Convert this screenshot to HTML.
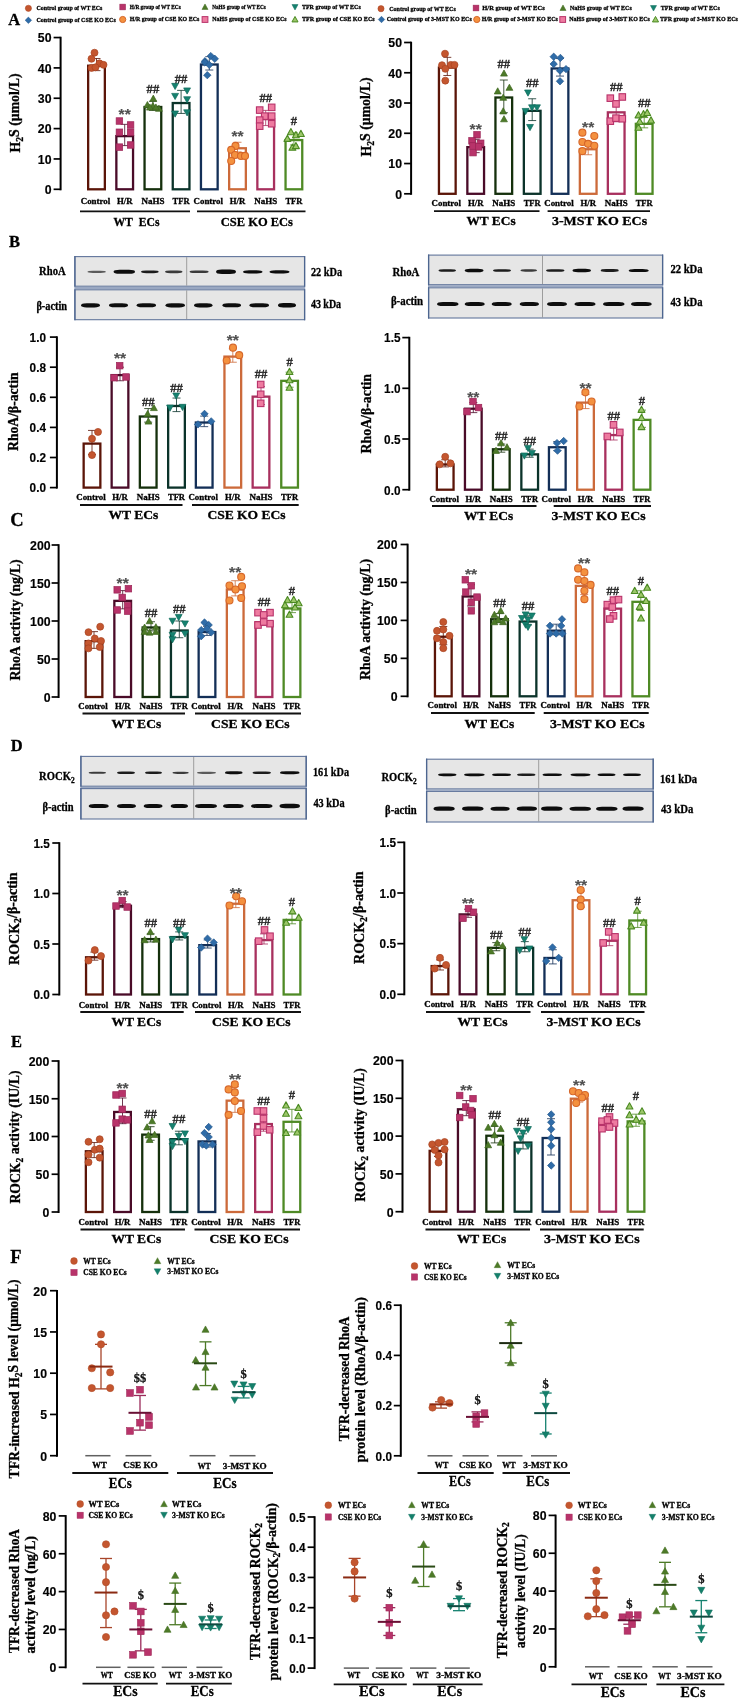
<!DOCTYPE html><html><head><meta charset="utf-8"><style>html,body{margin:0;padding:0;background:#fff;}svg{display:block;will-change:transform;filter:blur(0.35px);}</style></head><body>
<svg width="742" height="1701" viewBox="0 0 742 1701">
<defs><filter id="bl" x="-20%" y="-100%" width="140%" height="300%"><feGaussianBlur stdDeviation="0.55"/></filter></defs>
<rect width="742" height="1701" fill="#fff"/>
<text x="14.2" y="25" font-family='"Liberation Serif", serif' font-size="16.5" font-weight="bold" text-anchor="middle" fill="#000" stroke="#000" stroke-width="0.3">A</text>
<text x="14.5" y="247" font-family='"Liberation Serif", serif' font-size="16.5" font-weight="bold" text-anchor="middle" fill="#000" stroke="#000" stroke-width="0.3">B</text>
<text x="16.9" y="525.5" font-family='"Liberation Serif", serif' font-size="18.5" font-weight="bold" text-anchor="middle" fill="#000" stroke="#000" stroke-width="0.3">C</text>
<text x="16.8" y="750.5" font-family='"Liberation Serif", serif' font-size="16.5" font-weight="bold" text-anchor="middle" fill="#000" stroke="#000" stroke-width="0.3">D</text>
<text x="16.5" y="1047" font-family='"Liberation Serif", serif' font-size="16.5" font-weight="bold" text-anchor="middle" fill="#000" stroke="#000" stroke-width="0.3">E</text>
<text x="16" y="1262.6" font-family='"Liberation Serif", serif' font-size="18.5" font-weight="bold" text-anchor="middle" fill="#000" stroke="#000" stroke-width="0.3">F</text>
<circle cx="28.4" cy="8.3" r="3.1" fill="#C4562F" stroke="#A8421F" stroke-width="0.5"/>
<text x="69.4" y="10.22" font-family='"Liberation Serif", serif' font-size="7" font-weight="bold" text-anchor="middle" fill="#000" textLength="65.7" lengthAdjust="spacingAndGlyphs" stroke="#000" stroke-width="0.3">Control group of WT ECs</text>
<path d="M28.4 17.05L31.65 20.3L28.4 23.55L25.14 20.3Z" fill="#2F6CA8" stroke="#24578C" stroke-width="0.5"/>
<text x="76.15" y="22.22" font-family='"Liberation Serif", serif' font-size="7" font-weight="bold" text-anchor="middle" fill="#000" textLength="79.2" lengthAdjust="spacingAndGlyphs" stroke="#000" stroke-width="0.3">Control group of CSE KO ECs</text>
<rect x="119.82" y="4.12" width="5.77" height="5.77" fill="#B8336A" stroke="#9A2455" stroke-width="0.5"/>
<text x="155.25" y="8.92" font-family='"Liberation Serif", serif' font-size="7" font-weight="bold" text-anchor="middle" fill="#000" textLength="51" lengthAdjust="spacingAndGlyphs" stroke="#000" stroke-width="0.3">H/R group of WT ECs</text>
<circle cx="122.7" cy="19.5" r="3.1" fill="#F4913F" stroke="#D6672A" stroke-width="1"/>
<text x="164.5" y="21.42" font-family='"Liberation Serif", serif' font-size="7" font-weight="bold" text-anchor="middle" fill="#000" textLength="69.5" lengthAdjust="spacingAndGlyphs" stroke="#000" stroke-width="0.3">H/R group of CSE KO ECs</text>
<path d="M205 3.96L208.04 9.43L201.96 9.43Z" fill="#4D7A28" stroke="#3C661C" stroke-width="0.5" stroke-linejoin="round"/>
<text x="239" y="8.92" font-family='"Liberation Serif", serif' font-size="7" font-weight="bold" text-anchor="middle" fill="#000" textLength="53.5" lengthAdjust="spacingAndGlyphs" stroke="#000" stroke-width="0.3">NaHS group of WT ECs</text>
<rect x="202.12" y="16.62" width="5.77" height="5.77" fill="#EE7BA0" stroke="#B8336A" stroke-width="1"/>
<text x="249.4" y="21.42" font-family='"Liberation Serif", serif' font-size="7" font-weight="bold" text-anchor="middle" fill="#000" textLength="74.3" lengthAdjust="spacingAndGlyphs" stroke="#000" stroke-width="0.3">NaHS group of CSE KO ECs</text>
<path d="M295 10.04L298.04 4.57L291.96 4.57Z" fill="#168270" stroke="#0D6A5A" stroke-width="0.5" stroke-linejoin="round"/>
<text x="331.35" y="8.92" font-family='"Liberation Serif", serif' font-size="7" font-weight="bold" text-anchor="middle" fill="#000" textLength="58.8" lengthAdjust="spacingAndGlyphs" stroke="#000" stroke-width="0.3">TFR group of WT ECs</text>
<path d="M295 16.46L298.04 21.93L291.96 21.93Z" fill="#9CC76A" stroke="#4B8A22" stroke-width="1" stroke-linejoin="round"/>
<text x="338.35" y="21.42" font-family='"Liberation Serif", serif' font-size="7" font-weight="bold" text-anchor="middle" fill="#000" textLength="72.8" lengthAdjust="spacingAndGlyphs" stroke="#000" stroke-width="0.3">TFR group of CSE KO ECs</text>
<circle cx="381" cy="8.7" r="3.1" fill="#C4562F" stroke="#A8421F" stroke-width="0.5"/>
<text x="422.5" y="10.62" font-family='"Liberation Serif", serif' font-size="7" font-weight="bold" text-anchor="middle" fill="#000" textLength="66.5" lengthAdjust="spacingAndGlyphs" stroke="#000" stroke-width="0.3">Control group of WT ECs</text>
<path d="M381.5 16.25L384.75 19.5L381.5 22.75L378.25 19.5Z" fill="#2F6CA8" stroke="#24578C" stroke-width="0.5"/>
<text x="429.25" y="21.42" font-family='"Liberation Serif", serif' font-size="7" font-weight="bold" text-anchor="middle" fill="#000" textLength="85" lengthAdjust="spacingAndGlyphs" stroke="#000" stroke-width="0.3">Control group of 3-MST KO ECs</text>
<rect x="473.12" y="5.12" width="5.77" height="5.77" fill="#B8336A" stroke="#9A2455" stroke-width="0.5"/>
<text x="513.5" y="9.92" font-family='"Liberation Serif", serif' font-size="7" font-weight="bold" text-anchor="middle" fill="#000" textLength="62.5" lengthAdjust="spacingAndGlyphs" stroke="#000" stroke-width="0.3">H/R group of WT ECs</text>
<circle cx="476.8" cy="19.5" r="3.1" fill="#F4913F" stroke="#D6672A" stroke-width="1"/>
<text x="519.85" y="21.42" font-family='"Liberation Serif", serif' font-size="7" font-weight="bold" text-anchor="middle" fill="#000" textLength="76.2" lengthAdjust="spacingAndGlyphs" stroke="#000" stroke-width="0.3">H/R group of 3-MST KO ECs</text>
<path d="M563 4.96L566.04 10.43L559.96 10.43Z" fill="#4D7A28" stroke="#3C661C" stroke-width="0.5" stroke-linejoin="round"/>
<text x="600.85" y="9.92" font-family='"Liberation Serif", serif' font-size="7" font-weight="bold" text-anchor="middle" fill="#000" textLength="61.8" lengthAdjust="spacingAndGlyphs" stroke="#000" stroke-width="0.3">NaHS group of WT ECs</text>
<rect x="559.82" y="16.62" width="5.77" height="5.77" fill="#EE7BA0" stroke="#B8336A" stroke-width="1"/>
<text x="609.6" y="21.42" font-family='"Liberation Serif", serif' font-size="7" font-weight="bold" text-anchor="middle" fill="#000" textLength="80.7" lengthAdjust="spacingAndGlyphs" stroke="#000" stroke-width="0.3">NaHS group of 3-MST KO ECs</text>
<path d="M653.5 11.04L656.54 5.57L650.46 5.57Z" fill="#168270" stroke="#0D6A5A" stroke-width="0.5" stroke-linejoin="round"/>
<text x="690.25" y="9.92" font-family='"Liberation Serif", serif' font-size="7" font-weight="bold" text-anchor="middle" fill="#000" textLength="59" lengthAdjust="spacingAndGlyphs" stroke="#000" stroke-width="0.3">TFR group of WT ECs</text>
<path d="M655.5 16.46L658.54 21.93L652.46 21.93Z" fill="#9CC76A" stroke="#4B8A22" stroke-width="1" stroke-linejoin="round"/>
<text x="698.95" y="21.42" font-family='"Liberation Serif", serif' font-size="7" font-weight="bold" text-anchor="middle" fill="#000" textLength="78" lengthAdjust="spacingAndGlyphs" stroke="#000" stroke-width="0.3">TFR group of 3-MST KO ECs</text>
<line x1="60.6" y1="36.75" x2="60.6" y2="190.3" stroke="#000" stroke-width="2"/>
<line x1="53.6" y1="189.3" x2="60.6" y2="189.3" stroke="#000" stroke-width="1.7"/>
<text x="51.5" y="194.1" font-family='"Liberation Sans", sans-serif' font-size="12.3" font-weight="bold" text-anchor="end" fill="#000" stroke="#000" stroke-width="0.15">0</text>
<line x1="53.6" y1="158.95" x2="60.6" y2="158.95" stroke="#000" stroke-width="1.7"/>
<text x="51.5" y="163.75" font-family='"Liberation Sans", sans-serif' font-size="12.3" font-weight="bold" text-anchor="end" fill="#000" stroke="#000" stroke-width="0.15">10</text>
<line x1="53.6" y1="128.6" x2="60.6" y2="128.6" stroke="#000" stroke-width="1.7"/>
<text x="51.5" y="133.4" font-family='"Liberation Sans", sans-serif' font-size="12.3" font-weight="bold" text-anchor="end" fill="#000" stroke="#000" stroke-width="0.15">20</text>
<line x1="53.6" y1="98.25" x2="60.6" y2="98.25" stroke="#000" stroke-width="1.7"/>
<text x="51.5" y="103.05" font-family='"Liberation Sans", sans-serif' font-size="12.3" font-weight="bold" text-anchor="end" fill="#000" stroke="#000" stroke-width="0.15">30</text>
<line x1="53.6" y1="67.9" x2="60.6" y2="67.9" stroke="#000" stroke-width="1.7"/>
<text x="51.5" y="72.7" font-family='"Liberation Sans", sans-serif' font-size="12.3" font-weight="bold" text-anchor="end" fill="#000" stroke="#000" stroke-width="0.15">40</text>
<line x1="53.6" y1="37.55" x2="60.6" y2="37.55" stroke="#000" stroke-width="1.7"/>
<text x="51.5" y="42.35" font-family='"Liberation Sans", sans-serif' font-size="12.3" font-weight="bold" text-anchor="end" fill="#000" stroke="#000" stroke-width="0.15">50</text>
<rect x="88.15" y="65.71" width="16.7" height="123.59" fill="#fff" stroke="#5B1508" stroke-width="2.3"/>
<rect x="116.35" y="136.12" width="16.7" height="53.18" fill="#fff" stroke="#4A0B28" stroke-width="2.3"/>
<rect x="144.55" y="106.99" width="16.7" height="82.31" fill="#fff" stroke="#15300c" stroke-width="2.3"/>
<rect x="172.75" y="103.04" width="16.7" height="86.26" fill="#fff" stroke="#0b332a" stroke-width="2.3"/>
<rect x="200.95" y="64.5" width="16.7" height="124.8" fill="#fff" stroke="#132f57" stroke-width="2.3"/>
<rect x="229.15" y="148.26" width="16.7" height="41.04" fill="#fff" stroke="#cc6a3a" stroke-width="2.3"/>
<rect x="257.35" y="119.13" width="16.7" height="70.17" fill="#fff" stroke="#A8305E" stroke-width="2.3"/>
<rect x="285.55" y="140.07" width="16.7" height="49.23" fill="#fff" stroke="#4F8A25" stroke-width="2.3"/>
<line x1="96.5" y1="58.49" x2="96.5" y2="70.63" stroke="#5B1508" stroke-width="1" opacity="0.8"/>
<line x1="92.5" y1="58.49" x2="100.5" y2="58.49" stroke="#5B1508" stroke-width="1" opacity="0.8"/>
<line x1="92.5" y1="70.63" x2="100.5" y2="70.63" stroke="#5B1508" stroke-width="1" opacity="0.8"/>
<circle cx="94.5" cy="52.72" r="3.5" fill="#C4562F" stroke="#A8421F" stroke-width="0.7"/>
<circle cx="91.5" cy="58.8" r="3.5" fill="#C4562F" stroke="#A8421F" stroke-width="0.7"/>
<circle cx="99.5" cy="63.35" r="3.5" fill="#C4562F" stroke="#A8421F" stroke-width="0.7"/>
<circle cx="103.5" cy="64.87" r="3.5" fill="#C4562F" stroke="#A8421F" stroke-width="0.7"/>
<circle cx="91.5" cy="67.9" r="3.5" fill="#C4562F" stroke="#A8421F" stroke-width="0.7"/>
<circle cx="95.5" cy="67.29" r="3.5" fill="#C4562F" stroke="#A8421F" stroke-width="0.7"/>
<line x1="124.7" y1="124.35" x2="124.7" y2="145.6" stroke="#4A0B28" stroke-width="1" opacity="0.8"/>
<line x1="120.7" y1="124.35" x2="128.7" y2="124.35" stroke="#4A0B28" stroke-width="1" opacity="0.8"/>
<line x1="120.7" y1="145.6" x2="128.7" y2="145.6" stroke="#4A0B28" stroke-width="1" opacity="0.8"/>
<rect x="116.15" y="117.76" width="6.51" height="6.51" fill="#B8336A" stroke="#9A2455" stroke-width="0.7"/>
<rect x="127.34" y="121.7" width="6.51" height="6.51" fill="#B8336A" stroke="#9A2455" stroke-width="0.7"/>
<rect x="116.15" y="128.99" width="6.51" height="6.51" fill="#B8336A" stroke="#9A2455" stroke-width="0.7"/>
<rect x="127.34" y="128.99" width="6.51" height="6.51" fill="#B8336A" stroke="#9A2455" stroke-width="0.7"/>
<rect x="116.15" y="143.86" width="6.51" height="6.51" fill="#B8336A" stroke="#9A2455" stroke-width="0.7"/>
<rect x="127.34" y="141.73" width="6.51" height="6.51" fill="#B8336A" stroke="#9A2455" stroke-width="0.7"/>
<line x1="152.9" y1="101.29" x2="152.9" y2="110.39" stroke="#15300c" stroke-width="1" opacity="0.8"/>
<line x1="148.9" y1="101.29" x2="156.9" y2="101.29" stroke="#15300c" stroke-width="1" opacity="0.8"/>
<line x1="148.9" y1="110.39" x2="156.9" y2="110.39" stroke="#15300c" stroke-width="1" opacity="0.8"/>
<path d="M153.3 95.12L156.73 101.3L149.87 101.3Z" fill="#4D7A28" stroke="#3C661C" stroke-width="0.7" stroke-linejoin="round"/>
<path d="M147.4 101.5L150.83 107.67L143.97 107.67Z" fill="#4D7A28" stroke="#3C661C" stroke-width="0.7" stroke-linejoin="round"/>
<path d="M158.9 105.14L162.33 111.31L155.47 111.31Z" fill="#4D7A28" stroke="#3C661C" stroke-width="0.7" stroke-linejoin="round"/>
<path d="M152.9 102.41L156.33 108.58L149.47 108.58Z" fill="#4D7A28" stroke="#3C661C" stroke-width="0.7" stroke-linejoin="round"/>
<path d="M149.9 103.93L153.33 110.1L146.47 110.1Z" fill="#4D7A28" stroke="#3C661C" stroke-width="0.7" stroke-linejoin="round"/>
<path d="M155.9 103.93L159.33 110.1L152.47 110.1Z" fill="#4D7A28" stroke="#3C661C" stroke-width="0.7" stroke-linejoin="round"/>
<line x1="181.1" y1="90.36" x2="181.1" y2="113.43" stroke="#0b332a" stroke-width="1" opacity="0.8"/>
<line x1="177.1" y1="90.36" x2="185.1" y2="90.36" stroke="#0b332a" stroke-width="1" opacity="0.8"/>
<line x1="177.1" y1="113.43" x2="185.1" y2="113.43" stroke="#0b332a" stroke-width="1" opacity="0.8"/>
<path d="M175.1 89.54L178.53 83.37L171.67 83.37Z" fill="#168270" stroke="#0D6A5A" stroke-width="0.7" stroke-linejoin="round"/>
<path d="M187.1 94.09L190.53 87.92L183.67 87.92Z" fill="#168270" stroke="#0D6A5A" stroke-width="0.7" stroke-linejoin="round"/>
<path d="M175.1 99.56L178.53 93.38L171.67 93.38Z" fill="#168270" stroke="#0D6A5A" stroke-width="0.7" stroke-linejoin="round"/>
<path d="M187.1 102.89L190.53 96.72L183.67 96.72Z" fill="#168270" stroke="#0D6A5A" stroke-width="0.7" stroke-linejoin="round"/>
<path d="M175.1 117.16L178.53 110.98L171.67 110.98Z" fill="#168270" stroke="#0D6A5A" stroke-width="0.7" stroke-linejoin="round"/>
<path d="M187.1 115.94L190.53 109.77L183.67 109.77Z" fill="#168270" stroke="#0D6A5A" stroke-width="0.7" stroke-linejoin="round"/>
<line x1="209.3" y1="56.67" x2="209.3" y2="70.02" stroke="#132f57" stroke-width="1" opacity="0.8"/>
<line x1="205.3" y1="56.67" x2="213.3" y2="56.67" stroke="#132f57" stroke-width="1" opacity="0.8"/>
<line x1="205.3" y1="70.02" x2="213.3" y2="70.02" stroke="#132f57" stroke-width="1" opacity="0.8"/>
<path d="M205 57.55L208.68 61.22L205 64.9L201.32 61.22Z" fill="#2F6CA8" stroke="#24578C" stroke-width="0.7"/>
<path d="M210.8 52.39L214.48 56.06L210.8 59.74L207.12 56.06Z" fill="#2F6CA8" stroke="#24578C" stroke-width="0.7"/>
<path d="M214.8 55.12L218.48 58.8L214.8 62.47L211.12 58.8Z" fill="#2F6CA8" stroke="#24578C" stroke-width="0.7"/>
<path d="M204.8 58.76L208.48 62.44L204.8 66.11L201.12 62.44Z" fill="#2F6CA8" stroke="#24578C" stroke-width="0.7"/>
<path d="M207.3 71.51L210.98 75.18L207.3 78.86L203.62 75.18Z" fill="#2F6CA8" stroke="#24578C" stroke-width="0.7"/>
<path d="M209.3 61.19L212.98 64.87L209.3 68.54L205.62 64.87Z" fill="#2F6CA8" stroke="#24578C" stroke-width="0.7"/>
<line x1="237.5" y1="142.26" x2="237.5" y2="151.97" stroke="#cc6a3a" stroke-width="1" opacity="0.8"/>
<line x1="233.5" y1="142.26" x2="241.5" y2="142.26" stroke="#cc6a3a" stroke-width="1" opacity="0.8"/>
<line x1="233.5" y1="151.97" x2="241.5" y2="151.97" stroke="#cc6a3a" stroke-width="1" opacity="0.8"/>
<circle cx="235.5" cy="145.9" r="3.5" fill="#F4913F" stroke="#D6672A" stroke-width="1.1"/>
<circle cx="231.2" cy="149.85" r="3.5" fill="#F4913F" stroke="#D6672A" stroke-width="1.1"/>
<circle cx="235" cy="155" r="3.5" fill="#F4913F" stroke="#D6672A" stroke-width="1.1"/>
<circle cx="241" cy="155.92" r="3.5" fill="#F4913F" stroke="#D6672A" stroke-width="1.1"/>
<circle cx="245" cy="155.92" r="3.5" fill="#F4913F" stroke="#D6672A" stroke-width="1.1"/>
<circle cx="231.2" cy="161.07" r="3.5" fill="#F4913F" stroke="#D6672A" stroke-width="1.1"/>
<line x1="265.7" y1="110.39" x2="265.7" y2="125.57" stroke="#A8305E" stroke-width="1" opacity="0.8"/>
<line x1="261.7" y1="110.39" x2="269.7" y2="110.39" stroke="#A8305E" stroke-width="1" opacity="0.8"/>
<line x1="261.7" y1="125.57" x2="269.7" y2="125.57" stroke="#A8305E" stroke-width="1" opacity="0.8"/>
<rect x="256.44" y="106.83" width="6.51" height="6.51" fill="#EE7BA0" stroke="#B8336A" stroke-width="1.1"/>
<rect x="268.44" y="104.1" width="6.51" height="6.51" fill="#EE7BA0" stroke="#B8336A" stroke-width="1.1"/>
<rect x="268.44" y="112.9" width="6.51" height="6.51" fill="#EE7BA0" stroke="#B8336A" stroke-width="1.1"/>
<rect x="261.44" y="112.9" width="6.51" height="6.51" fill="#EE7BA0" stroke="#B8336A" stroke-width="1.1"/>
<rect x="256.44" y="116.85" width="6.51" height="6.51" fill="#EE7BA0" stroke="#B8336A" stroke-width="1.1"/>
<rect x="268.44" y="120.49" width="6.51" height="6.51" fill="#EE7BA0" stroke="#B8336A" stroke-width="1.1"/>
<rect x="256.44" y="122.92" width="6.51" height="6.51" fill="#EE7BA0" stroke="#B8336A" stroke-width="1.1"/>
<line x1="293.9" y1="132.85" x2="293.9" y2="144.99" stroke="#4F8A25" stroke-width="1" opacity="0.8"/>
<line x1="289.9" y1="132.85" x2="297.9" y2="132.85" stroke="#4F8A25" stroke-width="1" opacity="0.8"/>
<line x1="289.9" y1="144.99" x2="297.9" y2="144.99" stroke="#4F8A25" stroke-width="1" opacity="0.8"/>
<path d="M290.9 128.51L294.33 134.68L287.47 134.68Z" fill="#9CC76A" stroke="#4B8A22" stroke-width="1.1" stroke-linejoin="round"/>
<path d="M295.9 131.54L299.33 137.72L292.47 137.72Z" fill="#9CC76A" stroke="#4B8A22" stroke-width="1.1" stroke-linejoin="round"/>
<path d="M300.9 130.33L304.33 136.5L297.47 136.5Z" fill="#9CC76A" stroke="#4B8A22" stroke-width="1.1" stroke-linejoin="round"/>
<path d="M287.4 135.19L290.83 141.36L283.97 141.36Z" fill="#9CC76A" stroke="#4B8A22" stroke-width="1.1" stroke-linejoin="round"/>
<path d="M292.4 143.99L295.83 150.16L288.97 150.16Z" fill="#9CC76A" stroke="#4B8A22" stroke-width="1.1" stroke-linejoin="round"/>
<path d="M295.9 142.47L299.33 148.64L292.47 148.64Z" fill="#9CC76A" stroke="#4B8A22" stroke-width="1.1" stroke-linejoin="round"/>
<text x="124.7" y="119.01" font-family='"Liberation Sans", sans-serif' font-size="15.5" font-weight="bold" text-anchor="middle" fill="#505050" textLength="12.2" lengthAdjust="spacingAndGlyphs" stroke="#505050" stroke-width="0.15">**</text>
<text x="152.9" y="93.29" font-family='"Liberation Serif", serif' font-size="13.5" font-weight="bold" text-anchor="middle" fill="#222" textLength="12.6" lengthAdjust="spacingAndGlyphs" stroke="#222" stroke-width="0.3">##</text>
<text x="181.1" y="82.59" font-family='"Liberation Serif", serif' font-size="13.5" font-weight="bold" text-anchor="middle" fill="#222" textLength="12.6" lengthAdjust="spacingAndGlyphs" stroke="#222" stroke-width="0.3">##</text>
<text x="237.5" y="141.21" font-family='"Liberation Sans", sans-serif' font-size="15.5" font-weight="bold" text-anchor="middle" fill="#505050" textLength="12.2" lengthAdjust="spacingAndGlyphs" stroke="#505050" stroke-width="0.15">**</text>
<text x="265.7" y="101.59" font-family='"Liberation Serif", serif' font-size="13.5" font-weight="bold" text-anchor="middle" fill="#222" textLength="12.6" lengthAdjust="spacingAndGlyphs" stroke="#222" stroke-width="0.3">##</text>
<text x="293.9" y="124.59" font-family='"Liberation Serif", serif' font-size="13.5" font-weight="bold" text-anchor="middle" fill="#222" textLength="6.3" lengthAdjust="spacingAndGlyphs" stroke="#222" stroke-width="0.3">#</text>
<text x="95.5" y="203.7" font-family='"Liberation Serif", serif' font-size="8.8" font-weight="bold" text-anchor="middle" fill="#000" textLength="29.5" lengthAdjust="spacingAndGlyphs" stroke="#000" stroke-width="0.3">Control</text>
<text x="124.7" y="203.7" font-family='"Liberation Serif", serif' font-size="8.8" font-weight="bold" text-anchor="middle" fill="#000" textLength="15.5" lengthAdjust="spacingAndGlyphs" stroke="#000" stroke-width="0.3">H/R</text>
<text x="152.9" y="203.7" font-family='"Liberation Serif", serif' font-size="8.8" font-weight="bold" text-anchor="middle" fill="#000" textLength="23" lengthAdjust="spacingAndGlyphs" stroke="#000" stroke-width="0.3">NaHS</text>
<text x="181.1" y="203.7" font-family='"Liberation Serif", serif' font-size="8.8" font-weight="bold" text-anchor="middle" fill="#000" textLength="17" lengthAdjust="spacingAndGlyphs" stroke="#000" stroke-width="0.3">TFR</text>
<text x="208.3" y="203.7" font-family='"Liberation Serif", serif' font-size="8.8" font-weight="bold" text-anchor="middle" fill="#000" textLength="29.5" lengthAdjust="spacingAndGlyphs" stroke="#000" stroke-width="0.3">Control</text>
<text x="237.5" y="203.7" font-family='"Liberation Serif", serif' font-size="8.8" font-weight="bold" text-anchor="middle" fill="#000" textLength="15.5" lengthAdjust="spacingAndGlyphs" stroke="#000" stroke-width="0.3">H/R</text>
<text x="265.7" y="203.7" font-family='"Liberation Serif", serif' font-size="8.8" font-weight="bold" text-anchor="middle" fill="#000" textLength="23" lengthAdjust="spacingAndGlyphs" stroke="#000" stroke-width="0.3">NaHS</text>
<text x="293.9" y="203.7" font-family='"Liberation Serif", serif' font-size="8.8" font-weight="bold" text-anchor="middle" fill="#000" textLength="17" lengthAdjust="spacingAndGlyphs" stroke="#000" stroke-width="0.3">TFR</text>
<line x1="80" y1="211.4" x2="190" y2="211.4" stroke="#111" stroke-width="1.8"/>
<line x1="197" y1="211.4" x2="305.5" y2="211.4" stroke="#111" stroke-width="1.8"/>
<text x="136.5" y="226" font-family='"Liberation Serif", serif' font-size="13" font-weight="bold" text-anchor="middle" fill="#000" textLength="46.2" lengthAdjust="spacingAndGlyphs" stroke="#000" stroke-width="0.3">WT&#160; ECs</text>
<text x="256.85" y="226" font-family='"Liberation Serif", serif' font-size="13" font-weight="bold" text-anchor="middle" fill="#000" textLength="72.1" lengthAdjust="spacingAndGlyphs" stroke="#000" stroke-width="0.3">CSE KO ECs</text>
<text transform="translate(20.3,113) rotate(-90)" x="0" y="0" font-family='"Liberation Serif", serif' font-size="13.8" font-weight="bold" text-anchor="middle" fill="#000" stroke="#000" stroke-width="0.3" textLength="79" lengthAdjust="spacingAndGlyphs">H<tspan font-size="70%" dy="0.28em">2</tspan><tspan dy="-0.28em">S (μmol/L)</tspan></text>
<line x1="411.1" y1="41.7" x2="411.1" y2="194.8" stroke="#000" stroke-width="2"/>
<line x1="404.1" y1="193.8" x2="411.1" y2="193.8" stroke="#000" stroke-width="1.7"/>
<text x="402" y="198.6" font-family='"Liberation Sans", sans-serif' font-size="12.3" font-weight="bold" text-anchor="end" fill="#000" stroke="#000" stroke-width="0.15">0</text>
<line x1="404.1" y1="163.54" x2="411.1" y2="163.54" stroke="#000" stroke-width="1.7"/>
<text x="402" y="168.34" font-family='"Liberation Sans", sans-serif' font-size="12.3" font-weight="bold" text-anchor="end" fill="#000" stroke="#000" stroke-width="0.15">10</text>
<line x1="404.1" y1="133.28" x2="411.1" y2="133.28" stroke="#000" stroke-width="1.7"/>
<text x="402" y="138.08" font-family='"Liberation Sans", sans-serif' font-size="12.3" font-weight="bold" text-anchor="end" fill="#000" stroke="#000" stroke-width="0.15">20</text>
<line x1="404.1" y1="103.02" x2="411.1" y2="103.02" stroke="#000" stroke-width="1.7"/>
<text x="402" y="107.82" font-family='"Liberation Sans", sans-serif' font-size="12.3" font-weight="bold" text-anchor="end" fill="#000" stroke="#000" stroke-width="0.15">30</text>
<line x1="404.1" y1="72.76" x2="411.1" y2="72.76" stroke="#000" stroke-width="1.7"/>
<text x="402" y="77.56" font-family='"Liberation Sans", sans-serif' font-size="12.3" font-weight="bold" text-anchor="end" fill="#000" stroke="#000" stroke-width="0.15">40</text>
<line x1="404.1" y1="42.5" x2="411.1" y2="42.5" stroke="#000" stroke-width="1.7"/>
<text x="402" y="47.3" font-family='"Liberation Sans", sans-serif' font-size="12.3" font-weight="bold" text-anchor="end" fill="#000" stroke="#000" stroke-width="0.15">50</text>
<rect x="438.95" y="67.56" width="16.7" height="126.24" fill="#fff" stroke="#5B1508" stroke-width="2.3"/>
<rect x="467.35" y="147.14" width="16.7" height="46.66" fill="#fff" stroke="#4A0B28" stroke-width="2.3"/>
<rect x="495.45" y="97.51" width="16.7" height="96.29" fill="#fff" stroke="#15300c" stroke-width="2.3"/>
<rect x="523.85" y="110.83" width="16.7" height="82.97" fill="#fff" stroke="#0b332a" stroke-width="2.3"/>
<rect x="551.65" y="68.46" width="16.7" height="125.34" fill="#fff" stroke="#132f57" stroke-width="2.3"/>
<rect x="579.85" y="149.26" width="16.7" height="44.54" fill="#fff" stroke="#cc6a3a" stroke-width="2.3"/>
<rect x="607.85" y="112.34" width="16.7" height="81.46" fill="#fff" stroke="#A8305E" stroke-width="2.3"/>
<rect x="635.85" y="123.84" width="16.7" height="69.96" fill="#fff" stroke="#4F8A25" stroke-width="2.3"/>
<line x1="447.3" y1="57.33" x2="447.3" y2="75.48" stroke="#5B1508" stroke-width="1" opacity="0.8"/>
<line x1="443.3" y1="57.33" x2="451.3" y2="57.33" stroke="#5B1508" stroke-width="1" opacity="0.8"/>
<line x1="443.3" y1="75.48" x2="451.3" y2="75.48" stroke="#5B1508" stroke-width="1" opacity="0.8"/>
<circle cx="445" cy="53.7" r="3.5" fill="#C4562F" stroke="#A8421F" stroke-width="0.7"/>
<circle cx="442" cy="65.2" r="3.5" fill="#C4562F" stroke="#A8421F" stroke-width="0.7"/>
<circle cx="450.8" cy="64.89" r="3.5" fill="#C4562F" stroke="#A8421F" stroke-width="0.7"/>
<circle cx="454.5" cy="64.89" r="3.5" fill="#C4562F" stroke="#A8421F" stroke-width="0.7"/>
<circle cx="445.3" cy="68.83" r="3.5" fill="#C4562F" stroke="#A8421F" stroke-width="0.7"/>
<circle cx="445.3" cy="80.63" r="3.5" fill="#C4562F" stroke="#A8421F" stroke-width="0.7"/>
<line x1="475.7" y1="139.33" x2="475.7" y2="152.65" stroke="#4A0B28" stroke-width="1" opacity="0.8"/>
<line x1="471.7" y1="139.33" x2="479.7" y2="139.33" stroke="#4A0B28" stroke-width="1" opacity="0.8"/>
<line x1="471.7" y1="152.65" x2="479.7" y2="152.65" stroke="#4A0B28" stroke-width="1" opacity="0.8"/>
<rect x="473.75" y="131.54" width="6.51" height="6.51" fill="#B8336A" stroke="#9A2455" stroke-width="0.7"/>
<rect x="468.75" y="137.59" width="6.51" height="6.51" fill="#B8336A" stroke="#9A2455" stroke-width="0.7"/>
<rect x="477.44" y="140.01" width="6.51" height="6.51" fill="#B8336A" stroke="#9A2455" stroke-width="0.7"/>
<rect x="469.75" y="142.73" width="6.51" height="6.51" fill="#B8336A" stroke="#9A2455" stroke-width="0.7"/>
<rect x="469.75" y="149.39" width="6.51" height="6.51" fill="#B8336A" stroke="#9A2455" stroke-width="0.7"/>
<rect x="475.44" y="143.64" width="6.51" height="6.51" fill="#B8336A" stroke="#9A2455" stroke-width="0.7"/>
<line x1="503.8" y1="80.02" x2="503.8" y2="112.7" stroke="#15300c" stroke-width="1" opacity="0.8"/>
<line x1="499.8" y1="80.02" x2="507.8" y2="80.02" stroke="#15300c" stroke-width="1" opacity="0.8"/>
<line x1="499.8" y1="112.7" x2="507.8" y2="112.7" stroke="#15300c" stroke-width="1" opacity="0.8"/>
<path d="M504 69.94L507.43 76.11L500.57 76.11Z" fill="#4D7A28" stroke="#3C661C" stroke-width="0.7" stroke-linejoin="round"/>
<path d="M497.7 87.79L501.13 93.96L494.27 93.96Z" fill="#4D7A28" stroke="#3C661C" stroke-width="0.7" stroke-linejoin="round"/>
<path d="M509.4 84.16L512.83 90.33L505.97 90.33Z" fill="#4D7A28" stroke="#3C661C" stroke-width="0.7" stroke-linejoin="round"/>
<path d="M503.2 94.14L506.63 100.32L499.77 100.32Z" fill="#4D7A28" stroke="#3C661C" stroke-width="0.7" stroke-linejoin="round"/>
<path d="M503.2 107.76L506.63 113.93L499.77 113.93Z" fill="#4D7A28" stroke="#3C661C" stroke-width="0.7" stroke-linejoin="round"/>
<path d="M504 115.63L507.43 121.8L500.57 121.8Z" fill="#4D7A28" stroke="#3C661C" stroke-width="0.7" stroke-linejoin="round"/>
<line x1="532.2" y1="98.78" x2="532.2" y2="120.57" stroke="#0b332a" stroke-width="1" opacity="0.8"/>
<line x1="528.2" y1="98.78" x2="536.2" y2="98.78" stroke="#0b332a" stroke-width="1" opacity="0.8"/>
<line x1="528.2" y1="120.57" x2="536.2" y2="120.57" stroke="#0b332a" stroke-width="1" opacity="0.8"/>
<path d="M528 96.16L531.43 89.99L524.57 89.99Z" fill="#168270" stroke="#0D6A5A" stroke-width="0.7" stroke-linejoin="round"/>
<path d="M525.6 114.62L529.03 108.45L522.17 108.45Z" fill="#168270" stroke="#0D6A5A" stroke-width="0.7" stroke-linejoin="round"/>
<path d="M532 110.99L535.43 104.82L528.57 104.82Z" fill="#168270" stroke="#0D6A5A" stroke-width="0.7" stroke-linejoin="round"/>
<path d="M537 110.99L540.43 104.82L533.57 104.82Z" fill="#168270" stroke="#0D6A5A" stroke-width="0.7" stroke-linejoin="round"/>
<path d="M530 130.66L533.43 124.48L526.57 124.48Z" fill="#168270" stroke="#0D6A5A" stroke-width="0.7" stroke-linejoin="round"/>
<line x1="560" y1="58.54" x2="560" y2="76.09" stroke="#132f57" stroke-width="1" opacity="0.8"/>
<line x1="556" y1="58.54" x2="564" y2="58.54" stroke="#132f57" stroke-width="1" opacity="0.8"/>
<line x1="556" y1="76.09" x2="564" y2="76.09" stroke="#132f57" stroke-width="1" opacity="0.8"/>
<path d="M553.7 53.05L557.38 56.72L553.7 60.4L550.03 56.72Z" fill="#2F6CA8" stroke="#24578C" stroke-width="0.7"/>
<path d="M560.4 54.26L564.07 57.93L560.4 61.61L556.73 57.93Z" fill="#2F6CA8" stroke="#24578C" stroke-width="0.7"/>
<path d="M553.7 60.31L557.38 63.98L553.7 67.66L550.03 63.98Z" fill="#2F6CA8" stroke="#24578C" stroke-width="0.7"/>
<path d="M560 66.97L563.67 70.64L560 74.32L556.33 70.64Z" fill="#2F6CA8" stroke="#24578C" stroke-width="0.7"/>
<path d="M566 65.45L569.67 69.13L566 72.8L562.33 69.13Z" fill="#2F6CA8" stroke="#24578C" stroke-width="0.7"/>
<path d="M560 77.56L563.67 81.23L560 84.91L556.33 81.23Z" fill="#2F6CA8" stroke="#24578C" stroke-width="0.7"/>
<line x1="588.2" y1="141.45" x2="588.2" y2="154.76" stroke="#cc6a3a" stroke-width="1" opacity="0.8"/>
<line x1="584.2" y1="141.45" x2="592.2" y2="141.45" stroke="#cc6a3a" stroke-width="1" opacity="0.8"/>
<line x1="584.2" y1="154.76" x2="592.2" y2="154.76" stroke="#cc6a3a" stroke-width="1" opacity="0.8"/>
<circle cx="582.4" cy="132.67" r="3.5" fill="#F4913F" stroke="#D6672A" stroke-width="1.1"/>
<circle cx="594.3" cy="136" r="3.5" fill="#F4913F" stroke="#D6672A" stroke-width="1.1"/>
<circle cx="582.4" cy="142.06" r="3.5" fill="#F4913F" stroke="#D6672A" stroke-width="1.1"/>
<circle cx="588" cy="143.87" r="3.5" fill="#F4913F" stroke="#D6672A" stroke-width="1.1"/>
<circle cx="594.3" cy="145.69" r="3.5" fill="#F4913F" stroke="#D6672A" stroke-width="1.1"/>
<circle cx="582.4" cy="151.13" r="3.5" fill="#F4913F" stroke="#D6672A" stroke-width="1.1"/>
<line x1="616.2" y1="100.6" x2="616.2" y2="121.78" stroke="#A8305E" stroke-width="1" opacity="0.8"/>
<line x1="612.2" y1="100.6" x2="620.2" y2="100.6" stroke="#A8305E" stroke-width="1" opacity="0.8"/>
<line x1="612.2" y1="121.78" x2="620.2" y2="121.78" stroke="#A8305E" stroke-width="1" opacity="0.8"/>
<rect x="607.05" y="94.92" width="6.51" height="6.51" fill="#EE7BA0" stroke="#B8336A" stroke-width="1.1"/>
<rect x="619.05" y="93.71" width="6.51" height="6.51" fill="#EE7BA0" stroke="#B8336A" stroke-width="1.1"/>
<rect x="612.75" y="100.67" width="6.51" height="6.51" fill="#EE7BA0" stroke="#B8336A" stroke-width="1.1"/>
<rect x="607.05" y="117.92" width="6.51" height="6.51" fill="#EE7BA0" stroke="#B8336A" stroke-width="1.1"/>
<rect x="612.75" y="114.9" width="6.51" height="6.51" fill="#EE7BA0" stroke="#B8336A" stroke-width="1.1"/>
<rect x="619.05" y="115.5" width="6.51" height="6.51" fill="#EE7BA0" stroke="#B8336A" stroke-width="1.1"/>
<line x1="644.2" y1="117.54" x2="644.2" y2="127.83" stroke="#4F8A25" stroke-width="1" opacity="0.8"/>
<line x1="640.2" y1="117.54" x2="648.2" y2="117.54" stroke="#4F8A25" stroke-width="1" opacity="0.8"/>
<line x1="640.2" y1="127.83" x2="648.2" y2="127.83" stroke="#4F8A25" stroke-width="1" opacity="0.8"/>
<path d="M638.5 111.69L641.93 117.87L635.07 117.87Z" fill="#9CC76A" stroke="#4B8A22" stroke-width="1.1" stroke-linejoin="round"/>
<path d="M643.5 110.48L646.93 116.66L640.07 116.66Z" fill="#9CC76A" stroke="#4B8A22" stroke-width="1.1" stroke-linejoin="round"/>
<path d="M647.2 109.27L650.63 115.45L643.77 115.45Z" fill="#9CC76A" stroke="#4B8A22" stroke-width="1.1" stroke-linejoin="round"/>
<path d="M651 116.84L654.43 123.01L647.57 123.01Z" fill="#9CC76A" stroke="#4B8A22" stroke-width="1.1" stroke-linejoin="round"/>
<path d="M639.7 118.05L643.13 124.22L636.27 124.22Z" fill="#9CC76A" stroke="#4B8A22" stroke-width="1.1" stroke-linejoin="round"/>
<path d="M638.5 124.1L641.93 130.27L635.07 130.27Z" fill="#9CC76A" stroke="#4B8A22" stroke-width="1.1" stroke-linejoin="round"/>
<text x="475.7" y="134.21" font-family='"Liberation Sans", sans-serif' font-size="15.5" font-weight="bold" text-anchor="middle" fill="#505050" textLength="12.2" lengthAdjust="spacingAndGlyphs" stroke="#505050" stroke-width="0.15">**</text>
<text x="503.8" y="68.29" font-family='"Liberation Serif", serif' font-size="13.5" font-weight="bold" text-anchor="middle" fill="#222" textLength="12.6" lengthAdjust="spacingAndGlyphs" stroke="#222" stroke-width="0.3">##</text>
<text x="532.2" y="86.59" font-family='"Liberation Serif", serif' font-size="13.5" font-weight="bold" text-anchor="middle" fill="#222" textLength="12.6" lengthAdjust="spacingAndGlyphs" stroke="#222" stroke-width="0.3">##</text>
<text x="588.2" y="132.21" font-family='"Liberation Sans", sans-serif' font-size="15.5" font-weight="bold" text-anchor="middle" fill="#505050" textLength="12.2" lengthAdjust="spacingAndGlyphs" stroke="#505050" stroke-width="0.15">**</text>
<text x="616.2" y="90.59" font-family='"Liberation Serif", serif' font-size="13.5" font-weight="bold" text-anchor="middle" fill="#222" textLength="12.6" lengthAdjust="spacingAndGlyphs" stroke="#222" stroke-width="0.3">##</text>
<text x="644.2" y="107.09" font-family='"Liberation Serif", serif' font-size="13.5" font-weight="bold" text-anchor="middle" fill="#222" textLength="12.6" lengthAdjust="spacingAndGlyphs" stroke="#222" stroke-width="0.3">##</text>
<text x="446.3" y="206" font-family='"Liberation Serif", serif' font-size="8.8" font-weight="bold" text-anchor="middle" fill="#000" textLength="29.5" lengthAdjust="spacingAndGlyphs" stroke="#000" stroke-width="0.3">Control</text>
<text x="475.7" y="206" font-family='"Liberation Serif", serif' font-size="8.8" font-weight="bold" text-anchor="middle" fill="#000" textLength="15.5" lengthAdjust="spacingAndGlyphs" stroke="#000" stroke-width="0.3">H/R</text>
<text x="503.8" y="206" font-family='"Liberation Serif", serif' font-size="8.8" font-weight="bold" text-anchor="middle" fill="#000" textLength="23" lengthAdjust="spacingAndGlyphs" stroke="#000" stroke-width="0.3">NaHS</text>
<text x="532.2" y="206" font-family='"Liberation Serif", serif' font-size="8.8" font-weight="bold" text-anchor="middle" fill="#000" textLength="17" lengthAdjust="spacingAndGlyphs" stroke="#000" stroke-width="0.3">TFR</text>
<text x="559" y="206" font-family='"Liberation Serif", serif' font-size="8.8" font-weight="bold" text-anchor="middle" fill="#000" textLength="29.5" lengthAdjust="spacingAndGlyphs" stroke="#000" stroke-width="0.3">Control</text>
<text x="588.2" y="206" font-family='"Liberation Serif", serif' font-size="8.8" font-weight="bold" text-anchor="middle" fill="#000" textLength="15.5" lengthAdjust="spacingAndGlyphs" stroke="#000" stroke-width="0.3">H/R</text>
<text x="616.2" y="206" font-family='"Liberation Serif", serif' font-size="8.8" font-weight="bold" text-anchor="middle" fill="#000" textLength="23" lengthAdjust="spacingAndGlyphs" stroke="#000" stroke-width="0.3">NaHS</text>
<text x="644.2" y="206" font-family='"Liberation Serif", serif' font-size="8.8" font-weight="bold" text-anchor="middle" fill="#000" textLength="17" lengthAdjust="spacingAndGlyphs" stroke="#000" stroke-width="0.3">TFR</text>
<line x1="434" y1="211.2" x2="539.5" y2="211.2" stroke="#111" stroke-width="1.8"/>
<line x1="547.6" y1="211.2" x2="650" y2="211.2" stroke="#111" stroke-width="1.8"/>
<text x="491" y="225" font-family='"Liberation Serif", serif' font-size="13" font-weight="bold" text-anchor="middle" fill="#000" textLength="49.2" lengthAdjust="spacingAndGlyphs" stroke="#000" stroke-width="0.3">WT ECs</text>
<text x="599.55" y="225" font-family='"Liberation Serif", serif' font-size="13" font-weight="bold" text-anchor="middle" fill="#000" textLength="95.1" lengthAdjust="spacingAndGlyphs" stroke="#000" stroke-width="0.3">3-MST KO ECs</text>
<text transform="translate(371.1,117) rotate(-90)" x="0" y="0" font-family='"Liberation Serif", serif' font-size="13.8" font-weight="bold" text-anchor="middle" fill="#000" stroke="#000" stroke-width="0.3" textLength="79" lengthAdjust="spacingAndGlyphs">H<tspan font-size="70%" dy="0.28em">2</tspan><tspan dy="-0.28em">S (μmol/L)</tspan></text>
<line x1="56.9" y1="336.3" x2="56.9" y2="488.6" stroke="#000" stroke-width="2"/>
<line x1="49.9" y1="487.6" x2="56.9" y2="487.6" stroke="#000" stroke-width="1.7"/>
<text x="46" y="492.4" font-family='"Liberation Sans", sans-serif' font-size="12.3" font-weight="bold" text-anchor="end" fill="#000" textLength="16.4" lengthAdjust="spacingAndGlyphs" stroke="#000" stroke-width="0.15">0.0</text>
<line x1="49.9" y1="457.5" x2="56.9" y2="457.5" stroke="#000" stroke-width="1.7"/>
<text x="46" y="462.3" font-family='"Liberation Sans", sans-serif' font-size="12.3" font-weight="bold" text-anchor="end" fill="#000" textLength="16.4" lengthAdjust="spacingAndGlyphs" stroke="#000" stroke-width="0.15">0.2</text>
<line x1="49.9" y1="427.4" x2="56.9" y2="427.4" stroke="#000" stroke-width="1.7"/>
<text x="46" y="432.2" font-family='"Liberation Sans", sans-serif' font-size="12.3" font-weight="bold" text-anchor="end" fill="#000" textLength="16.4" lengthAdjust="spacingAndGlyphs" stroke="#000" stroke-width="0.15">0.4</text>
<line x1="49.9" y1="397.3" x2="56.9" y2="397.3" stroke="#000" stroke-width="1.7"/>
<text x="46" y="402.1" font-family='"Liberation Sans", sans-serif' font-size="12.3" font-weight="bold" text-anchor="end" fill="#000" textLength="16.4" lengthAdjust="spacingAndGlyphs" stroke="#000" stroke-width="0.15">0.6</text>
<line x1="49.9" y1="367.2" x2="56.9" y2="367.2" stroke="#000" stroke-width="1.7"/>
<text x="46" y="372" font-family='"Liberation Sans", sans-serif' font-size="12.3" font-weight="bold" text-anchor="end" fill="#000" textLength="16.4" lengthAdjust="spacingAndGlyphs" stroke="#000" stroke-width="0.15">0.8</text>
<line x1="49.9" y1="337.1" x2="56.9" y2="337.1" stroke="#000" stroke-width="1.7"/>
<text x="46" y="341.9" font-family='"Liberation Sans", sans-serif' font-size="12.3" font-weight="bold" text-anchor="end" fill="#000" textLength="16.4" lengthAdjust="spacingAndGlyphs" stroke="#000" stroke-width="0.15">1.0</text>
<rect x="83.65" y="443.6" width="16.7" height="44" fill="#fff" stroke="#5B1508" stroke-width="2.3"/>
<rect x="111.65" y="375.12" width="16.7" height="112.48" fill="#fff" stroke="#4A0B28" stroke-width="2.3"/>
<rect x="139.85" y="416.51" width="16.7" height="71.09" fill="#fff" stroke="#15300c" stroke-width="2.3"/>
<rect x="168.15" y="405.98" width="16.7" height="81.62" fill="#fff" stroke="#0b332a" stroke-width="2.3"/>
<rect x="195.85" y="422.53" width="16.7" height="65.07" fill="#fff" stroke="#132f57" stroke-width="2.3"/>
<rect x="224.45" y="356.61" width="16.7" height="130.99" fill="#fff" stroke="#cc6a3a" stroke-width="2.3"/>
<rect x="252.65" y="396.64" width="16.7" height="90.96" fill="#fff" stroke="#A8305E" stroke-width="2.3"/>
<rect x="281.25" y="380.84" width="16.7" height="106.76" fill="#fff" stroke="#4F8A25" stroke-width="2.3"/>
<line x1="92" y1="430.41" x2="92" y2="454.49" stroke="#5B1508" stroke-width="1" opacity="0.8"/>
<line x1="88" y1="430.41" x2="96" y2="430.41" stroke="#5B1508" stroke-width="1" opacity="0.8"/>
<line x1="88" y1="454.49" x2="96" y2="454.49" stroke="#5B1508" stroke-width="1" opacity="0.8"/>
<circle cx="98" cy="431.92" r="3.5" fill="#C4562F" stroke="#A8421F" stroke-width="0.7"/>
<circle cx="92" cy="438.69" r="3.5" fill="#C4562F" stroke="#A8421F" stroke-width="0.7"/>
<circle cx="92" cy="455.09" r="3.5" fill="#C4562F" stroke="#A8421F" stroke-width="0.7"/>
<line x1="120" y1="367.2" x2="120" y2="380.75" stroke="#4A0B28" stroke-width="1" opacity="0.8"/>
<line x1="116" y1="367.2" x2="124" y2="367.2" stroke="#4A0B28" stroke-width="1" opacity="0.8"/>
<line x1="116" y1="380.75" x2="124" y2="380.75" stroke="#4A0B28" stroke-width="1" opacity="0.8"/>
<rect x="116.45" y="362.44" width="6.51" height="6.51" fill="#B8336A" stroke="#9A2455" stroke-width="0.7"/>
<rect x="110.95" y="374.48" width="6.51" height="6.51" fill="#B8336A" stroke="#9A2455" stroke-width="0.7"/>
<rect x="122.75" y="373.73" width="6.51" height="6.51" fill="#B8336A" stroke="#9A2455" stroke-width="0.7"/>
<line x1="148.2" y1="408.59" x2="148.2" y2="422.13" stroke="#15300c" stroke-width="1" opacity="0.8"/>
<line x1="144.2" y1="408.59" x2="152.2" y2="408.59" stroke="#15300c" stroke-width="1" opacity="0.8"/>
<line x1="144.2" y1="422.13" x2="152.2" y2="422.13" stroke="#15300c" stroke-width="1" opacity="0.8"/>
<path d="M153.9 404.41L157.33 410.58L150.47 410.58Z" fill="#4D7A28" stroke="#3C661C" stroke-width="0.7" stroke-linejoin="round"/>
<path d="M147.6 410.43L151.03 416.6L144.17 416.6Z" fill="#4D7A28" stroke="#3C661C" stroke-width="0.7" stroke-linejoin="round"/>
<path d="M148.4 417.95L151.83 424.12L144.97 424.12Z" fill="#4D7A28" stroke="#3C661C" stroke-width="0.7" stroke-linejoin="round"/>
<line x1="176.5" y1="398.05" x2="176.5" y2="411.6" stroke="#0b332a" stroke-width="1" opacity="0.8"/>
<line x1="172.5" y1="398.05" x2="180.5" y2="398.05" stroke="#0b332a" stroke-width="1" opacity="0.8"/>
<line x1="172.5" y1="411.6" x2="180.5" y2="411.6" stroke="#0b332a" stroke-width="1" opacity="0.8"/>
<path d="M176.2 399.23L179.63 393.05L172.77 393.05Z" fill="#168270" stroke="#0D6A5A" stroke-width="0.7" stroke-linejoin="round"/>
<path d="M170 411.27L173.43 405.09L166.57 405.09Z" fill="#168270" stroke="#0D6A5A" stroke-width="0.7" stroke-linejoin="round"/>
<path d="M182.5 410.51L185.93 404.34L179.07 404.34Z" fill="#168270" stroke="#0D6A5A" stroke-width="0.7" stroke-linejoin="round"/>
<line x1="204.2" y1="416.11" x2="204.2" y2="426.65" stroke="#132f57" stroke-width="1" opacity="0.8"/>
<line x1="200.2" y1="416.11" x2="208.2" y2="416.11" stroke="#132f57" stroke-width="1" opacity="0.8"/>
<line x1="200.2" y1="426.65" x2="208.2" y2="426.65" stroke="#132f57" stroke-width="1" opacity="0.8"/>
<path d="M204.5 410.18L208.18 413.86L204.5 417.53L200.82 413.86Z" fill="#2F6CA8" stroke="#24578C" stroke-width="0.7"/>
<path d="M198 420.72L201.68 424.39L198 428.07L194.32 424.39Z" fill="#2F6CA8" stroke="#24578C" stroke-width="0.7"/>
<path d="M211.2 417.7L214.88 421.38L211.2 425.06L207.52 421.38Z" fill="#2F6CA8" stroke="#24578C" stroke-width="0.7"/>
<line x1="232.8" y1="348.69" x2="232.8" y2="362.23" stroke="#cc6a3a" stroke-width="1" opacity="0.8"/>
<line x1="228.8" y1="348.69" x2="236.8" y2="348.69" stroke="#cc6a3a" stroke-width="1" opacity="0.8"/>
<line x1="228.8" y1="362.23" x2="236.8" y2="362.23" stroke="#cc6a3a" stroke-width="1" opacity="0.8"/>
<circle cx="233" cy="347.63" r="3.5" fill="#F4913F" stroke="#D6672A" stroke-width="1.1"/>
<circle cx="239.2" cy="355.16" r="3.5" fill="#F4913F" stroke="#D6672A" stroke-width="1.1"/>
<circle cx="226.7" cy="360.43" r="3.5" fill="#F4913F" stroke="#D6672A" stroke-width="1.1"/>
<line x1="261" y1="386.46" x2="261" y2="404.52" stroke="#A8305E" stroke-width="1" opacity="0.8"/>
<line x1="257" y1="386.46" x2="265" y2="386.46" stroke="#A8305E" stroke-width="1" opacity="0.8"/>
<line x1="257" y1="404.52" x2="265" y2="404.52" stroke="#A8305E" stroke-width="1" opacity="0.8"/>
<rect x="257.44" y="381.25" width="6.51" height="6.51" fill="#EE7BA0" stroke="#B8336A" stroke-width="1.1"/>
<rect x="257.44" y="391.04" width="6.51" height="6.51" fill="#EE7BA0" stroke="#B8336A" stroke-width="1.1"/>
<rect x="257.44" y="400.07" width="6.51" height="6.51" fill="#EE7BA0" stroke="#B8336A" stroke-width="1.1"/>
<line x1="289.6" y1="372.17" x2="289.6" y2="387.22" stroke="#4F8A25" stroke-width="1" opacity="0.8"/>
<line x1="285.6" y1="372.17" x2="293.6" y2="372.17" stroke="#4F8A25" stroke-width="1" opacity="0.8"/>
<line x1="285.6" y1="387.22" x2="293.6" y2="387.22" stroke="#4F8A25" stroke-width="1" opacity="0.8"/>
<path d="M289.5 368.29L292.93 374.46L286.07 374.46Z" fill="#9CC76A" stroke="#4B8A22" stroke-width="1.1" stroke-linejoin="round"/>
<path d="M289.5 376.56L292.93 382.74L286.07 382.74Z" fill="#9CC76A" stroke="#4B8A22" stroke-width="1.1" stroke-linejoin="round"/>
<path d="M289.5 384.09L292.93 390.26L286.07 390.26Z" fill="#9CC76A" stroke="#4B8A22" stroke-width="1.1" stroke-linejoin="round"/>
<text x="120" y="363.41" font-family='"Liberation Sans", sans-serif' font-size="15.5" font-weight="bold" text-anchor="middle" fill="#505050" textLength="12.2" lengthAdjust="spacingAndGlyphs" stroke="#505050" stroke-width="0.15">**</text>
<text x="148.2" y="405.59" font-family='"Liberation Serif", serif' font-size="13.5" font-weight="bold" text-anchor="middle" fill="#222" textLength="12.6" lengthAdjust="spacingAndGlyphs" stroke="#222" stroke-width="0.3">##</text>
<text x="176.5" y="392.09" font-family='"Liberation Serif", serif' font-size="13.5" font-weight="bold" text-anchor="middle" fill="#222" textLength="12.6" lengthAdjust="spacingAndGlyphs" stroke="#222" stroke-width="0.3">##</text>
<text x="232.8" y="344.71" font-family='"Liberation Sans", sans-serif' font-size="15.5" font-weight="bold" text-anchor="middle" fill="#505050" textLength="12.2" lengthAdjust="spacingAndGlyphs" stroke="#505050" stroke-width="0.15">**</text>
<text x="261" y="377.59" font-family='"Liberation Serif", serif' font-size="13.5" font-weight="bold" text-anchor="middle" fill="#222" textLength="12.6" lengthAdjust="spacingAndGlyphs" stroke="#222" stroke-width="0.3">##</text>
<text x="289.6" y="365.59" font-family='"Liberation Serif", serif' font-size="13.5" font-weight="bold" text-anchor="middle" fill="#222" textLength="6.3" lengthAdjust="spacingAndGlyphs" stroke="#222" stroke-width="0.3">#</text>
<text x="91" y="500" font-family='"Liberation Serif", serif' font-size="8.8" font-weight="bold" text-anchor="middle" fill="#000" textLength="29.5" lengthAdjust="spacingAndGlyphs" stroke="#000" stroke-width="0.3">Control</text>
<text x="120" y="500" font-family='"Liberation Serif", serif' font-size="8.8" font-weight="bold" text-anchor="middle" fill="#000" textLength="15.5" lengthAdjust="spacingAndGlyphs" stroke="#000" stroke-width="0.3">H/R</text>
<text x="148.2" y="500" font-family='"Liberation Serif", serif' font-size="8.8" font-weight="bold" text-anchor="middle" fill="#000" textLength="23" lengthAdjust="spacingAndGlyphs" stroke="#000" stroke-width="0.3">NaHS</text>
<text x="176.5" y="500" font-family='"Liberation Serif", serif' font-size="8.8" font-weight="bold" text-anchor="middle" fill="#000" textLength="17" lengthAdjust="spacingAndGlyphs" stroke="#000" stroke-width="0.3">TFR</text>
<text x="203.2" y="500" font-family='"Liberation Serif", serif' font-size="8.8" font-weight="bold" text-anchor="middle" fill="#000" textLength="29.5" lengthAdjust="spacingAndGlyphs" stroke="#000" stroke-width="0.3">Control</text>
<text x="232.8" y="500" font-family='"Liberation Serif", serif' font-size="8.8" font-weight="bold" text-anchor="middle" fill="#000" textLength="15.5" lengthAdjust="spacingAndGlyphs" stroke="#000" stroke-width="0.3">H/R</text>
<text x="261" y="500" font-family='"Liberation Serif", serif' font-size="8.8" font-weight="bold" text-anchor="middle" fill="#000" textLength="23" lengthAdjust="spacingAndGlyphs" stroke="#000" stroke-width="0.3">NaHS</text>
<text x="289.6" y="500" font-family='"Liberation Serif", serif' font-size="8.8" font-weight="bold" text-anchor="middle" fill="#000" textLength="17" lengthAdjust="spacingAndGlyphs" stroke="#000" stroke-width="0.3">TFR</text>
<line x1="80" y1="505" x2="182.5" y2="505" stroke="#111" stroke-width="1.8"/>
<line x1="192" y1="505" x2="298.7" y2="505" stroke="#111" stroke-width="1.8"/>
<text x="133.35" y="518.5" font-family='"Liberation Serif", serif' font-size="13" font-weight="bold" text-anchor="middle" fill="#000" textLength="49.9" lengthAdjust="spacingAndGlyphs" stroke="#000" stroke-width="0.3">WT ECs</text>
<text x="246.5" y="518.5" font-family='"Liberation Serif", serif' font-size="13" font-weight="bold" text-anchor="middle" fill="#000" textLength="78.2" lengthAdjust="spacingAndGlyphs" stroke="#000" stroke-width="0.3">CSE KO ECs</text>
<text transform="translate(18,411.7) rotate(-90)" x="0" y="0" font-family='"Liberation Serif", serif' font-size="13.8" font-weight="bold" text-anchor="middle" fill="#000" stroke="#000" stroke-width="0.3" textLength="78.5" lengthAdjust="spacingAndGlyphs">RhoA/β-actin</text>
<line x1="409.3" y1="336.8" x2="409.3" y2="490.7" stroke="#000" stroke-width="2"/>
<line x1="402.3" y1="489.7" x2="409.3" y2="489.7" stroke="#000" stroke-width="1.7"/>
<text x="400.5" y="494.5" font-family='"Liberation Sans", sans-serif' font-size="12.3" font-weight="bold" text-anchor="end" fill="#000" textLength="16.4" lengthAdjust="spacingAndGlyphs" stroke="#000" stroke-width="0.15">0.0</text>
<line x1="402.3" y1="439" x2="409.3" y2="439" stroke="#000" stroke-width="1.7"/>
<text x="400.5" y="443.8" font-family='"Liberation Sans", sans-serif' font-size="12.3" font-weight="bold" text-anchor="end" fill="#000" textLength="16.4" lengthAdjust="spacingAndGlyphs" stroke="#000" stroke-width="0.15">0.5</text>
<line x1="402.3" y1="388.3" x2="409.3" y2="388.3" stroke="#000" stroke-width="1.7"/>
<text x="400.5" y="393.1" font-family='"Liberation Sans", sans-serif' font-size="12.3" font-weight="bold" text-anchor="end" fill="#000" textLength="16.4" lengthAdjust="spacingAndGlyphs" stroke="#000" stroke-width="0.15">1.0</text>
<line x1="402.3" y1="337.6" x2="409.3" y2="337.6" stroke="#000" stroke-width="1.7"/>
<text x="400.5" y="342.4" font-family='"Liberation Sans", sans-serif' font-size="12.3" font-weight="bold" text-anchor="end" fill="#000" textLength="16.4" lengthAdjust="spacingAndGlyphs" stroke="#000" stroke-width="0.15">1.5</text>
<rect x="436.85" y="464.49" width="16.7" height="25.21" fill="#fff" stroke="#5B1508" stroke-width="2.3"/>
<rect x="464.95" y="408.72" width="16.7" height="80.98" fill="#fff" stroke="#4A0B28" stroke-width="2.3"/>
<rect x="492.95" y="449.28" width="16.7" height="40.42" fill="#fff" stroke="#15300c" stroke-width="2.3"/>
<rect x="521.35" y="454.35" width="16.7" height="35.35" fill="#fff" stroke="#0b332a" stroke-width="2.3"/>
<rect x="548.95" y="447.25" width="16.7" height="42.45" fill="#fff" stroke="#132f57" stroke-width="2.3"/>
<rect x="577.15" y="402.63" width="16.7" height="87.07" fill="#fff" stroke="#cc6a3a" stroke-width="2.3"/>
<rect x="605.35" y="435.08" width="16.7" height="54.62" fill="#fff" stroke="#A8305E" stroke-width="2.3"/>
<rect x="633.65" y="419.87" width="16.7" height="69.83" fill="#fff" stroke="#4F8A25" stroke-width="2.3"/>
<line x1="445.2" y1="459.79" x2="445.2" y2="466.88" stroke="#5B1508" stroke-width="1" opacity="0.8"/>
<line x1="441.2" y1="459.79" x2="449.2" y2="459.79" stroke="#5B1508" stroke-width="1" opacity="0.8"/>
<line x1="441.2" y1="466.88" x2="449.2" y2="466.88" stroke="#5B1508" stroke-width="1" opacity="0.8"/>
<circle cx="445.2" cy="456.75" r="3.5" fill="#C4562F" stroke="#A8421F" stroke-width="0.7"/>
<circle cx="439.7" cy="464.35" r="3.5" fill="#C4562F" stroke="#A8421F" stroke-width="0.7"/>
<circle cx="450.5" cy="463.34" r="3.5" fill="#C4562F" stroke="#A8421F" stroke-width="0.7"/>
<line x1="473.3" y1="402.5" x2="473.3" y2="412.64" stroke="#4A0B28" stroke-width="1" opacity="0.8"/>
<line x1="469.3" y1="402.5" x2="477.3" y2="402.5" stroke="#4A0B28" stroke-width="1" opacity="0.8"/>
<line x1="469.3" y1="412.64" x2="477.3" y2="412.64" stroke="#4A0B28" stroke-width="1" opacity="0.8"/>
<rect x="469.75" y="398.23" width="6.51" height="6.51" fill="#B8336A" stroke="#9A2455" stroke-width="0.7"/>
<rect x="463.75" y="408.37" width="6.51" height="6.51" fill="#B8336A" stroke="#9A2455" stroke-width="0.7"/>
<rect x="475.25" y="404.31" width="6.51" height="6.51" fill="#B8336A" stroke="#9A2455" stroke-width="0.7"/>
<line x1="501.3" y1="444.07" x2="501.3" y2="452.18" stroke="#15300c" stroke-width="1" opacity="0.8"/>
<line x1="497.3" y1="444.07" x2="505.3" y2="444.07" stroke="#15300c" stroke-width="1" opacity="0.8"/>
<line x1="497.3" y1="452.18" x2="505.3" y2="452.18" stroke="#15300c" stroke-width="1" opacity="0.8"/>
<path d="M501 439.63L504.43 445.8L497.57 445.8Z" fill="#4D7A28" stroke="#3C661C" stroke-width="0.7" stroke-linejoin="round"/>
<path d="M496 447.23L499.43 453.4L492.57 453.4Z" fill="#4D7A28" stroke="#3C661C" stroke-width="0.7" stroke-linejoin="round"/>
<path d="M507 443.68L510.43 449.86L503.57 449.86Z" fill="#4D7A28" stroke="#3C661C" stroke-width="0.7" stroke-linejoin="round"/>
<line x1="529.7" y1="449.14" x2="529.7" y2="457.25" stroke="#0b332a" stroke-width="1" opacity="0.8"/>
<line x1="525.7" y1="449.14" x2="533.7" y2="449.14" stroke="#0b332a" stroke-width="1" opacity="0.8"/>
<line x1="525.7" y1="457.25" x2="533.7" y2="457.25" stroke="#0b332a" stroke-width="1" opacity="0.8"/>
<path d="M528 451.56L531.43 445.38L524.57 445.38Z" fill="#168270" stroke="#0D6A5A" stroke-width="0.7" stroke-linejoin="round"/>
<path d="M524.4 459.16L527.83 452.99L520.97 452.99Z" fill="#168270" stroke="#0D6A5A" stroke-width="0.7" stroke-linejoin="round"/>
<path d="M532 456.63L535.43 450.45L528.57 450.45Z" fill="#168270" stroke="#0D6A5A" stroke-width="0.7" stroke-linejoin="round"/>
<line x1="557.3" y1="441.53" x2="557.3" y2="450.66" stroke="#132f57" stroke-width="1" opacity="0.8"/>
<line x1="553.3" y1="441.53" x2="561.3" y2="441.53" stroke="#132f57" stroke-width="1" opacity="0.8"/>
<line x1="553.3" y1="450.66" x2="561.3" y2="450.66" stroke="#132f57" stroke-width="1" opacity="0.8"/>
<path d="M557 439.38L560.67 443.06L557 446.73L553.33 443.06Z" fill="#2F6CA8" stroke="#24578C" stroke-width="0.7"/>
<path d="M563.7 437.35L567.37 441.03L563.7 444.7L560.02 441.03Z" fill="#2F6CA8" stroke="#24578C" stroke-width="0.7"/>
<path d="M557.5 446.99L561.17 450.66L557.5 454.34L553.83 450.66Z" fill="#2F6CA8" stroke="#24578C" stroke-width="0.7"/>
<line x1="585.5" y1="394.38" x2="585.5" y2="408.58" stroke="#cc6a3a" stroke-width="1" opacity="0.8"/>
<line x1="581.5" y1="394.38" x2="589.5" y2="394.38" stroke="#cc6a3a" stroke-width="1" opacity="0.8"/>
<line x1="581.5" y1="408.58" x2="589.5" y2="408.58" stroke="#cc6a3a" stroke-width="1" opacity="0.8"/>
<circle cx="585.4" cy="392.36" r="3.5" fill="#F4913F" stroke="#D6672A" stroke-width="1.1"/>
<circle cx="591.6" cy="401.48" r="3.5" fill="#F4913F" stroke="#D6672A" stroke-width="1.1"/>
<circle cx="579.4" cy="406.55" r="3.5" fill="#F4913F" stroke="#D6672A" stroke-width="1.1"/>
<line x1="613.7" y1="427.85" x2="613.7" y2="440.01" stroke="#A8305E" stroke-width="1" opacity="0.8"/>
<line x1="609.7" y1="427.85" x2="617.7" y2="427.85" stroke="#A8305E" stroke-width="1" opacity="0.8"/>
<line x1="609.7" y1="440.01" x2="617.7" y2="440.01" stroke="#A8305E" stroke-width="1" opacity="0.8"/>
<rect x="610.25" y="421.55" width="6.51" height="6.51" fill="#EE7BA0" stroke="#B8336A" stroke-width="1.1"/>
<rect x="616.55" y="429.15" width="6.51" height="6.51" fill="#EE7BA0" stroke="#B8336A" stroke-width="1.1"/>
<rect x="604.05" y="433.21" width="6.51" height="6.51" fill="#EE7BA0" stroke="#B8336A" stroke-width="1.1"/>
<line x1="642" y1="410.1" x2="642" y2="427.34" stroke="#4F8A25" stroke-width="1" opacity="0.8"/>
<line x1="638" y1="410.1" x2="646" y2="410.1" stroke="#4F8A25" stroke-width="1" opacity="0.8"/>
<line x1="638" y1="427.34" x2="646" y2="427.34" stroke="#4F8A25" stroke-width="1" opacity="0.8"/>
<path d="M641.5 406.16L644.93 412.34L638.07 412.34Z" fill="#9CC76A" stroke="#4B8A22" stroke-width="1.1" stroke-linejoin="round"/>
<path d="M641.5 414.28L644.93 420.45L638.07 420.45Z" fill="#9CC76A" stroke="#4B8A22" stroke-width="1.1" stroke-linejoin="round"/>
<path d="M641.5 423.4L644.93 429.58L638.07 429.58Z" fill="#9CC76A" stroke="#4B8A22" stroke-width="1.1" stroke-linejoin="round"/>
<text x="473.3" y="402.21" font-family='"Liberation Sans", sans-serif' font-size="15.5" font-weight="bold" text-anchor="middle" fill="#505050" textLength="12.2" lengthAdjust="spacingAndGlyphs" stroke="#505050" stroke-width="0.15">**</text>
<text x="501.3" y="439.59" font-family='"Liberation Serif", serif' font-size="13.5" font-weight="bold" text-anchor="middle" fill="#222" textLength="12.6" lengthAdjust="spacingAndGlyphs" stroke="#222" stroke-width="0.3">##</text>
<text x="529.7" y="444.59" font-family='"Liberation Serif", serif' font-size="13.5" font-weight="bold" text-anchor="middle" fill="#222" textLength="12.6" lengthAdjust="spacingAndGlyphs" stroke="#222" stroke-width="0.3">##</text>
<text x="585.5" y="392.71" font-family='"Liberation Sans", sans-serif' font-size="15.5" font-weight="bold" text-anchor="middle" fill="#505050" textLength="12.2" lengthAdjust="spacingAndGlyphs" stroke="#505050" stroke-width="0.15">**</text>
<text x="613.7" y="419.59" font-family='"Liberation Serif", serif' font-size="13.5" font-weight="bold" text-anchor="middle" fill="#222" textLength="12.6" lengthAdjust="spacingAndGlyphs" stroke="#222" stroke-width="0.3">##</text>
<text x="642" y="405.09" font-family='"Liberation Serif", serif' font-size="13.5" font-weight="bold" text-anchor="middle" fill="#222" textLength="6.3" lengthAdjust="spacingAndGlyphs" stroke="#222" stroke-width="0.3">#</text>
<text x="444.2" y="501.5" font-family='"Liberation Serif", serif' font-size="8.8" font-weight="bold" text-anchor="middle" fill="#000" textLength="29.5" lengthAdjust="spacingAndGlyphs" stroke="#000" stroke-width="0.3">Control</text>
<text x="473.3" y="501.5" font-family='"Liberation Serif", serif' font-size="8.8" font-weight="bold" text-anchor="middle" fill="#000" textLength="15.5" lengthAdjust="spacingAndGlyphs" stroke="#000" stroke-width="0.3">H/R</text>
<text x="501.3" y="501.5" font-family='"Liberation Serif", serif' font-size="8.8" font-weight="bold" text-anchor="middle" fill="#000" textLength="23" lengthAdjust="spacingAndGlyphs" stroke="#000" stroke-width="0.3">NaHS</text>
<text x="529.7" y="501.5" font-family='"Liberation Serif", serif' font-size="8.8" font-weight="bold" text-anchor="middle" fill="#000" textLength="17" lengthAdjust="spacingAndGlyphs" stroke="#000" stroke-width="0.3">TFR</text>
<text x="556.3" y="501.5" font-family='"Liberation Serif", serif' font-size="8.8" font-weight="bold" text-anchor="middle" fill="#000" textLength="29.5" lengthAdjust="spacingAndGlyphs" stroke="#000" stroke-width="0.3">Control</text>
<text x="585.5" y="501.5" font-family='"Liberation Serif", serif' font-size="8.8" font-weight="bold" text-anchor="middle" fill="#000" textLength="15.5" lengthAdjust="spacingAndGlyphs" stroke="#000" stroke-width="0.3">H/R</text>
<text x="613.7" y="501.5" font-family='"Liberation Serif", serif' font-size="8.8" font-weight="bold" text-anchor="middle" fill="#000" textLength="23" lengthAdjust="spacingAndGlyphs" stroke="#000" stroke-width="0.3">NaHS</text>
<text x="642" y="501.5" font-family='"Liberation Serif", serif' font-size="8.8" font-weight="bold" text-anchor="middle" fill="#000" textLength="17" lengthAdjust="spacingAndGlyphs" stroke="#000" stroke-width="0.3">TFR</text>
<line x1="432" y1="506" x2="536.5" y2="506" stroke="#111" stroke-width="1.8"/>
<line x1="553.7" y1="506" x2="651" y2="506" stroke="#111" stroke-width="1.8"/>
<text x="488.5" y="520" font-family='"Liberation Serif", serif' font-size="13" font-weight="bold" text-anchor="middle" fill="#000" textLength="49.2" lengthAdjust="spacingAndGlyphs" stroke="#000" stroke-width="0.3">WT ECs</text>
<text x="598.5" y="520" font-family='"Liberation Serif", serif' font-size="13" font-weight="bold" text-anchor="middle" fill="#000" textLength="94.2" lengthAdjust="spacingAndGlyphs" stroke="#000" stroke-width="0.3">3-MST KO ECs</text>
<text transform="translate(371,413.7) rotate(-90)" x="0" y="0" font-family='"Liberation Serif", serif' font-size="13.8" font-weight="bold" text-anchor="middle" fill="#000" stroke="#000" stroke-width="0.3" textLength="79.5" lengthAdjust="spacingAndGlyphs">RhoA/β-actin</text>
<line x1="58.6" y1="544.2" x2="58.6" y2="698" stroke="#000" stroke-width="2"/>
<line x1="51.6" y1="697" x2="58.6" y2="697" stroke="#000" stroke-width="1.7"/>
<text x="50.6" y="701.8" font-family='"Liberation Sans", sans-serif' font-size="12.3" font-weight="bold" text-anchor="end" fill="#000" stroke="#000" stroke-width="0.15">0</text>
<line x1="51.6" y1="659" x2="58.6" y2="659" stroke="#000" stroke-width="1.7"/>
<text x="50.6" y="663.8" font-family='"Liberation Sans", sans-serif' font-size="12.3" font-weight="bold" text-anchor="end" fill="#000" stroke="#000" stroke-width="0.15">50</text>
<line x1="51.6" y1="621" x2="58.6" y2="621" stroke="#000" stroke-width="1.7"/>
<text x="50.6" y="625.8" font-family='"Liberation Sans", sans-serif' font-size="12.3" font-weight="bold" text-anchor="end" fill="#000" stroke="#000" stroke-width="0.15">100</text>
<line x1="51.6" y1="583" x2="58.6" y2="583" stroke="#000" stroke-width="1.7"/>
<text x="50.6" y="587.8" font-family='"Liberation Sans", sans-serif' font-size="12.3" font-weight="bold" text-anchor="end" fill="#000" stroke="#000" stroke-width="0.15">150</text>
<line x1="51.6" y1="545" x2="58.6" y2="545" stroke="#000" stroke-width="1.7"/>
<text x="50.6" y="549.8" font-family='"Liberation Sans", sans-serif' font-size="12.3" font-weight="bold" text-anchor="end" fill="#000" stroke="#000" stroke-width="0.15">200</text>
<rect x="85.65" y="641.15" width="16.7" height="55.85" fill="#fff" stroke="#5B1508" stroke-width="2.3"/>
<rect x="114.35" y="600.87" width="16.7" height="96.13" fill="#fff" stroke="#4A0B28" stroke-width="2.3"/>
<rect x="142.65" y="627.47" width="16.7" height="69.53" fill="#fff" stroke="#15300c" stroke-width="2.3"/>
<rect x="170.95" y="630.51" width="16.7" height="66.49" fill="#fff" stroke="#0b332a" stroke-width="2.3"/>
<rect x="198.65" y="632.03" width="16.7" height="64.97" fill="#fff" stroke="#132f57" stroke-width="2.3"/>
<rect x="226.85" y="589.47" width="16.7" height="107.53" fill="#fff" stroke="#cc6a3a" stroke-width="2.3"/>
<rect x="255.65" y="622.15" width="16.7" height="74.85" fill="#fff" stroke="#A8305E" stroke-width="2.3"/>
<rect x="283.65" y="608.47" width="16.7" height="88.53" fill="#fff" stroke="#4F8A25" stroke-width="2.3"/>
<line x1="94" y1="631.64" x2="94" y2="648.36" stroke="#5B1508" stroke-width="1" opacity="0.8"/>
<line x1="90" y1="631.64" x2="98" y2="631.64" stroke="#5B1508" stroke-width="1" opacity="0.8"/>
<line x1="90" y1="648.36" x2="98" y2="648.36" stroke="#5B1508" stroke-width="1" opacity="0.8"/>
<circle cx="100.2" cy="626.7" r="3.5" fill="#C4562F" stroke="#A8421F" stroke-width="0.7"/>
<circle cx="88.5" cy="632.17" r="3.5" fill="#C4562F" stroke="#A8421F" stroke-width="0.7"/>
<circle cx="94.8" cy="638.48" r="3.5" fill="#C4562F" stroke="#A8421F" stroke-width="0.7"/>
<circle cx="101" cy="640.99" r="3.5" fill="#C4562F" stroke="#A8421F" stroke-width="0.7"/>
<circle cx="88.5" cy="643.42" r="3.5" fill="#C4562F" stroke="#A8421F" stroke-width="0.7"/>
<circle cx="88.5" cy="648.36" r="3.5" fill="#C4562F" stroke="#A8421F" stroke-width="0.7"/>
<circle cx="99.7" cy="647.07" r="3.5" fill="#C4562F" stroke="#A8421F" stroke-width="0.7"/>
<line x1="122.7" y1="590.6" x2="122.7" y2="608.84" stroke="#4A0B28" stroke-width="1" opacity="0.8"/>
<line x1="118.7" y1="590.6" x2="126.7" y2="590.6" stroke="#4A0B28" stroke-width="1" opacity="0.8"/>
<line x1="118.7" y1="608.84" x2="126.7" y2="608.84" stroke="#4A0B28" stroke-width="1" opacity="0.8"/>
<rect x="113.95" y="586.59" width="6.51" height="6.51" fill="#B8336A" stroke="#9A2455" stroke-width="0.7"/>
<rect x="125.15" y="585.45" width="6.51" height="6.51" fill="#B8336A" stroke="#9A2455" stroke-width="0.7"/>
<rect x="118.95" y="594.19" width="6.51" height="6.51" fill="#B8336A" stroke="#9A2455" stroke-width="0.7"/>
<rect x="113.95" y="606.73" width="6.51" height="6.51" fill="#B8336A" stroke="#9A2455" stroke-width="0.7"/>
<rect x="124.45" y="602.54" width="6.51" height="6.51" fill="#B8336A" stroke="#9A2455" stroke-width="0.7"/>
<rect x="124.45" y="607.87" width="6.51" height="6.51" fill="#B8336A" stroke="#9A2455" stroke-width="0.7"/>
<line x1="151" y1="621.76" x2="151" y2="630.88" stroke="#15300c" stroke-width="1" opacity="0.8"/>
<line x1="147" y1="621.76" x2="155" y2="621.76" stroke="#15300c" stroke-width="1" opacity="0.8"/>
<line x1="147" y1="630.88" x2="155" y2="630.88" stroke="#15300c" stroke-width="1" opacity="0.8"/>
<path d="M149.6 617.57L153.03 623.74L146.17 623.74Z" fill="#4D7A28" stroke="#3C661C" stroke-width="0.7" stroke-linejoin="round"/>
<path d="M144.6 624.03L148.03 630.2L141.17 630.2Z" fill="#4D7A28" stroke="#3C661C" stroke-width="0.7" stroke-linejoin="round"/>
<path d="M155.9 623.65L159.33 629.82L152.47 629.82Z" fill="#4D7A28" stroke="#3C661C" stroke-width="0.7" stroke-linejoin="round"/>
<path d="M149.6 628.97L153.03 635.14L146.17 635.14Z" fill="#4D7A28" stroke="#3C661C" stroke-width="0.7" stroke-linejoin="round"/>
<path d="M144.6 628.21L148.03 634.38L141.17 634.38Z" fill="#4D7A28" stroke="#3C661C" stroke-width="0.7" stroke-linejoin="round"/>
<path d="M155.9 628.21L159.33 634.38L152.47 634.38Z" fill="#4D7A28" stroke="#3C661C" stroke-width="0.7" stroke-linejoin="round"/>
<line x1="179.3" y1="621" x2="179.3" y2="637.72" stroke="#0b332a" stroke-width="1" opacity="0.8"/>
<line x1="175.3" y1="621" x2="183.3" y2="621" stroke="#0b332a" stroke-width="1" opacity="0.8"/>
<line x1="175.3" y1="637.72" x2="183.3" y2="637.72" stroke="#0b332a" stroke-width="1" opacity="0.8"/>
<path d="M172.5 624.43L175.93 618.26L169.07 618.26Z" fill="#168270" stroke="#0D6A5A" stroke-width="0.7" stroke-linejoin="round"/>
<path d="M185 627.09L188.43 620.92L181.57 620.92Z" fill="#168270" stroke="#0D6A5A" stroke-width="0.7" stroke-linejoin="round"/>
<path d="M178.7 620.63L182.13 614.46L175.27 614.46Z" fill="#168270" stroke="#0D6A5A" stroke-width="0.7" stroke-linejoin="round"/>
<path d="M172.5 638.41L175.93 632.24L169.07 632.24Z" fill="#168270" stroke="#0D6A5A" stroke-width="0.7" stroke-linejoin="round"/>
<path d="M185 637.12L188.43 630.95L181.57 630.95Z" fill="#168270" stroke="#0D6A5A" stroke-width="0.7" stroke-linejoin="round"/>
<path d="M172.5 642.9L175.93 636.72L169.07 636.72Z" fill="#168270" stroke="#0D6A5A" stroke-width="0.7" stroke-linejoin="round"/>
<line x1="207" y1="626.32" x2="207" y2="635.44" stroke="#132f57" stroke-width="1" opacity="0.8"/>
<line x1="203" y1="626.32" x2="211" y2="626.32" stroke="#132f57" stroke-width="1" opacity="0.8"/>
<line x1="203" y1="635.44" x2="211" y2="635.44" stroke="#132f57" stroke-width="1" opacity="0.8"/>
<path d="M204.5 618.85L208.18 622.52L204.5 626.19L200.82 622.52Z" fill="#2F6CA8" stroke="#24578C" stroke-width="0.7"/>
<path d="M208.7 621.35L212.38 625.03L208.7 628.7L205.02 625.03Z" fill="#2F6CA8" stroke="#24578C" stroke-width="0.7"/>
<path d="M201.2 626.45L204.88 630.12L201.2 633.79L197.52 630.12Z" fill="#2F6CA8" stroke="#24578C" stroke-width="0.7"/>
<path d="M211.2 628.73L214.88 632.4L211.2 636.07L207.52 632.4Z" fill="#2F6CA8" stroke="#24578C" stroke-width="0.7"/>
<path d="M201.2 632.53L204.88 636.2L201.2 639.88L197.52 636.2Z" fill="#2F6CA8" stroke="#24578C" stroke-width="0.7"/>
<path d="M207 624.93L210.68 628.6L207 632.27L203.32 628.6Z" fill="#2F6CA8" stroke="#24578C" stroke-width="0.7"/>
<line x1="235.2" y1="580.72" x2="235.2" y2="595.92" stroke="#cc6a3a" stroke-width="1" opacity="0.8"/>
<line x1="231.2" y1="580.72" x2="239.2" y2="580.72" stroke="#cc6a3a" stroke-width="1" opacity="0.8"/>
<line x1="231.2" y1="595.92" x2="239.2" y2="595.92" stroke="#cc6a3a" stroke-width="1" opacity="0.8"/>
<circle cx="241.2" cy="576.92" r="3.5" fill="#F4913F" stroke="#D6672A" stroke-width="1.1"/>
<circle cx="229.5" cy="585.51" r="3.5" fill="#F4913F" stroke="#D6672A" stroke-width="1.1"/>
<circle cx="242" cy="586.19" r="3.5" fill="#F4913F" stroke="#D6672A" stroke-width="1.1"/>
<circle cx="235.5" cy="589.46" r="3.5" fill="#F4913F" stroke="#D6672A" stroke-width="1.1"/>
<circle cx="229.5" cy="600.48" r="3.5" fill="#F4913F" stroke="#D6672A" stroke-width="1.1"/>
<circle cx="241.2" cy="597.97" r="3.5" fill="#F4913F" stroke="#D6672A" stroke-width="1.1"/>
<line x1="264" y1="616.44" x2="264" y2="625.56" stroke="#A8305E" stroke-width="1" opacity="0.8"/>
<line x1="260" y1="616.44" x2="268" y2="616.44" stroke="#A8305E" stroke-width="1" opacity="0.8"/>
<line x1="260" y1="625.56" x2="268" y2="625.56" stroke="#A8305E" stroke-width="1" opacity="0.8"/>
<rect x="254.75" y="609.38" width="6.51" height="6.51" fill="#EE7BA0" stroke="#B8336A" stroke-width="1.1"/>
<rect x="266.75" y="609.38" width="6.51" height="6.51" fill="#EE7BA0" stroke="#B8336A" stroke-width="1.1"/>
<rect x="260.44" y="611.66" width="6.51" height="6.51" fill="#EE7BA0" stroke="#B8336A" stroke-width="1.1"/>
<rect x="254.75" y="621.77" width="6.51" height="6.51" fill="#EE7BA0" stroke="#B8336A" stroke-width="1.1"/>
<rect x="266.75" y="620.4" width="6.51" height="6.51" fill="#EE7BA0" stroke="#B8336A" stroke-width="1.1"/>
<rect x="260.44" y="618.73" width="6.51" height="6.51" fill="#EE7BA0" stroke="#B8336A" stroke-width="1.1"/>
<line x1="292" y1="602" x2="292" y2="612.64" stroke="#4F8A25" stroke-width="1" opacity="0.8"/>
<line x1="288" y1="602" x2="296" y2="602" stroke="#4F8A25" stroke-width="1" opacity="0.8"/>
<line x1="288" y1="612.64" x2="296" y2="612.64" stroke="#4F8A25" stroke-width="1" opacity="0.8"/>
<path d="M287.5 596.59L290.93 602.77L284.07 602.77Z" fill="#9CC76A" stroke="#4B8A22" stroke-width="1.1" stroke-linejoin="round"/>
<path d="M293.7 596.29L297.13 602.46L290.27 602.46Z" fill="#9CC76A" stroke="#4B8A22" stroke-width="1.1" stroke-linejoin="round"/>
<path d="M298.7 599.56L302.13 605.73L295.27 605.73Z" fill="#9CC76A" stroke="#4B8A22" stroke-width="1.1" stroke-linejoin="round"/>
<path d="M285 601.61L288.43 607.78L281.57 607.78Z" fill="#9CC76A" stroke="#4B8A22" stroke-width="1.1" stroke-linejoin="round"/>
<path d="M295 603.89L298.43 610.06L291.57 610.06Z" fill="#9CC76A" stroke="#4B8A22" stroke-width="1.1" stroke-linejoin="round"/>
<path d="M289.5 611.11L292.93 617.28L286.07 617.28Z" fill="#9CC76A" stroke="#4B8A22" stroke-width="1.1" stroke-linejoin="round"/>
<text x="122.7" y="588.21" font-family='"Liberation Sans", sans-serif' font-size="15.5" font-weight="bold" text-anchor="middle" fill="#505050" textLength="12.2" lengthAdjust="spacingAndGlyphs" stroke="#505050" stroke-width="0.15">**</text>
<text x="151" y="616.59" font-family='"Liberation Serif", serif' font-size="13.5" font-weight="bold" text-anchor="middle" fill="#222" textLength="12.6" lengthAdjust="spacingAndGlyphs" stroke="#222" stroke-width="0.3">##</text>
<text x="179.3" y="613.29" font-family='"Liberation Serif", serif' font-size="13.5" font-weight="bold" text-anchor="middle" fill="#222" textLength="12.6" lengthAdjust="spacingAndGlyphs" stroke="#222" stroke-width="0.3">##</text>
<text x="235.2" y="576.71" font-family='"Liberation Sans", sans-serif' font-size="15.5" font-weight="bold" text-anchor="middle" fill="#505050" textLength="12.2" lengthAdjust="spacingAndGlyphs" stroke="#505050" stroke-width="0.15">**</text>
<text x="264" y="605.59" font-family='"Liberation Serif", serif' font-size="13.5" font-weight="bold" text-anchor="middle" fill="#222" textLength="12.6" lengthAdjust="spacingAndGlyphs" stroke="#222" stroke-width="0.3">##</text>
<text x="292" y="594.59" font-family='"Liberation Serif", serif' font-size="13.5" font-weight="bold" text-anchor="middle" fill="#222" textLength="6.3" lengthAdjust="spacingAndGlyphs" stroke="#222" stroke-width="0.3">#</text>
<text x="93" y="708.7" font-family='"Liberation Serif", serif' font-size="8.8" font-weight="bold" text-anchor="middle" fill="#000" textLength="29.5" lengthAdjust="spacingAndGlyphs" stroke="#000" stroke-width="0.3">Control</text>
<text x="122.7" y="708.7" font-family='"Liberation Serif", serif' font-size="8.8" font-weight="bold" text-anchor="middle" fill="#000" textLength="15.5" lengthAdjust="spacingAndGlyphs" stroke="#000" stroke-width="0.3">H/R</text>
<text x="151" y="708.7" font-family='"Liberation Serif", serif' font-size="8.8" font-weight="bold" text-anchor="middle" fill="#000" textLength="23" lengthAdjust="spacingAndGlyphs" stroke="#000" stroke-width="0.3">NaHS</text>
<text x="179.3" y="708.7" font-family='"Liberation Serif", serif' font-size="8.8" font-weight="bold" text-anchor="middle" fill="#000" textLength="17" lengthAdjust="spacingAndGlyphs" stroke="#000" stroke-width="0.3">TFR</text>
<text x="206" y="708.7" font-family='"Liberation Serif", serif' font-size="8.8" font-weight="bold" text-anchor="middle" fill="#000" textLength="29.5" lengthAdjust="spacingAndGlyphs" stroke="#000" stroke-width="0.3">Control</text>
<text x="235.2" y="708.7" font-family='"Liberation Serif", serif' font-size="8.8" font-weight="bold" text-anchor="middle" fill="#000" textLength="15.5" lengthAdjust="spacingAndGlyphs" stroke="#000" stroke-width="0.3">H/R</text>
<text x="264" y="708.7" font-family='"Liberation Serif", serif' font-size="8.8" font-weight="bold" text-anchor="middle" fill="#000" textLength="23" lengthAdjust="spacingAndGlyphs" stroke="#000" stroke-width="0.3">NaHS</text>
<text x="292" y="708.7" font-family='"Liberation Serif", serif' font-size="8.8" font-weight="bold" text-anchor="middle" fill="#000" textLength="17" lengthAdjust="spacingAndGlyphs" stroke="#000" stroke-width="0.3">TFR</text>
<line x1="82.5" y1="713.5" x2="185" y2="713.5" stroke="#111" stroke-width="1.8"/>
<line x1="195" y1="713.5" x2="301" y2="713.5" stroke="#111" stroke-width="1.8"/>
<text x="136.3" y="727.5" font-family='"Liberation Serif", serif' font-size="13" font-weight="bold" text-anchor="middle" fill="#000" textLength="49.8" lengthAdjust="spacingAndGlyphs" stroke="#000" stroke-width="0.3">WT ECs</text>
<text x="250.35" y="727.5" font-family='"Liberation Serif", serif' font-size="13" font-weight="bold" text-anchor="middle" fill="#000" textLength="78.5" lengthAdjust="spacingAndGlyphs" stroke="#000" stroke-width="0.3">CSE KO ECs</text>
<text transform="translate(20,620) rotate(-90)" x="0" y="0" font-family='"Liberation Serif", serif' font-size="13.8" font-weight="bold" text-anchor="middle" fill="#000" stroke="#000" stroke-width="0.3" textLength="121" lengthAdjust="spacingAndGlyphs">RhoA activity (ng/L)</text>
<line x1="407.6" y1="543.7" x2="407.6" y2="697.3" stroke="#000" stroke-width="2"/>
<line x1="400.6" y1="696.3" x2="407.6" y2="696.3" stroke="#000" stroke-width="1.7"/>
<text x="397.5" y="701.1" font-family='"Liberation Sans", sans-serif' font-size="12.3" font-weight="bold" text-anchor="end" fill="#000" stroke="#000" stroke-width="0.15">0</text>
<line x1="400.6" y1="658.35" x2="407.6" y2="658.35" stroke="#000" stroke-width="1.7"/>
<text x="397.5" y="663.15" font-family='"Liberation Sans", sans-serif' font-size="12.3" font-weight="bold" text-anchor="end" fill="#000" stroke="#000" stroke-width="0.15">50</text>
<line x1="400.6" y1="620.4" x2="407.6" y2="620.4" stroke="#000" stroke-width="1.7"/>
<text x="397.5" y="625.2" font-family='"Liberation Sans", sans-serif' font-size="12.3" font-weight="bold" text-anchor="end" fill="#000" stroke="#000" stroke-width="0.15">100</text>
<line x1="400.6" y1="582.45" x2="407.6" y2="582.45" stroke="#000" stroke-width="1.7"/>
<text x="397.5" y="587.25" font-family='"Liberation Sans", sans-serif' font-size="12.3" font-weight="bold" text-anchor="end" fill="#000" stroke="#000" stroke-width="0.15">150</text>
<line x1="400.6" y1="544.5" x2="407.6" y2="544.5" stroke="#000" stroke-width="1.7"/>
<text x="397.5" y="549.3" font-family='"Liberation Sans", sans-serif' font-size="12.3" font-weight="bold" text-anchor="end" fill="#000" stroke="#000" stroke-width="0.15">200</text>
<rect x="434.95" y="636.73" width="16.7" height="59.57" fill="#fff" stroke="#5B1508" stroke-width="2.3"/>
<rect x="462.65" y="596.5" width="16.7" height="99.8" fill="#fff" stroke="#4A0B28" stroke-width="2.3"/>
<rect x="491.15" y="619.27" width="16.7" height="77.03" fill="#fff" stroke="#15300c" stroke-width="2.3"/>
<rect x="519.65" y="621.55" width="16.7" height="74.75" fill="#fff" stroke="#0b332a" stroke-width="2.3"/>
<rect x="547.85" y="630.66" width="16.7" height="65.64" fill="#fff" stroke="#132f57" stroke-width="2.3"/>
<rect x="575.85" y="585.88" width="16.7" height="110.42" fill="#fff" stroke="#cc6a3a" stroke-width="2.3"/>
<rect x="604.35" y="608.65" width="16.7" height="87.65" fill="#fff" stroke="#A8305E" stroke-width="2.3"/>
<rect x="632.45" y="601.82" width="16.7" height="94.48" fill="#fff" stroke="#4F8A25" stroke-width="2.3"/>
<line x1="443.3" y1="626.47" x2="443.3" y2="644.69" stroke="#5B1508" stroke-width="1" opacity="0.8"/>
<line x1="439.3" y1="626.47" x2="447.3" y2="626.47" stroke="#5B1508" stroke-width="1" opacity="0.8"/>
<line x1="439.3" y1="644.69" x2="447.3" y2="644.69" stroke="#5B1508" stroke-width="1" opacity="0.8"/>
<circle cx="443.3" cy="621.99" r="3.5" fill="#C4562F" stroke="#A8421F" stroke-width="0.7"/>
<circle cx="437" cy="630.8" r="3.5" fill="#C4562F" stroke="#A8421F" stroke-width="0.7"/>
<circle cx="443.3" cy="629.51" r="3.5" fill="#C4562F" stroke="#A8421F" stroke-width="0.7"/>
<circle cx="449.5" cy="635.81" r="3.5" fill="#C4562F" stroke="#A8421F" stroke-width="0.7"/>
<circle cx="437" cy="638.31" r="3.5" fill="#C4562F" stroke="#A8421F" stroke-width="0.7"/>
<circle cx="443.3" cy="642.03" r="3.5" fill="#C4562F" stroke="#A8421F" stroke-width="0.7"/>
<circle cx="443.3" cy="648.18" r="3.5" fill="#C4562F" stroke="#A8421F" stroke-width="0.7"/>
<line x1="471" y1="584.73" x2="471" y2="605.98" stroke="#4A0B28" stroke-width="1" opacity="0.8"/>
<line x1="467" y1="584.73" x2="475" y2="584.73" stroke="#4A0B28" stroke-width="1" opacity="0.8"/>
<line x1="467" y1="605.98" x2="475" y2="605.98" stroke="#4A0B28" stroke-width="1" opacity="0.8"/>
<rect x="462.05" y="576.54" width="6.51" height="6.51" fill="#B8336A" stroke="#9A2455" stroke-width="0.7"/>
<rect x="468.05" y="582.53" width="6.51" height="6.51" fill="#B8336A" stroke="#9A2455" stroke-width="0.7"/>
<rect x="462.55" y="588.83" width="6.51" height="6.51" fill="#B8336A" stroke="#9A2455" stroke-width="0.7"/>
<rect x="473.75" y="593.84" width="6.51" height="6.51" fill="#B8336A" stroke="#9A2455" stroke-width="0.7"/>
<rect x="468.05" y="598.93" width="6.51" height="6.51" fill="#B8336A" stroke="#9A2455" stroke-width="0.7"/>
<rect x="468.05" y="607.58" width="6.51" height="6.51" fill="#B8336A" stroke="#9A2455" stroke-width="0.7"/>
<line x1="499.5" y1="613.57" x2="499.5" y2="622.68" stroke="#15300c" stroke-width="1" opacity="0.8"/>
<line x1="495.5" y1="613.57" x2="503.5" y2="613.57" stroke="#15300c" stroke-width="1" opacity="0.8"/>
<line x1="495.5" y1="622.68" x2="503.5" y2="622.68" stroke="#15300c" stroke-width="1" opacity="0.8"/>
<path d="M500.7 607.41L504.13 613.58L497.27 613.58Z" fill="#4D7A28" stroke="#3C661C" stroke-width="0.7" stroke-linejoin="round"/>
<path d="M494.4 611.2L497.83 617.38L490.97 617.38Z" fill="#4D7A28" stroke="#3C661C" stroke-width="0.7" stroke-linejoin="round"/>
<path d="M505.7 614.84L509.13 621.02L502.27 621.02Z" fill="#4D7A28" stroke="#3C661C" stroke-width="0.7" stroke-linejoin="round"/>
<path d="M498.2 616.36L501.63 622.54L494.77 622.54Z" fill="#4D7A28" stroke="#3C661C" stroke-width="0.7" stroke-linejoin="round"/>
<path d="M494.4 618.56L497.83 624.74L490.97 624.74Z" fill="#4D7A28" stroke="#3C661C" stroke-width="0.7" stroke-linejoin="round"/>
<path d="M503 618.49L506.43 624.66L499.57 624.66Z" fill="#4D7A28" stroke="#3C661C" stroke-width="0.7" stroke-linejoin="round"/>
<line x1="528" y1="615.85" x2="528" y2="624.95" stroke="#0b332a" stroke-width="1" opacity="0.8"/>
<line x1="524" y1="615.85" x2="532" y2="615.85" stroke="#0b332a" stroke-width="1" opacity="0.8"/>
<line x1="524" y1="624.95" x2="532" y2="624.95" stroke="#0b332a" stroke-width="1" opacity="0.8"/>
<path d="M525.6 618.06L529.03 611.89L522.17 611.89Z" fill="#168270" stroke="#0D6A5A" stroke-width="0.7" stroke-linejoin="round"/>
<path d="M531.8 619.28L535.23 613.1L528.37 613.1Z" fill="#168270" stroke="#0D6A5A" stroke-width="0.7" stroke-linejoin="round"/>
<path d="M521.9 621.7L525.33 615.53L518.47 615.53Z" fill="#168270" stroke="#0D6A5A" stroke-width="0.7" stroke-linejoin="round"/>
<path d="M528 623.22L531.43 617.05L524.57 617.05Z" fill="#168270" stroke="#0D6A5A" stroke-width="0.7" stroke-linejoin="round"/>
<path d="M525.6 628.23L529.03 622.06L522.17 622.06Z" fill="#168270" stroke="#0D6A5A" stroke-width="0.7" stroke-linejoin="round"/>
<path d="M528 630.43L531.43 624.26L524.57 624.26Z" fill="#168270" stroke="#0D6A5A" stroke-width="0.7" stroke-linejoin="round"/>
<line x1="556.2" y1="624.19" x2="556.2" y2="634.82" stroke="#132f57" stroke-width="1" opacity="0.8"/>
<line x1="552.2" y1="624.19" x2="560.2" y2="624.19" stroke="#132f57" stroke-width="1" opacity="0.8"/>
<line x1="552.2" y1="634.82" x2="560.2" y2="634.82" stroke="#132f57" stroke-width="1" opacity="0.8"/>
<path d="M550 622.11L553.67 625.79L550 629.46L546.33 625.79Z" fill="#2F6CA8" stroke="#24578C" stroke-width="0.7"/>
<path d="M562 615.59L565.67 619.26L562 622.94L558.33 619.26Z" fill="#2F6CA8" stroke="#24578C" stroke-width="0.7"/>
<path d="M561.2 622.11L564.88 625.79L561.2 629.46L557.53 625.79Z" fill="#2F6CA8" stroke="#24578C" stroke-width="0.7"/>
<path d="M550 629.86L553.67 633.53L550 637.21L546.33 633.53Z" fill="#2F6CA8" stroke="#24578C" stroke-width="0.7"/>
<path d="M556.2 629.86L559.88 633.53L556.2 637.21L552.53 633.53Z" fill="#2F6CA8" stroke="#24578C" stroke-width="0.7"/>
<path d="M562.4 629.86L566.08 633.53L562.4 637.21L558.73 633.53Z" fill="#2F6CA8" stroke="#24578C" stroke-width="0.7"/>
<line x1="584.2" y1="574.86" x2="584.2" y2="594.59" stroke="#cc6a3a" stroke-width="1" opacity="0.8"/>
<line x1="580.2" y1="574.86" x2="588.2" y2="574.86" stroke="#cc6a3a" stroke-width="1" opacity="0.8"/>
<line x1="580.2" y1="594.59" x2="588.2" y2="594.59" stroke="#cc6a3a" stroke-width="1" opacity="0.8"/>
<circle cx="578.1" cy="568.41" r="3.5" fill="#F4913F" stroke="#D6672A" stroke-width="1.1"/>
<circle cx="584.4" cy="572.2" r="3.5" fill="#F4913F" stroke="#D6672A" stroke-width="1.1"/>
<circle cx="578.1" cy="579.79" r="3.5" fill="#F4913F" stroke="#D6672A" stroke-width="1.1"/>
<circle cx="584.4" cy="580.93" r="3.5" fill="#F4913F" stroke="#D6672A" stroke-width="1.1"/>
<circle cx="590.6" cy="584.88" r="3.5" fill="#F4913F" stroke="#D6672A" stroke-width="1.1"/>
<circle cx="584.4" cy="590.8" r="3.5" fill="#F4913F" stroke="#D6672A" stroke-width="1.1"/>
<circle cx="584.4" cy="599.15" r="3.5" fill="#F4913F" stroke="#D6672A" stroke-width="1.1"/>
<line x1="612.7" y1="599.91" x2="612.7" y2="615.09" stroke="#A8305E" stroke-width="1" opacity="0.8"/>
<line x1="608.7" y1="599.91" x2="616.7" y2="599.91" stroke="#A8305E" stroke-width="1" opacity="0.8"/>
<line x1="608.7" y1="615.09" x2="616.7" y2="615.09" stroke="#A8305E" stroke-width="1" opacity="0.8"/>
<rect x="610.25" y="596.88" width="6.51" height="6.51" fill="#EE7BA0" stroke="#B8336A" stroke-width="1.1"/>
<rect x="615.25" y="596.35" width="6.51" height="6.51" fill="#EE7BA0" stroke="#B8336A" stroke-width="1.1"/>
<rect x="604.05" y="601.36" width="6.51" height="6.51" fill="#EE7BA0" stroke="#B8336A" stroke-width="1.1"/>
<rect x="609.05" y="603.86" width="6.51" height="6.51" fill="#EE7BA0" stroke="#B8336A" stroke-width="1.1"/>
<rect x="610.25" y="612.59" width="6.51" height="6.51" fill="#EE7BA0" stroke="#B8336A" stroke-width="1.1"/>
<rect x="606.55" y="615.78" width="6.51" height="6.51" fill="#EE7BA0" stroke="#B8336A" stroke-width="1.1"/>
<line x1="640.8" y1="590.8" x2="640.8" y2="610.53" stroke="#4F8A25" stroke-width="1" opacity="0.8"/>
<line x1="636.8" y1="590.8" x2="644.8" y2="590.8" stroke="#4F8A25" stroke-width="1" opacity="0.8"/>
<line x1="636.8" y1="610.53" x2="644.8" y2="610.53" stroke="#4F8A25" stroke-width="1" opacity="0.8"/>
<path d="M634.7 587.37L638.13 593.54L631.27 593.54Z" fill="#9CC76A" stroke="#4B8A22" stroke-width="1.1" stroke-linejoin="round"/>
<path d="M647.2 584.11L650.63 590.28L643.77 590.28Z" fill="#9CC76A" stroke="#4B8A22" stroke-width="1.1" stroke-linejoin="round"/>
<path d="M641 591.16L644.43 597.34L637.57 597.34Z" fill="#9CC76A" stroke="#4B8A22" stroke-width="1.1" stroke-linejoin="round"/>
<path d="M646 597.39L649.43 603.56L642.57 603.56Z" fill="#9CC76A" stroke="#4B8A22" stroke-width="1.1" stroke-linejoin="round"/>
<path d="M639.7 603.16L643.13 609.33L636.27 609.33Z" fill="#9CC76A" stroke="#4B8A22" stroke-width="1.1" stroke-linejoin="round"/>
<path d="M641 614.84L644.43 621.02L637.57 621.02Z" fill="#9CC76A" stroke="#4B8A22" stroke-width="1.1" stroke-linejoin="round"/>
<text x="471" y="579.21" font-family='"Liberation Sans", sans-serif' font-size="15.5" font-weight="bold" text-anchor="middle" fill="#505050" textLength="12.2" lengthAdjust="spacingAndGlyphs" stroke="#505050" stroke-width="0.15">**</text>
<text x="499.5" y="606.59" font-family='"Liberation Serif", serif' font-size="13.5" font-weight="bold" text-anchor="middle" fill="#222" textLength="12.6" lengthAdjust="spacingAndGlyphs" stroke="#222" stroke-width="0.3">##</text>
<text x="528" y="610.29" font-family='"Liberation Serif", serif' font-size="13.5" font-weight="bold" text-anchor="middle" fill="#222" textLength="12.6" lengthAdjust="spacingAndGlyphs" stroke="#222" stroke-width="0.3">##</text>
<text x="584.2" y="567.71" font-family='"Liberation Sans", sans-serif' font-size="15.5" font-weight="bold" text-anchor="middle" fill="#505050" textLength="12.2" lengthAdjust="spacingAndGlyphs" stroke="#505050" stroke-width="0.15">**</text>
<text x="612.7" y="594.59" font-family='"Liberation Serif", serif' font-size="13.5" font-weight="bold" text-anchor="middle" fill="#222" textLength="12.6" lengthAdjust="spacingAndGlyphs" stroke="#222" stroke-width="0.3">##</text>
<text x="640.8" y="584.59" font-family='"Liberation Serif", serif' font-size="13.5" font-weight="bold" text-anchor="middle" fill="#222" textLength="6.3" lengthAdjust="spacingAndGlyphs" stroke="#222" stroke-width="0.3">#</text>
<text x="442.3" y="708" font-family='"Liberation Serif", serif' font-size="8.8" font-weight="bold" text-anchor="middle" fill="#000" textLength="29.5" lengthAdjust="spacingAndGlyphs" stroke="#000" stroke-width="0.3">Control</text>
<text x="471" y="708" font-family='"Liberation Serif", serif' font-size="8.8" font-weight="bold" text-anchor="middle" fill="#000" textLength="15.5" lengthAdjust="spacingAndGlyphs" stroke="#000" stroke-width="0.3">H/R</text>
<text x="499.5" y="708" font-family='"Liberation Serif", serif' font-size="8.8" font-weight="bold" text-anchor="middle" fill="#000" textLength="23" lengthAdjust="spacingAndGlyphs" stroke="#000" stroke-width="0.3">NaHS</text>
<text x="528" y="708" font-family='"Liberation Serif", serif' font-size="8.8" font-weight="bold" text-anchor="middle" fill="#000" textLength="17" lengthAdjust="spacingAndGlyphs" stroke="#000" stroke-width="0.3">TFR</text>
<text x="555.2" y="708" font-family='"Liberation Serif", serif' font-size="8.8" font-weight="bold" text-anchor="middle" fill="#000" textLength="29.5" lengthAdjust="spacingAndGlyphs" stroke="#000" stroke-width="0.3">Control</text>
<text x="584.2" y="708" font-family='"Liberation Serif", serif' font-size="8.8" font-weight="bold" text-anchor="middle" fill="#000" textLength="15.5" lengthAdjust="spacingAndGlyphs" stroke="#000" stroke-width="0.3">H/R</text>
<text x="612.7" y="708" font-family='"Liberation Serif", serif' font-size="8.8" font-weight="bold" text-anchor="middle" fill="#000" textLength="23" lengthAdjust="spacingAndGlyphs" stroke="#000" stroke-width="0.3">NaHS</text>
<text x="640.8" y="708" font-family='"Liberation Serif", serif' font-size="8.8" font-weight="bold" text-anchor="middle" fill="#000" textLength="17" lengthAdjust="spacingAndGlyphs" stroke="#000" stroke-width="0.3">TFR</text>
<line x1="431" y1="713" x2="534.7" y2="713" stroke="#111" stroke-width="1.8"/>
<line x1="543.7" y1="713" x2="648.7" y2="713" stroke="#111" stroke-width="1.8"/>
<text x="489.35" y="727.5" font-family='"Liberation Serif", serif' font-size="13" font-weight="bold" text-anchor="middle" fill="#000" textLength="49.9" lengthAdjust="spacingAndGlyphs" stroke="#000" stroke-width="0.3">WT ECs</text>
<text x="597.25" y="727.5" font-family='"Liberation Serif", serif' font-size="13" font-weight="bold" text-anchor="middle" fill="#000" textLength="94.7" lengthAdjust="spacingAndGlyphs" stroke="#000" stroke-width="0.3">3-MST KO ECs</text>
<text transform="translate(369.5,619.5) rotate(-90)" x="0" y="0" font-family='"Liberation Serif", serif' font-size="13.8" font-weight="bold" text-anchor="middle" fill="#000" stroke="#000" stroke-width="0.3" textLength="121" lengthAdjust="spacingAndGlyphs">RhoA activity (ng/L)</text>
<line x1="59.3" y1="842.2" x2="59.3" y2="995.5" stroke="#000" stroke-width="2"/>
<line x1="52.3" y1="994.5" x2="59.3" y2="994.5" stroke="#000" stroke-width="1.7"/>
<text x="49.8" y="999.3" font-family='"Liberation Sans", sans-serif' font-size="12.3" font-weight="bold" text-anchor="end" fill="#000" textLength="16.4" lengthAdjust="spacingAndGlyphs" stroke="#000" stroke-width="0.15">0.0</text>
<line x1="52.3" y1="944" x2="59.3" y2="944" stroke="#000" stroke-width="1.7"/>
<text x="49.8" y="948.8" font-family='"Liberation Sans", sans-serif' font-size="12.3" font-weight="bold" text-anchor="end" fill="#000" textLength="16.4" lengthAdjust="spacingAndGlyphs" stroke="#000" stroke-width="0.15">0.5</text>
<line x1="52.3" y1="893.5" x2="59.3" y2="893.5" stroke="#000" stroke-width="1.7"/>
<text x="49.8" y="898.3" font-family='"Liberation Sans", sans-serif' font-size="12.3" font-weight="bold" text-anchor="end" fill="#000" textLength="16.4" lengthAdjust="spacingAndGlyphs" stroke="#000" stroke-width="0.15">1.0</text>
<line x1="52.3" y1="843" x2="59.3" y2="843" stroke="#000" stroke-width="1.7"/>
<text x="49.8" y="847.8" font-family='"Liberation Sans", sans-serif' font-size="12.3" font-weight="bold" text-anchor="end" fill="#000" textLength="16.4" lengthAdjust="spacingAndGlyphs" stroke="#000" stroke-width="0.15">1.5</text>
<rect x="86.05" y="957.27" width="16.7" height="37.23" fill="#fff" stroke="#5B1508" stroke-width="2.3"/>
<rect x="114.25" y="905.76" width="16.7" height="88.74" fill="#fff" stroke="#4A0B28" stroke-width="2.3"/>
<rect x="142.35" y="939.09" width="16.7" height="55.41" fill="#fff" stroke="#15300c" stroke-width="2.3"/>
<rect x="170.85" y="937.07" width="16.7" height="57.43" fill="#fff" stroke="#0b332a" stroke-width="2.3"/>
<rect x="199.35" y="945.15" width="16.7" height="49.35" fill="#fff" stroke="#132f57" stroke-width="2.3"/>
<rect x="227.45" y="903.74" width="16.7" height="90.76" fill="#fff" stroke="#cc6a3a" stroke-width="2.3"/>
<rect x="255.65" y="940.1" width="16.7" height="54.4" fill="#fff" stroke="#A8305E" stroke-width="2.3"/>
<rect x="283.65" y="919.9" width="16.7" height="74.6" fill="#fff" stroke="#4F8A25" stroke-width="2.3"/>
<line x1="94.4" y1="952.08" x2="94.4" y2="960.16" stroke="#5B1508" stroke-width="1" opacity="0.8"/>
<line x1="90.4" y1="952.08" x2="98.4" y2="952.08" stroke="#5B1508" stroke-width="1" opacity="0.8"/>
<line x1="90.4" y1="960.16" x2="98.4" y2="960.16" stroke="#5B1508" stroke-width="1" opacity="0.8"/>
<circle cx="94.8" cy="950.06" r="3.5" fill="#C4562F" stroke="#A8421F" stroke-width="0.7"/>
<circle cx="101" cy="956.12" r="3.5" fill="#C4562F" stroke="#A8421F" stroke-width="0.7"/>
<circle cx="88.5" cy="960.56" r="3.5" fill="#C4562F" stroke="#A8421F" stroke-width="0.7"/>
<line x1="122.6" y1="901.58" x2="122.6" y2="907.64" stroke="#4A0B28" stroke-width="1" opacity="0.8"/>
<line x1="118.6" y1="901.58" x2="126.6" y2="901.58" stroke="#4A0B28" stroke-width="1" opacity="0.8"/>
<line x1="118.6" y1="907.64" x2="126.6" y2="907.64" stroke="#4A0B28" stroke-width="1" opacity="0.8"/>
<rect x="118.94" y="897.31" width="6.51" height="6.51" fill="#B8336A" stroke="#9A2455" stroke-width="0.7"/>
<rect x="112.75" y="902.77" width="6.51" height="6.51" fill="#B8336A" stroke="#9A2455" stroke-width="0.7"/>
<rect x="123.94" y="903.78" width="6.51" height="6.51" fill="#B8336A" stroke="#9A2455" stroke-width="0.7"/>
<line x1="150.7" y1="933.9" x2="150.7" y2="941.98" stroke="#15300c" stroke-width="1" opacity="0.8"/>
<line x1="146.7" y1="933.9" x2="154.7" y2="933.9" stroke="#15300c" stroke-width="1" opacity="0.8"/>
<line x1="146.7" y1="941.98" x2="154.7" y2="941.98" stroke="#15300c" stroke-width="1" opacity="0.8"/>
<path d="M150.4 928.45L153.83 934.62L146.97 934.62Z" fill="#4D7A28" stroke="#3C661C" stroke-width="0.7" stroke-linejoin="round"/>
<path d="M144.6 936.53L148.03 942.7L141.17 942.7Z" fill="#4D7A28" stroke="#3C661C" stroke-width="0.7" stroke-linejoin="round"/>
<path d="M155.9 936.03L159.33 942.2L152.47 942.2Z" fill="#4D7A28" stroke="#3C661C" stroke-width="0.7" stroke-linejoin="round"/>
<line x1="179.2" y1="931.88" x2="179.2" y2="939.96" stroke="#0b332a" stroke-width="1" opacity="0.8"/>
<line x1="175.2" y1="931.88" x2="183.2" y2="931.88" stroke="#0b332a" stroke-width="1" opacity="0.8"/>
<line x1="175.2" y1="939.96" x2="183.2" y2="939.96" stroke="#0b332a" stroke-width="1" opacity="0.8"/>
<path d="M178.7 933.29L182.13 927.12L175.27 927.12Z" fill="#168270" stroke="#0D6A5A" stroke-width="0.7" stroke-linejoin="round"/>
<path d="M172.5 942.88L175.93 936.71L169.07 936.71Z" fill="#168270" stroke="#0D6A5A" stroke-width="0.7" stroke-linejoin="round"/>
<path d="M185 938.84L188.43 932.67L181.57 932.67Z" fill="#168270" stroke="#0D6A5A" stroke-width="0.7" stroke-linejoin="round"/>
<line x1="207.7" y1="939.96" x2="207.7" y2="948.04" stroke="#132f57" stroke-width="1" opacity="0.8"/>
<line x1="203.7" y1="939.96" x2="211.7" y2="939.96" stroke="#132f57" stroke-width="1" opacity="0.8"/>
<line x1="203.7" y1="948.04" x2="211.7" y2="948.04" stroke="#132f57" stroke-width="1" opacity="0.8"/>
<path d="M207.5 934.97L211.18 938.65L207.5 942.32L203.82 938.65Z" fill="#2F6CA8" stroke="#24578C" stroke-width="0.7"/>
<path d="M201.2 943.86L204.88 947.53L201.2 951.21L197.52 947.53Z" fill="#2F6CA8" stroke="#24578C" stroke-width="0.7"/>
<path d="M213.7 938.81L217.38 942.49L213.7 946.16L210.02 942.49Z" fill="#2F6CA8" stroke="#24578C" stroke-width="0.7"/>
<line x1="235.8" y1="897.54" x2="235.8" y2="907.64" stroke="#cc6a3a" stroke-width="1" opacity="0.8"/>
<line x1="231.8" y1="897.54" x2="239.8" y2="897.54" stroke="#cc6a3a" stroke-width="1" opacity="0.8"/>
<line x1="231.8" y1="907.64" x2="239.8" y2="907.64" stroke="#cc6a3a" stroke-width="1" opacity="0.8"/>
<circle cx="236.2" cy="896.23" r="3.5" fill="#F4913F" stroke="#D6672A" stroke-width="1.1"/>
<circle cx="242" cy="901.18" r="3.5" fill="#F4913F" stroke="#D6672A" stroke-width="1.1"/>
<circle cx="229.5" cy="905.52" r="3.5" fill="#F4913F" stroke="#D6672A" stroke-width="1.1"/>
<line x1="264" y1="933.9" x2="264" y2="944" stroke="#A8305E" stroke-width="1" opacity="0.8"/>
<line x1="260" y1="933.9" x2="268" y2="933.9" stroke="#A8305E" stroke-width="1" opacity="0.8"/>
<line x1="260" y1="944" x2="268" y2="944" stroke="#A8305E" stroke-width="1" opacity="0.8"/>
<rect x="261.25" y="926.71" width="6.51" height="6.51" fill="#EE7BA0" stroke="#B8336A" stroke-width="1.1"/>
<rect x="266.75" y="932.97" width="6.51" height="6.51" fill="#EE7BA0" stroke="#B8336A" stroke-width="1.1"/>
<rect x="255.44" y="937.92" width="6.51" height="6.51" fill="#EE7BA0" stroke="#B8336A" stroke-width="1.1"/>
<line x1="292" y1="913.7" x2="292" y2="923.8" stroke="#4F8A25" stroke-width="1" opacity="0.8"/>
<line x1="288" y1="913.7" x2="296" y2="913.7" stroke="#4F8A25" stroke-width="1" opacity="0.8"/>
<line x1="288" y1="923.8" x2="296" y2="923.8" stroke="#4F8A25" stroke-width="1" opacity="0.8"/>
<path d="M292.5 907.75L295.93 913.92L289.07 913.92Z" fill="#9CC76A" stroke="#4B8A22" stroke-width="1.1" stroke-linejoin="round"/>
<path d="M298.7 914.11L302.13 920.28L295.27 920.28Z" fill="#9CC76A" stroke="#4B8A22" stroke-width="1.1" stroke-linejoin="round"/>
<path d="M286.2 919.06L289.63 925.23L282.77 925.23Z" fill="#9CC76A" stroke="#4B8A22" stroke-width="1.1" stroke-linejoin="round"/>
<text x="122.6" y="900.41" font-family='"Liberation Sans", sans-serif' font-size="15.5" font-weight="bold" text-anchor="middle" fill="#505050" textLength="12.2" lengthAdjust="spacingAndGlyphs" stroke="#505050" stroke-width="0.15">**</text>
<text x="150.7" y="926.59" font-family='"Liberation Serif", serif' font-size="13.5" font-weight="bold" text-anchor="middle" fill="#222" textLength="12.6" lengthAdjust="spacingAndGlyphs" stroke="#222" stroke-width="0.3">##</text>
<text x="179.2" y="926.59" font-family='"Liberation Serif", serif' font-size="13.5" font-weight="bold" text-anchor="middle" fill="#222" textLength="12.6" lengthAdjust="spacingAndGlyphs" stroke="#222" stroke-width="0.3">##</text>
<text x="235.8" y="897.71" font-family='"Liberation Sans", sans-serif' font-size="15.5" font-weight="bold" text-anchor="middle" fill="#505050" textLength="12.2" lengthAdjust="spacingAndGlyphs" stroke="#505050" stroke-width="0.15">**</text>
<text x="264" y="925.09" font-family='"Liberation Serif", serif' font-size="13.5" font-weight="bold" text-anchor="middle" fill="#222" textLength="12.6" lengthAdjust="spacingAndGlyphs" stroke="#222" stroke-width="0.3">##</text>
<text x="292" y="905.79" font-family='"Liberation Serif", serif' font-size="13.5" font-weight="bold" text-anchor="middle" fill="#222" textLength="6.3" lengthAdjust="spacingAndGlyphs" stroke="#222" stroke-width="0.3">#</text>
<text x="93.4" y="1007.5" font-family='"Liberation Serif", serif' font-size="8.8" font-weight="bold" text-anchor="middle" fill="#000" textLength="29.5" lengthAdjust="spacingAndGlyphs" stroke="#000" stroke-width="0.3">Control</text>
<text x="122.6" y="1007.5" font-family='"Liberation Serif", serif' font-size="8.8" font-weight="bold" text-anchor="middle" fill="#000" textLength="15.5" lengthAdjust="spacingAndGlyphs" stroke="#000" stroke-width="0.3">H/R</text>
<text x="150.7" y="1007.5" font-family='"Liberation Serif", serif' font-size="8.8" font-weight="bold" text-anchor="middle" fill="#000" textLength="23" lengthAdjust="spacingAndGlyphs" stroke="#000" stroke-width="0.3">NaHS</text>
<text x="179.2" y="1007.5" font-family='"Liberation Serif", serif' font-size="8.8" font-weight="bold" text-anchor="middle" fill="#000" textLength="17" lengthAdjust="spacingAndGlyphs" stroke="#000" stroke-width="0.3">TFR</text>
<text x="206.7" y="1007.5" font-family='"Liberation Serif", serif' font-size="8.8" font-weight="bold" text-anchor="middle" fill="#000" textLength="29.5" lengthAdjust="spacingAndGlyphs" stroke="#000" stroke-width="0.3">Control</text>
<text x="235.8" y="1007.5" font-family='"Liberation Serif", serif' font-size="8.8" font-weight="bold" text-anchor="middle" fill="#000" textLength="15.5" lengthAdjust="spacingAndGlyphs" stroke="#000" stroke-width="0.3">H/R</text>
<text x="264" y="1007.5" font-family='"Liberation Serif", serif' font-size="8.8" font-weight="bold" text-anchor="middle" fill="#000" textLength="23" lengthAdjust="spacingAndGlyphs" stroke="#000" stroke-width="0.3">NaHS</text>
<text x="292" y="1007.5" font-family='"Liberation Serif", serif' font-size="8.8" font-weight="bold" text-anchor="middle" fill="#000" textLength="17" lengthAdjust="spacingAndGlyphs" stroke="#000" stroke-width="0.3">TFR</text>
<line x1="80.3" y1="1012" x2="183.7" y2="1012" stroke="#111" stroke-width="1.8"/>
<line x1="195" y1="1012" x2="301" y2="1012" stroke="#111" stroke-width="1.8"/>
<text x="136.3" y="1026" font-family='"Liberation Serif", serif' font-size="13" font-weight="bold" text-anchor="middle" fill="#000" textLength="49.8" lengthAdjust="spacingAndGlyphs" stroke="#000" stroke-width="0.3">WT ECs</text>
<text x="251.35" y="1026" font-family='"Liberation Serif", serif' font-size="13" font-weight="bold" text-anchor="middle" fill="#000" textLength="78.5" lengthAdjust="spacingAndGlyphs" stroke="#000" stroke-width="0.3">CSE KO ECs</text>
<text transform="translate(18.5,918.7) rotate(-90)" x="0" y="0" font-family='"Liberation Serif", serif' font-size="13.8" font-weight="bold" text-anchor="middle" fill="#000" stroke="#000" stroke-width="0.3" textLength="92.5" lengthAdjust="spacingAndGlyphs">ROCK<tspan font-size="70%" dy="0.28em">2</tspan><tspan dy="-0.28em">/β-actin</tspan></text>
<line x1="404.3" y1="841.55" x2="404.3" y2="995.3" stroke="#000" stroke-width="2"/>
<line x1="397.3" y1="994.3" x2="404.3" y2="994.3" stroke="#000" stroke-width="1.7"/>
<text x="396" y="999.1" font-family='"Liberation Sans", sans-serif' font-size="12.3" font-weight="bold" text-anchor="end" fill="#000" textLength="16.4" lengthAdjust="spacingAndGlyphs" stroke="#000" stroke-width="0.15">0.0</text>
<line x1="397.3" y1="943.65" x2="404.3" y2="943.65" stroke="#000" stroke-width="1.7"/>
<text x="396" y="948.45" font-family='"Liberation Sans", sans-serif' font-size="12.3" font-weight="bold" text-anchor="end" fill="#000" textLength="16.4" lengthAdjust="spacingAndGlyphs" stroke="#000" stroke-width="0.15">0.5</text>
<line x1="397.3" y1="893" x2="404.3" y2="893" stroke="#000" stroke-width="1.7"/>
<text x="396" y="897.8" font-family='"Liberation Sans", sans-serif' font-size="12.3" font-weight="bold" text-anchor="end" fill="#000" textLength="16.4" lengthAdjust="spacingAndGlyphs" stroke="#000" stroke-width="0.15">1.0</text>
<line x1="397.3" y1="842.35" x2="404.3" y2="842.35" stroke="#000" stroke-width="1.7"/>
<text x="396" y="847.15" font-family='"Liberation Sans", sans-serif' font-size="12.3" font-weight="bold" text-anchor="end" fill="#000" textLength="16.4" lengthAdjust="spacingAndGlyphs" stroke="#000" stroke-width="0.15">1.5</text>
<rect x="431.65" y="966.07" width="16.7" height="28.23" fill="#fff" stroke="#5B1508" stroke-width="2.3"/>
<rect x="459.65" y="914.41" width="16.7" height="79.89" fill="#fff" stroke="#4A0B28" stroke-width="2.3"/>
<rect x="487.95" y="947.84" width="16.7" height="46.46" fill="#fff" stroke="#15300c" stroke-width="2.3"/>
<rect x="516.45" y="947.84" width="16.7" height="46.46" fill="#fff" stroke="#0b332a" stroke-width="2.3"/>
<rect x="544.45" y="957.97" width="16.7" height="36.33" fill="#fff" stroke="#132f57" stroke-width="2.3"/>
<rect x="572.65" y="900.23" width="16.7" height="94.07" fill="#fff" stroke="#cc6a3a" stroke-width="2.3"/>
<rect x="600.95" y="940.75" width="16.7" height="53.55" fill="#fff" stroke="#A8305E" stroke-width="2.3"/>
<rect x="629.35" y="920.49" width="16.7" height="73.81" fill="#fff" stroke="#4F8A25" stroke-width="2.3"/>
<line x1="440" y1="959.86" x2="440" y2="969.99" stroke="#5B1508" stroke-width="1" opacity="0.8"/>
<line x1="436" y1="959.86" x2="444" y2="959.86" stroke="#5B1508" stroke-width="1" opacity="0.8"/>
<line x1="436" y1="969.99" x2="444" y2="969.99" stroke="#5B1508" stroke-width="1" opacity="0.8"/>
<circle cx="440" cy="957.83" r="3.5" fill="#C4562F" stroke="#A8421F" stroke-width="0.7"/>
<circle cx="434.7" cy="968.57" r="3.5" fill="#C4562F" stroke="#A8421F" stroke-width="0.7"/>
<circle cx="446" cy="964.92" r="3.5" fill="#C4562F" stroke="#A8421F" stroke-width="0.7"/>
<line x1="468" y1="909.21" x2="468" y2="917.31" stroke="#4A0B28" stroke-width="1" opacity="0.8"/>
<line x1="464" y1="909.21" x2="472" y2="909.21" stroke="#4A0B28" stroke-width="1" opacity="0.8"/>
<line x1="464" y1="917.31" x2="472" y2="917.31" stroke="#4A0B28" stroke-width="1" opacity="0.8"/>
<rect x="465.25" y="905.45" width="6.51" height="6.51" fill="#B8336A" stroke="#9A2455" stroke-width="0.7"/>
<rect x="470.25" y="908.99" width="6.51" height="6.51" fill="#B8336A" stroke="#9A2455" stroke-width="0.7"/>
<rect x="459.75" y="915.07" width="6.51" height="6.51" fill="#B8336A" stroke="#9A2455" stroke-width="0.7"/>
<line x1="496.3" y1="942.64" x2="496.3" y2="950.74" stroke="#15300c" stroke-width="1" opacity="0.8"/>
<line x1="492.3" y1="942.64" x2="500.3" y2="942.64" stroke="#15300c" stroke-width="1" opacity="0.8"/>
<line x1="492.3" y1="950.74" x2="500.3" y2="950.74" stroke="#15300c" stroke-width="1" opacity="0.8"/>
<path d="M497.2 939.51L500.63 945.68L493.77 945.68Z" fill="#4D7A28" stroke="#3C661C" stroke-width="0.7" stroke-linejoin="round"/>
<path d="M491 947.72L494.43 953.89L487.57 953.89Z" fill="#4D7A28" stroke="#3C661C" stroke-width="0.7" stroke-linejoin="round"/>
<path d="M502.7 942.45L506.13 948.62L499.27 948.62Z" fill="#4D7A28" stroke="#3C661C" stroke-width="0.7" stroke-linejoin="round"/>
<line x1="524.8" y1="941.62" x2="524.8" y2="951.75" stroke="#0b332a" stroke-width="1" opacity="0.8"/>
<line x1="520.8" y1="941.62" x2="528.8" y2="941.62" stroke="#0b332a" stroke-width="1" opacity="0.8"/>
<line x1="520.8" y1="951.75" x2="528.8" y2="951.75" stroke="#0b332a" stroke-width="1" opacity="0.8"/>
<path d="M524.4 942.83L527.83 936.65L520.97 936.65Z" fill="#168270" stroke="#0D6A5A" stroke-width="0.7" stroke-linejoin="round"/>
<path d="M519.7 953.87L523.13 947.69L516.27 947.69Z" fill="#168270" stroke="#0D6A5A" stroke-width="0.7" stroke-linejoin="round"/>
<path d="M529.4 952.14L532.83 945.97L525.97 945.97Z" fill="#168270" stroke="#0D6A5A" stroke-width="0.7" stroke-linejoin="round"/>
<line x1="552.8" y1="949.73" x2="552.8" y2="963.91" stroke="#132f57" stroke-width="1" opacity="0.8"/>
<line x1="548.8" y1="949.73" x2="556.8" y2="949.73" stroke="#132f57" stroke-width="1" opacity="0.8"/>
<line x1="548.8" y1="963.91" x2="556.8" y2="963.91" stroke="#132f57" stroke-width="1" opacity="0.8"/>
<path d="M552.5 943.72L556.17 947.4L552.5 951.07L548.83 947.4Z" fill="#2F6CA8" stroke="#24578C" stroke-width="0.7"/>
<path d="M546.2 957.4L549.87 961.07L546.2 964.75L542.52 961.07Z" fill="#2F6CA8" stroke="#24578C" stroke-width="0.7"/>
<path d="M558.7 954.16L562.37 957.83L558.7 961.51L555.02 957.83Z" fill="#2F6CA8" stroke="#24578C" stroke-width="0.7"/>
<line x1="581" y1="890.97" x2="581" y2="907.18" stroke="#cc6a3a" stroke-width="1" opacity="0.8"/>
<line x1="577" y1="890.97" x2="585" y2="890.97" stroke="#cc6a3a" stroke-width="1" opacity="0.8"/>
<line x1="577" y1="907.18" x2="585" y2="907.18" stroke="#cc6a3a" stroke-width="1" opacity="0.8"/>
<circle cx="580.7" cy="889.96" r="3.5" fill="#F4913F" stroke="#D6672A" stroke-width="1.1"/>
<circle cx="580.7" cy="899.48" r="3.5" fill="#F4913F" stroke="#D6672A" stroke-width="1.1"/>
<circle cx="580.7" cy="906.17" r="3.5" fill="#F4913F" stroke="#D6672A" stroke-width="1.1"/>
<line x1="609.3" y1="933.52" x2="609.3" y2="945.68" stroke="#A8305E" stroke-width="1" opacity="0.8"/>
<line x1="605.3" y1="933.52" x2="613.3" y2="933.52" stroke="#A8305E" stroke-width="1" opacity="0.8"/>
<line x1="605.3" y1="945.68" x2="613.3" y2="945.68" stroke="#A8305E" stroke-width="1" opacity="0.8"/>
<rect x="605.44" y="928.64" width="6.51" height="6.51" fill="#EE7BA0" stroke="#B8336A" stroke-width="1.1"/>
<rect x="611.75" y="933.61" width="6.51" height="6.51" fill="#EE7BA0" stroke="#B8336A" stroke-width="1.1"/>
<rect x="599.94" y="939.69" width="6.51" height="6.51" fill="#EE7BA0" stroke="#B8336A" stroke-width="1.1"/>
<line x1="637.7" y1="911.23" x2="637.7" y2="927.44" stroke="#4F8A25" stroke-width="1" opacity="0.8"/>
<line x1="633.7" y1="911.23" x2="641.7" y2="911.23" stroke="#4F8A25" stroke-width="1" opacity="0.8"/>
<line x1="633.7" y1="927.44" x2="641.7" y2="927.44" stroke="#4F8A25" stroke-width="1" opacity="0.8"/>
<path d="M637 906.99L640.43 913.17L633.57 913.17Z" fill="#9CC76A" stroke="#4B8A22" stroke-width="1.1" stroke-linejoin="round"/>
<path d="M643.7 919.05L647.13 925.22L640.27 925.22Z" fill="#9CC76A" stroke="#4B8A22" stroke-width="1.1" stroke-linejoin="round"/>
<path d="M631.2 922.7L634.63 928.87L627.77 928.87Z" fill="#9CC76A" stroke="#4B8A22" stroke-width="1.1" stroke-linejoin="round"/>
<text x="468" y="908.41" font-family='"Liberation Sans", sans-serif' font-size="15.5" font-weight="bold" text-anchor="middle" fill="#505050" textLength="12.2" lengthAdjust="spacingAndGlyphs" stroke="#505050" stroke-width="0.15">**</text>
<text x="496.3" y="939.09" font-family='"Liberation Serif", serif' font-size="13.5" font-weight="bold" text-anchor="middle" fill="#222" textLength="12.6" lengthAdjust="spacingAndGlyphs" stroke="#222" stroke-width="0.3">##</text>
<text x="524.8" y="935.79" font-family='"Liberation Serif", serif' font-size="13.5" font-weight="bold" text-anchor="middle" fill="#222" textLength="12.6" lengthAdjust="spacingAndGlyphs" stroke="#222" stroke-width="0.3">##</text>
<text x="581" y="889.71" font-family='"Liberation Sans", sans-serif' font-size="15.5" font-weight="bold" text-anchor="middle" fill="#505050" textLength="12.2" lengthAdjust="spacingAndGlyphs" stroke="#505050" stroke-width="0.15">**</text>
<text x="609.3" y="927.09" font-family='"Liberation Serif", serif' font-size="13.5" font-weight="bold" text-anchor="middle" fill="#222" textLength="12.6" lengthAdjust="spacingAndGlyphs" stroke="#222" stroke-width="0.3">##</text>
<text x="637.7" y="904.59" font-family='"Liberation Serif", serif' font-size="13.5" font-weight="bold" text-anchor="middle" fill="#222" textLength="6.3" lengthAdjust="spacingAndGlyphs" stroke="#222" stroke-width="0.3">#</text>
<text x="439" y="1007" font-family='"Liberation Serif", serif' font-size="8.8" font-weight="bold" text-anchor="middle" fill="#000" textLength="29.5" lengthAdjust="spacingAndGlyphs" stroke="#000" stroke-width="0.3">Control</text>
<text x="468" y="1007" font-family='"Liberation Serif", serif' font-size="8.8" font-weight="bold" text-anchor="middle" fill="#000" textLength="15.5" lengthAdjust="spacingAndGlyphs" stroke="#000" stroke-width="0.3">H/R</text>
<text x="496.3" y="1007" font-family='"Liberation Serif", serif' font-size="8.8" font-weight="bold" text-anchor="middle" fill="#000" textLength="23" lengthAdjust="spacingAndGlyphs" stroke="#000" stroke-width="0.3">NaHS</text>
<text x="524.8" y="1007" font-family='"Liberation Serif", serif' font-size="8.8" font-weight="bold" text-anchor="middle" fill="#000" textLength="17" lengthAdjust="spacingAndGlyphs" stroke="#000" stroke-width="0.3">TFR</text>
<text x="551.8" y="1007" font-family='"Liberation Serif", serif' font-size="8.8" font-weight="bold" text-anchor="middle" fill="#000" textLength="29.5" lengthAdjust="spacingAndGlyphs" stroke="#000" stroke-width="0.3">Control</text>
<text x="581" y="1007" font-family='"Liberation Serif", serif' font-size="8.8" font-weight="bold" text-anchor="middle" fill="#000" textLength="15.5" lengthAdjust="spacingAndGlyphs" stroke="#000" stroke-width="0.3">H/R</text>
<text x="609.3" y="1007" font-family='"Liberation Serif", serif' font-size="8.8" font-weight="bold" text-anchor="middle" fill="#000" textLength="23" lengthAdjust="spacingAndGlyphs" stroke="#000" stroke-width="0.3">NaHS</text>
<text x="637.7" y="1007" font-family='"Liberation Serif", serif' font-size="8.8" font-weight="bold" text-anchor="middle" fill="#000" textLength="17" lengthAdjust="spacingAndGlyphs" stroke="#000" stroke-width="0.3">TFR</text>
<line x1="426" y1="1012" x2="530.5" y2="1012" stroke="#111" stroke-width="1.8"/>
<line x1="541" y1="1012" x2="644.5" y2="1012" stroke="#111" stroke-width="1.8"/>
<text x="482.5" y="1026" font-family='"Liberation Serif", serif' font-size="13" font-weight="bold" text-anchor="middle" fill="#000" textLength="50.2" lengthAdjust="spacingAndGlyphs" stroke="#000" stroke-width="0.3">WT ECs</text>
<text x="593.5" y="1026" font-family='"Liberation Serif", serif' font-size="13" font-weight="bold" text-anchor="middle" fill="#000" textLength="94.2" lengthAdjust="spacingAndGlyphs" stroke="#000" stroke-width="0.3">3-MST KO ECs</text>
<text transform="translate(364,917.7) rotate(-90)" x="0" y="0" font-family='"Liberation Serif", serif' font-size="13.8" font-weight="bold" text-anchor="middle" fill="#000" stroke="#000" stroke-width="0.3" textLength="92.5" lengthAdjust="spacingAndGlyphs">ROCK<tspan font-size="70%" dy="0.28em">2</tspan><tspan dy="-0.28em">/β-actin</tspan></text>
<line x1="58.6" y1="1060.2" x2="58.6" y2="1213" stroke="#000" stroke-width="2"/>
<line x1="51.6" y1="1212" x2="58.6" y2="1212" stroke="#000" stroke-width="1.7"/>
<text x="49.3" y="1216.8" font-family='"Liberation Sans", sans-serif' font-size="12.3" font-weight="bold" text-anchor="end" fill="#000" stroke="#000" stroke-width="0.15">0</text>
<line x1="51.6" y1="1174.25" x2="58.6" y2="1174.25" stroke="#000" stroke-width="1.7"/>
<text x="49.3" y="1179.05" font-family='"Liberation Sans", sans-serif' font-size="12.3" font-weight="bold" text-anchor="end" fill="#000" stroke="#000" stroke-width="0.15">50</text>
<line x1="51.6" y1="1136.5" x2="58.6" y2="1136.5" stroke="#000" stroke-width="1.7"/>
<text x="49.3" y="1141.3" font-family='"Liberation Sans", sans-serif' font-size="12.3" font-weight="bold" text-anchor="end" fill="#000" stroke="#000" stroke-width="0.15">100</text>
<line x1="51.6" y1="1098.75" x2="58.6" y2="1098.75" stroke="#000" stroke-width="1.7"/>
<text x="49.3" y="1103.55" font-family='"Liberation Sans", sans-serif' font-size="12.3" font-weight="bold" text-anchor="end" fill="#000" stroke="#000" stroke-width="0.15">150</text>
<line x1="51.6" y1="1061" x2="58.6" y2="1061" stroke="#000" stroke-width="1.7"/>
<text x="49.3" y="1065.8" font-family='"Liberation Sans", sans-serif' font-size="12.3" font-weight="bold" text-anchor="end" fill="#000" stroke="#000" stroke-width="0.15">200</text>
<rect x="85.85" y="1151.24" width="16.7" height="60.76" fill="#fff" stroke="#5B1508" stroke-width="2.3"/>
<rect x="114.15" y="1111.98" width="16.7" height="100.02" fill="#fff" stroke="#4A0B28" stroke-width="2.3"/>
<rect x="142.25" y="1134.63" width="16.7" height="77.37" fill="#fff" stroke="#15300c" stroke-width="2.3"/>
<rect x="170.55" y="1139.16" width="16.7" height="72.84" fill="#fff" stroke="#0b332a" stroke-width="2.3"/>
<rect x="198.55" y="1141.43" width="16.7" height="70.57" fill="#fff" stroke="#132f57" stroke-width="2.3"/>
<rect x="226.65" y="1100.66" width="16.7" height="111.34" fill="#fff" stroke="#cc6a3a" stroke-width="2.3"/>
<rect x="255.15" y="1124.06" width="16.7" height="87.94" fill="#fff" stroke="#A8305E" stroke-width="2.3"/>
<rect x="283.55" y="1121.8" width="16.7" height="90.21" fill="#fff" stroke="#4F8A25" stroke-width="2.3"/>
<line x1="94.2" y1="1142.54" x2="94.2" y2="1157.64" stroke="#5B1508" stroke-width="1" opacity="0.8"/>
<line x1="90.2" y1="1142.54" x2="98.2" y2="1142.54" stroke="#5B1508" stroke-width="1" opacity="0.8"/>
<line x1="90.2" y1="1157.64" x2="98.2" y2="1157.64" stroke="#5B1508" stroke-width="1" opacity="0.8"/>
<circle cx="88.5" cy="1141.79" r="3.5" fill="#C4562F" stroke="#A8421F" stroke-width="0.7"/>
<circle cx="99.7" cy="1139.22" r="3.5" fill="#C4562F" stroke="#A8421F" stroke-width="0.7"/>
<circle cx="94.8" cy="1149.71" r="3.5" fill="#C4562F" stroke="#A8421F" stroke-width="0.7"/>
<circle cx="99.7" cy="1148.58" r="3.5" fill="#C4562F" stroke="#A8421F" stroke-width="0.7"/>
<circle cx="88.5" cy="1154.62" r="3.5" fill="#C4562F" stroke="#A8421F" stroke-width="0.7"/>
<circle cx="99.7" cy="1157.64" r="3.5" fill="#C4562F" stroke="#A8421F" stroke-width="0.7"/>
<circle cx="88.5" cy="1162.17" r="3.5" fill="#C4562F" stroke="#A8421F" stroke-width="0.7"/>
<line x1="122.5" y1="1097.99" x2="122.5" y2="1123.66" stroke="#4A0B28" stroke-width="1" opacity="0.8"/>
<line x1="118.5" y1="1097.99" x2="126.5" y2="1097.99" stroke="#4A0B28" stroke-width="1" opacity="0.8"/>
<line x1="118.5" y1="1123.66" x2="126.5" y2="1123.66" stroke="#4A0B28" stroke-width="1" opacity="0.8"/>
<rect x="112.75" y="1091.72" width="6.51" height="6.51" fill="#B8336A" stroke="#9A2455" stroke-width="0.7"/>
<rect x="118.95" y="1090.21" width="6.51" height="6.51" fill="#B8336A" stroke="#9A2455" stroke-width="0.7"/>
<rect x="118.95" y="1106.06" width="6.51" height="6.51" fill="#B8336A" stroke="#9A2455" stroke-width="0.7"/>
<rect x="112.75" y="1119.65" width="6.51" height="6.51" fill="#B8336A" stroke="#9A2455" stroke-width="0.7"/>
<rect x="118.95" y="1115.88" width="6.51" height="6.51" fill="#B8336A" stroke="#9A2455" stroke-width="0.7"/>
<rect x="123.95" y="1116.63" width="6.51" height="6.51" fill="#B8336A" stroke="#9A2455" stroke-width="0.7"/>
<line x1="150.6" y1="1126.68" x2="150.6" y2="1140.28" stroke="#15300c" stroke-width="1" opacity="0.8"/>
<line x1="146.6" y1="1126.68" x2="154.6" y2="1126.68" stroke="#15300c" stroke-width="1" opacity="0.8"/>
<line x1="146.6" y1="1140.28" x2="154.6" y2="1140.28" stroke="#15300c" stroke-width="1" opacity="0.8"/>
<path d="M152.1 1117.59L155.53 1123.77L148.67 1123.77Z" fill="#4D7A28" stroke="#3C661C" stroke-width="0.7" stroke-linejoin="round"/>
<path d="M147.1 1123.78L150.53 1129.96L143.67 1129.96Z" fill="#4D7A28" stroke="#3C661C" stroke-width="0.7" stroke-linejoin="round"/>
<path d="M148.4 1131.79L151.83 1137.96L144.97 1137.96Z" fill="#4D7A28" stroke="#3C661C" stroke-width="0.7" stroke-linejoin="round"/>
<path d="M154.6 1131.26L158.03 1137.43L151.17 1137.43Z" fill="#4D7A28" stroke="#3C661C" stroke-width="0.7" stroke-linejoin="round"/>
<path d="M149.6 1136.32L153.03 1142.49L146.17 1142.49Z" fill="#4D7A28" stroke="#3C661C" stroke-width="0.7" stroke-linejoin="round"/>
<line x1="178.9" y1="1131.21" x2="178.9" y2="1144.81" stroke="#0b332a" stroke-width="1" opacity="0.8"/>
<line x1="174.9" y1="1131.21" x2="182.9" y2="1131.21" stroke="#0b332a" stroke-width="1" opacity="0.8"/>
<line x1="174.9" y1="1144.81" x2="182.9" y2="1144.81" stroke="#0b332a" stroke-width="1" opacity="0.8"/>
<path d="M172.5 1129.66L175.93 1123.49L169.07 1123.49Z" fill="#168270" stroke="#0D6A5A" stroke-width="0.7" stroke-linejoin="round"/>
<path d="M178.7 1139.63L182.13 1133.45L175.27 1133.45Z" fill="#168270" stroke="#0D6A5A" stroke-width="0.7" stroke-linejoin="round"/>
<path d="M185 1137.14L188.43 1130.96L181.57 1130.96Z" fill="#168270" stroke="#0D6A5A" stroke-width="0.7" stroke-linejoin="round"/>
<path d="M172.5 1145.44L175.93 1139.27L169.07 1139.27Z" fill="#168270" stroke="#0D6A5A" stroke-width="0.7" stroke-linejoin="round"/>
<path d="M185 1144.69L188.43 1138.51L181.57 1138.51Z" fill="#168270" stroke="#0D6A5A" stroke-width="0.7" stroke-linejoin="round"/>
<path d="M172.5 1149.59L175.93 1143.42L169.07 1143.42Z" fill="#168270" stroke="#0D6A5A" stroke-width="0.7" stroke-linejoin="round"/>
<line x1="206.9" y1="1133.48" x2="206.9" y2="1147.07" stroke="#132f57" stroke-width="1" opacity="0.8"/>
<line x1="202.9" y1="1133.48" x2="210.9" y2="1133.48" stroke="#132f57" stroke-width="1" opacity="0.8"/>
<line x1="202.9" y1="1147.07" x2="210.9" y2="1147.07" stroke="#132f57" stroke-width="1" opacity="0.8"/>
<path d="M208.7 1123.31L212.38 1126.99L208.7 1130.66L205.03 1126.99Z" fill="#2F6CA8" stroke="#24578C" stroke-width="0.7"/>
<path d="M204.5 1129.35L208.18 1133.03L204.5 1136.7L200.82 1133.03Z" fill="#2F6CA8" stroke="#24578C" stroke-width="0.7"/>
<path d="M208.7 1133.35L212.38 1137.03L208.7 1140.7L205.03 1137.03Z" fill="#2F6CA8" stroke="#24578C" stroke-width="0.7"/>
<path d="M202.5 1140.83L206.18 1144.5L202.5 1148.18L198.82 1144.5Z" fill="#2F6CA8" stroke="#24578C" stroke-width="0.7"/>
<path d="M212.5 1140.83L216.18 1144.5L212.5 1148.18L208.82 1144.5Z" fill="#2F6CA8" stroke="#24578C" stroke-width="0.7"/>
<path d="M206.3 1141.88L209.98 1145.56L206.3 1149.23L202.62 1145.56Z" fill="#2F6CA8" stroke="#24578C" stroke-width="0.7"/>
<line x1="235" y1="1086.67" x2="235" y2="1112.34" stroke="#cc6a3a" stroke-width="1" opacity="0.8"/>
<line x1="231" y1="1086.67" x2="239" y2="1086.67" stroke="#cc6a3a" stroke-width="1" opacity="0.8"/>
<line x1="231" y1="1112.34" x2="239" y2="1112.34" stroke="#cc6a3a" stroke-width="1" opacity="0.8"/>
<circle cx="234.8" cy="1084.4" r="3.5" fill="#F4913F" stroke="#D6672A" stroke-width="1.1"/>
<circle cx="228.6" cy="1089.39" r="3.5" fill="#F4913F" stroke="#D6672A" stroke-width="1.1"/>
<circle cx="234.8" cy="1092.41" r="3.5" fill="#F4913F" stroke="#D6672A" stroke-width="1.1"/>
<circle cx="234.8" cy="1101.02" r="3.5" fill="#F4913F" stroke="#D6672A" stroke-width="1.1"/>
<circle cx="241" cy="1110.98" r="3.5" fill="#F4913F" stroke="#D6672A" stroke-width="1.1"/>
<circle cx="228.6" cy="1114.83" r="3.5" fill="#F4913F" stroke="#D6672A" stroke-width="1.1"/>
<line x1="263.5" y1="1114.61" x2="263.5" y2="1131.21" stroke="#A8305E" stroke-width="1" opacity="0.8"/>
<line x1="259.5" y1="1114.61" x2="267.5" y2="1114.61" stroke="#A8305E" stroke-width="1" opacity="0.8"/>
<line x1="259.5" y1="1131.21" x2="267.5" y2="1131.21" stroke="#A8305E" stroke-width="1" opacity="0.8"/>
<rect x="254.05" y="1107.73" width="6.51" height="6.51" fill="#EE7BA0" stroke="#B8336A" stroke-width="1.1"/>
<rect x="260.25" y="1107.73" width="6.51" height="6.51" fill="#EE7BA0" stroke="#B8336A" stroke-width="1.1"/>
<rect x="260.25" y="1115.28" width="6.51" height="6.51" fill="#EE7BA0" stroke="#B8336A" stroke-width="1.1"/>
<rect x="260.25" y="1122.75" width="6.51" height="6.51" fill="#EE7BA0" stroke="#B8336A" stroke-width="1.1"/>
<rect x="266.44" y="1126.53" width="6.51" height="6.51" fill="#EE7BA0" stroke="#B8336A" stroke-width="1.1"/>
<rect x="254.05" y="1128.94" width="6.51" height="6.51" fill="#EE7BA0" stroke="#B8336A" stroke-width="1.1"/>
<line x1="291.9" y1="1109.32" x2="291.9" y2="1131.97" stroke="#4F8A25" stroke-width="1" opacity="0.8"/>
<line x1="287.9" y1="1109.32" x2="295.9" y2="1109.32" stroke="#4F8A25" stroke-width="1" opacity="0.8"/>
<line x1="287.9" y1="1131.97" x2="295.9" y2="1131.97" stroke="#4F8A25" stroke-width="1" opacity="0.8"/>
<path d="M286 1101.89L289.43 1108.06L282.57 1108.06Z" fill="#9CC76A" stroke="#4B8A22" stroke-width="1.1" stroke-linejoin="round"/>
<path d="M298.4 1104.38L301.83 1110.55L294.97 1110.55Z" fill="#9CC76A" stroke="#4B8A22" stroke-width="1.1" stroke-linejoin="round"/>
<path d="M286 1110.04L289.43 1116.22L282.57 1116.22Z" fill="#9CC76A" stroke="#4B8A22" stroke-width="1.1" stroke-linejoin="round"/>
<path d="M298.4 1112.53L301.83 1118.71L294.97 1118.71Z" fill="#9CC76A" stroke="#4B8A22" stroke-width="1.1" stroke-linejoin="round"/>
<path d="M286 1129.37L289.43 1135.54L282.57 1135.54Z" fill="#9CC76A" stroke="#4B8A22" stroke-width="1.1" stroke-linejoin="round"/>
<path d="M297.2 1128.77L300.63 1134.94L293.77 1134.94Z" fill="#9CC76A" stroke="#4B8A22" stroke-width="1.1" stroke-linejoin="round"/>
<text x="122.5" y="1093.21" font-family='"Liberation Sans", sans-serif' font-size="15.5" font-weight="bold" text-anchor="middle" fill="#505050" textLength="12.2" lengthAdjust="spacingAndGlyphs" stroke="#505050" stroke-width="0.15">**</text>
<text x="150.6" y="1117.59" font-family='"Liberation Serif", serif' font-size="13.5" font-weight="bold" text-anchor="middle" fill="#222" textLength="12.6" lengthAdjust="spacingAndGlyphs" stroke="#222" stroke-width="0.3">##</text>
<text x="178.9" y="1123.29" font-family='"Liberation Serif", serif' font-size="13.5" font-weight="bold" text-anchor="middle" fill="#222" textLength="12.6" lengthAdjust="spacingAndGlyphs" stroke="#222" stroke-width="0.3">##</text>
<text x="235" y="1084.21" font-family='"Liberation Sans", sans-serif' font-size="15.5" font-weight="bold" text-anchor="middle" fill="#505050" textLength="12.2" lengthAdjust="spacingAndGlyphs" stroke="#505050" stroke-width="0.15">**</text>
<text x="263.5" y="1105.09" font-family='"Liberation Serif", serif' font-size="13.5" font-weight="bold" text-anchor="middle" fill="#222" textLength="12.6" lengthAdjust="spacingAndGlyphs" stroke="#222" stroke-width="0.3">##</text>
<text x="291.9" y="1099.09" font-family='"Liberation Serif", serif' font-size="13.5" font-weight="bold" text-anchor="middle" fill="#222" textLength="6.3" lengthAdjust="spacingAndGlyphs" stroke="#222" stroke-width="0.3">#</text>
<text x="93.2" y="1224.5" font-family='"Liberation Serif", serif' font-size="8.8" font-weight="bold" text-anchor="middle" fill="#000" textLength="29.5" lengthAdjust="spacingAndGlyphs" stroke="#000" stroke-width="0.3">Control</text>
<text x="122.5" y="1224.5" font-family='"Liberation Serif", serif' font-size="8.8" font-weight="bold" text-anchor="middle" fill="#000" textLength="15.5" lengthAdjust="spacingAndGlyphs" stroke="#000" stroke-width="0.3">H/R</text>
<text x="150.6" y="1224.5" font-family='"Liberation Serif", serif' font-size="8.8" font-weight="bold" text-anchor="middle" fill="#000" textLength="23" lengthAdjust="spacingAndGlyphs" stroke="#000" stroke-width="0.3">NaHS</text>
<text x="178.9" y="1224.5" font-family='"Liberation Serif", serif' font-size="8.8" font-weight="bold" text-anchor="middle" fill="#000" textLength="17" lengthAdjust="spacingAndGlyphs" stroke="#000" stroke-width="0.3">TFR</text>
<text x="205.9" y="1224.5" font-family='"Liberation Serif", serif' font-size="8.8" font-weight="bold" text-anchor="middle" fill="#000" textLength="29.5" lengthAdjust="spacingAndGlyphs" stroke="#000" stroke-width="0.3">Control</text>
<text x="235" y="1224.5" font-family='"Liberation Serif", serif' font-size="8.8" font-weight="bold" text-anchor="middle" fill="#000" textLength="15.5" lengthAdjust="spacingAndGlyphs" stroke="#000" stroke-width="0.3">H/R</text>
<text x="263.5" y="1224.5" font-family='"Liberation Serif", serif' font-size="8.8" font-weight="bold" text-anchor="middle" fill="#000" textLength="23" lengthAdjust="spacingAndGlyphs" stroke="#000" stroke-width="0.3">NaHS</text>
<text x="291.9" y="1224.5" font-family='"Liberation Serif", serif' font-size="8.8" font-weight="bold" text-anchor="middle" fill="#000" textLength="17" lengthAdjust="spacingAndGlyphs" stroke="#000" stroke-width="0.3">TFR</text>
<line x1="80.5" y1="1229.5" x2="185" y2="1229.5" stroke="#111" stroke-width="1.8"/>
<line x1="194.5" y1="1229.5" x2="300" y2="1229.5" stroke="#111" stroke-width="1.8"/>
<text x="136.3" y="1242.5" font-family='"Liberation Serif", serif' font-size="13" font-weight="bold" text-anchor="middle" fill="#000" textLength="49.8" lengthAdjust="spacingAndGlyphs" stroke="#000" stroke-width="0.3">WT ECs</text>
<text x="249" y="1242.5" font-family='"Liberation Serif", serif' font-size="13" font-weight="bold" text-anchor="middle" fill="#000" textLength="79.2" lengthAdjust="spacingAndGlyphs" stroke="#000" stroke-width="0.3">CSE KO ECs</text>
<text transform="translate(20,1137) rotate(-90)" x="0" y="0" font-family='"Liberation Serif", serif' font-size="13.8" font-weight="bold" text-anchor="middle" fill="#000" stroke="#000" stroke-width="0.3" textLength="133" lengthAdjust="spacingAndGlyphs">ROCK<tspan font-size="70%" dy="0.28em">2</tspan><tspan dy="-0.28em"> activity (IU/L)</tspan></text>
<line x1="402.5" y1="1059.7" x2="402.5" y2="1212.7" stroke="#000" stroke-width="2"/>
<line x1="395.5" y1="1211.7" x2="402.5" y2="1211.7" stroke="#000" stroke-width="1.7"/>
<text x="393.5" y="1216.5" font-family='"Liberation Sans", sans-serif' font-size="12.3" font-weight="bold" text-anchor="end" fill="#000" stroke="#000" stroke-width="0.15">0</text>
<line x1="395.5" y1="1173.9" x2="402.5" y2="1173.9" stroke="#000" stroke-width="1.7"/>
<text x="393.5" y="1178.7" font-family='"Liberation Sans", sans-serif' font-size="12.3" font-weight="bold" text-anchor="end" fill="#000" stroke="#000" stroke-width="0.15">50</text>
<line x1="395.5" y1="1136.1" x2="402.5" y2="1136.1" stroke="#000" stroke-width="1.7"/>
<text x="393.5" y="1140.9" font-family='"Liberation Sans", sans-serif' font-size="12.3" font-weight="bold" text-anchor="end" fill="#000" stroke="#000" stroke-width="0.15">100</text>
<line x1="395.5" y1="1098.3" x2="402.5" y2="1098.3" stroke="#000" stroke-width="1.7"/>
<text x="393.5" y="1103.1" font-family='"Liberation Sans", sans-serif' font-size="12.3" font-weight="bold" text-anchor="end" fill="#000" stroke="#000" stroke-width="0.15">150</text>
<line x1="395.5" y1="1060.5" x2="402.5" y2="1060.5" stroke="#000" stroke-width="1.7"/>
<text x="393.5" y="1065.3" font-family='"Liberation Sans", sans-serif' font-size="12.3" font-weight="bold" text-anchor="end" fill="#000" stroke="#000" stroke-width="0.15">200</text>
<rect x="429.65" y="1150.86" width="16.7" height="60.84" fill="#fff" stroke="#5B1508" stroke-width="2.3"/>
<rect x="457.95" y="1109.28" width="16.7" height="102.42" fill="#fff" stroke="#4A0B28" stroke-width="2.3"/>
<rect x="486.35" y="1135.74" width="16.7" height="75.96" fill="#fff" stroke="#15300c" stroke-width="2.3"/>
<rect x="514.65" y="1142.54" width="16.7" height="69.16" fill="#fff" stroke="#0b332a" stroke-width="2.3"/>
<rect x="542.65" y="1138.01" width="16.7" height="73.69" fill="#fff" stroke="#132f57" stroke-width="2.3"/>
<rect x="570.85" y="1098.69" width="16.7" height="113.01" fill="#fff" stroke="#cc6a3a" stroke-width="2.3"/>
<rect x="599.35" y="1122.89" width="16.7" height="88.81" fill="#fff" stroke="#A8305E" stroke-width="2.3"/>
<rect x="627.65" y="1121.37" width="16.7" height="90.33" fill="#fff" stroke="#4F8A25" stroke-width="2.3"/>
<line x1="438" y1="1142.9" x2="438" y2="1156.51" stroke="#5B1508" stroke-width="1" opacity="0.8"/>
<line x1="434" y1="1142.9" x2="442" y2="1142.9" stroke="#5B1508" stroke-width="1" opacity="0.8"/>
<line x1="434" y1="1156.51" x2="442" y2="1156.51" stroke="#5B1508" stroke-width="1" opacity="0.8"/>
<circle cx="432.2" cy="1144.42" r="3.5" fill="#C4562F" stroke="#A8421F" stroke-width="0.7"/>
<circle cx="438.5" cy="1142.9" r="3.5" fill="#C4562F" stroke="#A8421F" stroke-width="0.7"/>
<circle cx="444.6" cy="1142" r="3.5" fill="#C4562F" stroke="#A8421F" stroke-width="0.7"/>
<circle cx="434.7" cy="1150.01" r="3.5" fill="#C4562F" stroke="#A8421F" stroke-width="0.7"/>
<circle cx="444.6" cy="1149.48" r="3.5" fill="#C4562F" stroke="#A8421F" stroke-width="0.7"/>
<circle cx="438.5" cy="1155.45" r="3.5" fill="#C4562F" stroke="#A8421F" stroke-width="0.7"/>
<circle cx="438.5" cy="1162.56" r="3.5" fill="#C4562F" stroke="#A8421F" stroke-width="0.7"/>
<line x1="466.3" y1="1100.57" x2="466.3" y2="1115.69" stroke="#4A0B28" stroke-width="1" opacity="0.8"/>
<line x1="462.3" y1="1100.57" x2="470.3" y2="1100.57" stroke="#4A0B28" stroke-width="1" opacity="0.8"/>
<line x1="462.3" y1="1115.69" x2="470.3" y2="1115.69" stroke="#4A0B28" stroke-width="1" opacity="0.8"/>
<rect x="456.44" y="1092.25" width="6.51" height="6.51" fill="#B8336A" stroke="#9A2455" stroke-width="0.7"/>
<rect x="469.75" y="1095.42" width="6.51" height="6.51" fill="#B8336A" stroke="#9A2455" stroke-width="0.7"/>
<rect x="462.44" y="1103.74" width="6.51" height="6.51" fill="#B8336A" stroke="#9A2455" stroke-width="0.7"/>
<rect x="467.44" y="1107.22" width="6.51" height="6.51" fill="#B8336A" stroke="#9A2455" stroke-width="0.7"/>
<rect x="456.44" y="1114.25" width="6.51" height="6.51" fill="#B8336A" stroke="#9A2455" stroke-width="0.7"/>
<rect x="468.75" y="1111.68" width="6.51" height="6.51" fill="#B8336A" stroke="#9A2455" stroke-width="0.7"/>
<line x1="494.7" y1="1126.27" x2="494.7" y2="1142.9" stroke="#15300c" stroke-width="1" opacity="0.8"/>
<line x1="490.7" y1="1126.27" x2="498.7" y2="1126.27" stroke="#15300c" stroke-width="1" opacity="0.8"/>
<line x1="490.7" y1="1142.9" x2="498.7" y2="1142.9" stroke="#15300c" stroke-width="1" opacity="0.8"/>
<path d="M494.4 1120.27L497.83 1126.45L490.97 1126.45Z" fill="#4D7A28" stroke="#3C661C" stroke-width="0.7" stroke-linejoin="round"/>
<path d="M488.2 1124.05L491.63 1130.23L484.77 1130.23Z" fill="#4D7A28" stroke="#3C661C" stroke-width="0.7" stroke-linejoin="round"/>
<path d="M500.7 1125.26L504.13 1131.44L497.27 1131.44Z" fill="#4D7A28" stroke="#3C661C" stroke-width="0.7" stroke-linejoin="round"/>
<path d="M494.4 1131.54L497.83 1137.71L490.97 1137.71Z" fill="#4D7A28" stroke="#3C661C" stroke-width="0.7" stroke-linejoin="round"/>
<path d="M488.2 1141.59L491.63 1147.76L484.77 1147.76Z" fill="#4D7A28" stroke="#3C661C" stroke-width="0.7" stroke-linejoin="round"/>
<path d="M500.7 1139.1L504.13 1145.27L497.27 1145.27Z" fill="#4D7A28" stroke="#3C661C" stroke-width="0.7" stroke-linejoin="round"/>
<line x1="523" y1="1133.83" x2="523" y2="1148.95" stroke="#0b332a" stroke-width="1" opacity="0.8"/>
<line x1="519" y1="1133.83" x2="527" y2="1133.83" stroke="#0b332a" stroke-width="1" opacity="0.8"/>
<line x1="519" y1="1148.95" x2="527" y2="1148.95" stroke="#0b332a" stroke-width="1" opacity="0.8"/>
<path d="M516.9 1134.46L520.33 1128.29L513.47 1128.29Z" fill="#168270" stroke="#0D6A5A" stroke-width="0.7" stroke-linejoin="round"/>
<path d="M523 1136.2L526.43 1130.03L519.57 1130.03Z" fill="#168270" stroke="#0D6A5A" stroke-width="0.7" stroke-linejoin="round"/>
<path d="M528 1132.73L531.43 1126.55L524.57 1126.55Z" fill="#168270" stroke="#0D6A5A" stroke-width="0.7" stroke-linejoin="round"/>
<path d="M520.6 1141.95L524.03 1135.78L517.17 1135.78Z" fill="#168270" stroke="#0D6A5A" stroke-width="0.7" stroke-linejoin="round"/>
<path d="M528 1149.43L531.43 1143.26L524.57 1143.26Z" fill="#168270" stroke="#0D6A5A" stroke-width="0.7" stroke-linejoin="round"/>
<path d="M518.1 1154.42L521.53 1148.25L514.67 1148.25Z" fill="#168270" stroke="#0D6A5A" stroke-width="0.7" stroke-linejoin="round"/>
<line x1="551" y1="1118.71" x2="551" y2="1155" stroke="#132f57" stroke-width="1" opacity="0.8"/>
<line x1="547" y1="1118.71" x2="555" y2="1118.71" stroke="#132f57" stroke-width="1" opacity="0.8"/>
<line x1="547" y1="1155" x2="555" y2="1155" stroke="#132f57" stroke-width="1" opacity="0.8"/>
<path d="M551.2 1110.8L554.88 1114.48L551.2 1118.15L547.53 1114.48Z" fill="#2F6CA8" stroke="#24578C" stroke-width="0.7"/>
<path d="M551.2 1118.59L554.88 1122.27L551.2 1125.94L547.53 1122.27Z" fill="#2F6CA8" stroke="#24578C" stroke-width="0.7"/>
<path d="M551.2 1125.62L554.88 1129.3L551.2 1132.97L547.53 1129.3Z" fill="#2F6CA8" stroke="#24578C" stroke-width="0.7"/>
<path d="M551.2 1134.32L554.88 1137.99L551.2 1141.66L547.53 1137.99Z" fill="#2F6CA8" stroke="#24578C" stroke-width="0.7"/>
<path d="M551.2 1142.03L554.88 1145.7L551.2 1149.38L547.53 1145.7Z" fill="#2F6CA8" stroke="#24578C" stroke-width="0.7"/>
<path d="M551.2 1161.83L554.88 1165.51L551.2 1169.18L547.53 1165.51Z" fill="#2F6CA8" stroke="#24578C" stroke-width="0.7"/>
<line x1="579.2" y1="1093.01" x2="579.2" y2="1102.08" stroke="#cc6a3a" stroke-width="1" opacity="0.8"/>
<line x1="575.2" y1="1093.01" x2="583.2" y2="1093.01" stroke="#cc6a3a" stroke-width="1" opacity="0.8"/>
<line x1="575.2" y1="1102.08" x2="583.2" y2="1102.08" stroke="#cc6a3a" stroke-width="1" opacity="0.8"/>
<circle cx="573" cy="1091.19" r="3.5" fill="#F4913F" stroke="#D6672A" stroke-width="1.1"/>
<circle cx="578.7" cy="1093.01" r="3.5" fill="#F4913F" stroke="#D6672A" stroke-width="1.1"/>
<circle cx="585" cy="1095.05" r="3.5" fill="#F4913F" stroke="#D6672A" stroke-width="1.1"/>
<circle cx="582" cy="1097.54" r="3.5" fill="#F4913F" stroke="#D6672A" stroke-width="1.1"/>
<circle cx="576.2" cy="1102.99" r="3.5" fill="#F4913F" stroke="#D6672A" stroke-width="1.1"/>
<line x1="607.7" y1="1117.2" x2="607.7" y2="1126.27" stroke="#A8305E" stroke-width="1" opacity="0.8"/>
<line x1="603.7" y1="1117.2" x2="611.7" y2="1117.2" stroke="#A8305E" stroke-width="1" opacity="0.8"/>
<line x1="603.7" y1="1126.27" x2="611.7" y2="1126.27" stroke="#A8305E" stroke-width="1" opacity="0.8"/>
<rect x="606.25" y="1113.72" width="6.51" height="6.51" fill="#EE7BA0" stroke="#B8336A" stroke-width="1.1"/>
<rect x="598.75" y="1117.95" width="6.51" height="6.51" fill="#EE7BA0" stroke="#B8336A" stroke-width="1.1"/>
<rect x="604.25" y="1116.74" width="6.51" height="6.51" fill="#EE7BA0" stroke="#B8336A" stroke-width="1.1"/>
<rect x="611.25" y="1119.77" width="6.51" height="6.51" fill="#EE7BA0" stroke="#B8336A" stroke-width="1.1"/>
<rect x="598.75" y="1125.44" width="6.51" height="6.51" fill="#EE7BA0" stroke="#B8336A" stroke-width="1.1"/>
<rect x="606.25" y="1123.77" width="6.51" height="6.51" fill="#EE7BA0" stroke="#B8336A" stroke-width="1.1"/>
<line x1="636" y1="1114.18" x2="636" y2="1126.27" stroke="#4F8A25" stroke-width="1" opacity="0.8"/>
<line x1="632" y1="1114.18" x2="640" y2="1114.18" stroke="#4F8A25" stroke-width="1" opacity="0.8"/>
<line x1="632" y1="1126.27" x2="640" y2="1126.27" stroke="#4F8A25" stroke-width="1" opacity="0.8"/>
<path d="M629.5 1102.81L632.93 1108.98L626.07 1108.98Z" fill="#9CC76A" stroke="#4B8A22" stroke-width="1.1" stroke-linejoin="round"/>
<path d="M642 1107.8L645.43 1113.97L638.57 1113.97Z" fill="#9CC76A" stroke="#4B8A22" stroke-width="1.1" stroke-linejoin="round"/>
<path d="M629.5 1111.58L632.93 1117.75L626.07 1117.75Z" fill="#9CC76A" stroke="#4B8A22" stroke-width="1.1" stroke-linejoin="round"/>
<path d="M636.2 1116.04L639.63 1122.21L632.77 1122.21Z" fill="#9CC76A" stroke="#4B8A22" stroke-width="1.1" stroke-linejoin="round"/>
<path d="M642 1117.78L645.43 1123.95L638.57 1123.95Z" fill="#9CC76A" stroke="#4B8A22" stroke-width="1.1" stroke-linejoin="round"/>
<path d="M629.5 1120.8L632.93 1126.97L626.07 1126.97Z" fill="#9CC76A" stroke="#4B8A22" stroke-width="1.1" stroke-linejoin="round"/>
<text x="466.3" y="1095.21" font-family='"Liberation Sans", sans-serif' font-size="15.5" font-weight="bold" text-anchor="middle" fill="#505050" textLength="12.2" lengthAdjust="spacingAndGlyphs" stroke="#505050" stroke-width="0.15">**</text>
<text x="494.7" y="1119.09" font-family='"Liberation Serif", serif' font-size="13.5" font-weight="bold" text-anchor="middle" fill="#222" textLength="12.6" lengthAdjust="spacingAndGlyphs" stroke="#222" stroke-width="0.3">##</text>
<text x="523" y="1125.79" font-family='"Liberation Serif", serif' font-size="13.5" font-weight="bold" text-anchor="middle" fill="#222" textLength="12.6" lengthAdjust="spacingAndGlyphs" stroke="#222" stroke-width="0.3">##</text>
<text x="579.2" y="1090.21" font-family='"Liberation Sans", sans-serif' font-size="15.5" font-weight="bold" text-anchor="middle" fill="#505050" textLength="12.2" lengthAdjust="spacingAndGlyphs" stroke="#505050" stroke-width="0.15">**</text>
<text x="607.7" y="1111.59" font-family='"Liberation Serif", serif' font-size="13.5" font-weight="bold" text-anchor="middle" fill="#222" textLength="12.6" lengthAdjust="spacingAndGlyphs" stroke="#222" stroke-width="0.3">##</text>
<text x="636" y="1100.09" font-family='"Liberation Serif", serif' font-size="13.5" font-weight="bold" text-anchor="middle" fill="#222" textLength="6.3" lengthAdjust="spacingAndGlyphs" stroke="#222" stroke-width="0.3">#</text>
<text x="437" y="1224.5" font-family='"Liberation Serif", serif' font-size="8.8" font-weight="bold" text-anchor="middle" fill="#000" textLength="29.5" lengthAdjust="spacingAndGlyphs" stroke="#000" stroke-width="0.3">Control</text>
<text x="466.3" y="1224.5" font-family='"Liberation Serif", serif' font-size="8.8" font-weight="bold" text-anchor="middle" fill="#000" textLength="15.5" lengthAdjust="spacingAndGlyphs" stroke="#000" stroke-width="0.3">H/R</text>
<text x="494.7" y="1224.5" font-family='"Liberation Serif", serif' font-size="8.8" font-weight="bold" text-anchor="middle" fill="#000" textLength="23" lengthAdjust="spacingAndGlyphs" stroke="#000" stroke-width="0.3">NaHS</text>
<text x="523" y="1224.5" font-family='"Liberation Serif", serif' font-size="8.8" font-weight="bold" text-anchor="middle" fill="#000" textLength="17" lengthAdjust="spacingAndGlyphs" stroke="#000" stroke-width="0.3">TFR</text>
<text x="550" y="1224.5" font-family='"Liberation Serif", serif' font-size="8.8" font-weight="bold" text-anchor="middle" fill="#000" textLength="29.5" lengthAdjust="spacingAndGlyphs" stroke="#000" stroke-width="0.3">Control</text>
<text x="579.2" y="1224.5" font-family='"Liberation Serif", serif' font-size="8.8" font-weight="bold" text-anchor="middle" fill="#000" textLength="15.5" lengthAdjust="spacingAndGlyphs" stroke="#000" stroke-width="0.3">H/R</text>
<text x="607.7" y="1224.5" font-family='"Liberation Serif", serif' font-size="8.8" font-weight="bold" text-anchor="middle" fill="#000" textLength="23" lengthAdjust="spacingAndGlyphs" stroke="#000" stroke-width="0.3">NaHS</text>
<text x="636" y="1224.5" font-family='"Liberation Serif", serif' font-size="8.8" font-weight="bold" text-anchor="middle" fill="#000" textLength="17" lengthAdjust="spacingAndGlyphs" stroke="#000" stroke-width="0.3">TFR</text>
<line x1="425.5" y1="1229.5" x2="530" y2="1229.5" stroke="#111" stroke-width="1.8"/>
<line x1="540" y1="1229.5" x2="643.7" y2="1229.5" stroke="#111" stroke-width="1.8"/>
<text x="481.6" y="1242.5" font-family='"Liberation Serif", serif' font-size="13" font-weight="bold" text-anchor="middle" fill="#000" textLength="49.4" lengthAdjust="spacingAndGlyphs" stroke="#000" stroke-width="0.3">WT ECs</text>
<text x="591.85" y="1242.5" font-family='"Liberation Serif", serif' font-size="13" font-weight="bold" text-anchor="middle" fill="#000" textLength="95.5" lengthAdjust="spacingAndGlyphs" stroke="#000" stroke-width="0.3">3-MST KO ECs</text>
<text transform="translate(365,1135) rotate(-90)" x="0" y="0" font-family='"Liberation Serif", serif' font-size="13.8" font-weight="bold" text-anchor="middle" fill="#000" stroke="#000" stroke-width="0.3" textLength="133.7" lengthAdjust="spacingAndGlyphs">ROCK<tspan font-size="70%" dy="0.28em">2</tspan><tspan dy="-0.28em"> activity (IU/L)</tspan></text>
<rect x="74.3" y="286.8" width="230.9" height="2.4" fill="#9aa8c2"/>
<rect x="74.9" y="256.6" width="229.7" height="29.6" fill="#e6e6e6" stroke="#61759b" stroke-width="1.1"/>
<line x1="74.9" y1="256" x2="74.9" y2="286.8" stroke="#4d6690" stroke-width="1.3"/>
<line x1="304.6" y1="256" x2="304.6" y2="286.8" stroke="#4d6690" stroke-width="1.3"/>
<line x1="186.7" y1="257.2" x2="186.7" y2="285.6" stroke="#8a8a8a" stroke-width="0.8"/>
<rect x="74.9" y="289.8" width="229.7" height="29.9" fill="#e6e6e6" stroke="#61759b" stroke-width="1.1"/>
<line x1="74.9" y1="289.2" x2="74.9" y2="320.3" stroke="#4d6690" stroke-width="1.3"/>
<line x1="304.6" y1="289.2" x2="304.6" y2="320.3" stroke="#4d6690" stroke-width="1.3"/>
<line x1="186.7" y1="290.4" x2="186.7" y2="319.1" stroke="#8a8a8a" stroke-width="0.8"/>
<path d="M87.4 271.8Q87.4 270.66 92.98 270.66L100.42 270.66Q106 270.66 106 271.8Q106 272.94 100.42 272.94L92.98 272.94Q87.4 272.94 87.4 271.8Z" fill="#5a5a5a" filter="url(#bl)"/>
<path d="M113.6 271.8Q113.6 269.81 119.6 269.81L129 269.81Q135 269.81 135 271.8Q135 273.8 129 273.8L119.6 273.8Q113.6 273.8 113.6 271.8Z" fill="#0c0c0c" filter="url(#bl)"/>
<path d="M141 271.8Q141 270.47 146.31 270.47L153.39 270.47Q158.7 270.47 158.7 271.8Q158.7 273.13 153.39 273.13L146.31 273.13Q141 273.13 141 271.8Z" fill="#1e1e1e" filter="url(#bl)"/>
<path d="M165 271.8Q165 270.47 170.25 270.47L177.25 270.47Q182.5 270.47 182.5 271.8Q182.5 273.13 177.25 273.13L170.25 273.13Q165 273.13 165 271.8Z" fill="#3a3a3a" filter="url(#bl)"/>
<path d="M189.5 271.8Q189.5 270.56 195.26 270.56L202.94 270.56Q208.7 270.56 208.7 271.8Q208.7 273.04 202.94 273.04L195.26 273.04Q189.5 273.04 189.5 271.8Z" fill="#3a3a3a" filter="url(#bl)"/>
<path d="M216 271.8Q216 269.62 222 269.62L230 269.62Q236 269.62 236 271.8Q236 273.99 230 273.99L222 273.99Q216 273.99 216 271.8Z" fill="#0c0c0c" filter="url(#bl)"/>
<path d="M243 271.8Q243 270.19 248.85 270.19L256.65 270.19Q262.5 270.19 262.5 271.8Q262.5 273.42 256.65 273.42L248.85 273.42Q243 273.42 243 271.8Z" fill="#0c0c0c" filter="url(#bl)"/>
<path d="M269.5 271.8Q269.5 270.19 275.5 270.19L283.5 270.19Q289.5 270.19 289.5 271.8Q289.5 273.42 283.5 273.42L275.5 273.42Q269.5 273.42 269.5 271.8Z" fill="#0c0c0c" filter="url(#bl)"/>
<path d="M81 305.3Q81 303.21 86.7 303.21L94.3 303.21Q100 303.21 100 305.3Q100 307.39 94.3 307.39L86.7 307.39Q81 307.39 81 305.3Z" fill="#0c0c0c" filter="url(#bl)"/>
<path d="M109 305.3Q109 303.31 114.7 303.31L122.3 303.31Q128 303.31 128 305.3Q128 307.3 122.3 307.3L114.7 307.3Q109 307.3 109 305.3Z" fill="#0c0c0c" filter="url(#bl)"/>
<path d="M136.7 305.3Q136.7 303.31 142.49 303.31L150.21 303.31Q156 303.31 156 305.3Q156 307.3 150.21 307.3L142.49 307.3Q136.7 307.3 136.7 305.3Z" fill="#0c0c0c" filter="url(#bl)"/>
<path d="M165.5 305.3Q165.5 303.21 171.35 303.21L179.15 303.21Q185 303.21 185 305.3Q185 307.39 179.15 307.39L171.35 307.39Q165.5 307.39 165.5 305.3Z" fill="#0c0c0c" filter="url(#bl)"/>
<path d="M194 305.3Q194 303.21 199.55 303.21L206.95 303.21Q212.5 303.21 212.5 305.3Q212.5 307.39 206.95 307.39L199.55 307.39Q194 307.39 194 305.3Z" fill="#0c0c0c" filter="url(#bl)"/>
<path d="M222.5 305.3Q222.5 303.31 228.05 303.31L235.45 303.31Q241 303.31 241 305.3Q241 307.3 235.45 307.3L228.05 307.3Q222.5 307.3 222.5 305.3Z" fill="#0c0c0c" filter="url(#bl)"/>
<path d="M249.5 305.3Q249.5 303.31 255.35 303.31L263.15 303.31Q269 303.31 269 305.3Q269 307.3 263.15 307.3L255.35 307.3Q249.5 307.3 249.5 305.3Z" fill="#0c0c0c" filter="url(#bl)"/>
<path d="M278 305.3Q278 303.12 283.4 303.12L290.6 303.12Q296 303.12 296 305.3Q296 307.49 290.6 307.49L283.4 307.49Q278 307.49 278 305.3Z" fill="#0c0c0c" filter="url(#bl)"/>
<text x="52.35" y="275.47" font-family='"Liberation Serif", serif' font-size="12" font-weight="bold" text-anchor="middle" fill="#000" textLength="26.5" lengthAdjust="spacingAndGlyphs" stroke="#000" stroke-width="0.3">RhoA</text>
<text x="51.75" y="309.97" font-family='"Liberation Serif", serif' font-size="12" font-weight="bold" text-anchor="middle" fill="#000" textLength="30.7" lengthAdjust="spacingAndGlyphs" stroke="#000" stroke-width="0.3">β-actin</text>
<text x="326.5" y="275.97" font-family='"Liberation Serif", serif' font-size="12" font-weight="bold" text-anchor="middle" fill="#000" textLength="31.2" lengthAdjust="spacingAndGlyphs" stroke="#000" stroke-width="0.3">22 kDa</text>
<text x="326" y="308.47" font-family='"Liberation Serif", serif' font-size="12" font-weight="bold" text-anchor="middle" fill="#000" textLength="30.2" lengthAdjust="spacingAndGlyphs" stroke="#000" stroke-width="0.3">43 kDa</text>
<rect x="428" y="285.3" width="235.2" height="1.9" fill="#9aa8c2"/>
<rect x="428.6" y="255.1" width="234" height="29.6" fill="#e6e6e6" stroke="#61759b" stroke-width="1.1"/>
<line x1="428.6" y1="254.5" x2="428.6" y2="285.3" stroke="#4d6690" stroke-width="1.3"/>
<line x1="662.6" y1="254.5" x2="662.6" y2="285.3" stroke="#4d6690" stroke-width="1.3"/>
<line x1="542.5" y1="255.7" x2="542.5" y2="284.1" stroke="#8a8a8a" stroke-width="0.8"/>
<rect x="428.6" y="287.8" width="234" height="30.2" fill="#e6e6e6" stroke="#61759b" stroke-width="1.1"/>
<line x1="428.6" y1="287.2" x2="428.6" y2="318.6" stroke="#4d6690" stroke-width="1.3"/>
<line x1="662.6" y1="287.2" x2="662.6" y2="318.6" stroke="#4d6690" stroke-width="1.3"/>
<line x1="542.5" y1="288.4" x2="542.5" y2="317.4" stroke="#8a8a8a" stroke-width="0.8"/>
<path d="M438.5 270.5Q438.5 269.26 443.75 269.26L450.75 269.26Q456 269.26 456 270.5Q456 271.74 450.75 271.74L443.75 271.74Q438.5 271.74 438.5 270.5Z" fill="#1e1e1e" filter="url(#bl)"/>
<path d="M464.7 270.5Q464.7 268.69 470.34 268.69L477.86 268.69Q483.5 268.69 483.5 270.5Q483.5 272.31 477.86 272.31L470.34 272.31Q464.7 272.31 464.7 270.5Z" fill="#0c0c0c" filter="url(#bl)"/>
<path d="M493 270.5Q493 269.26 498.4 269.26L505.6 269.26Q511 269.26 511 270.5Q511 271.74 505.6 271.74L498.4 271.74Q493 271.74 493 270.5Z" fill="#1e1e1e" filter="url(#bl)"/>
<path d="M520.5 270.5Q520.5 269.36 525.45 269.36L532.05 269.36Q537 269.36 537 270.5Q537 271.64 532.05 271.64L525.45 271.64Q520.5 271.64 520.5 270.5Z" fill="#3a3a3a" filter="url(#bl)"/>
<path d="M546 270.5Q546 269.17 551.55 269.17L558.95 269.17Q564.5 269.17 564.5 270.5Q564.5 271.83 558.95 271.83L551.55 271.83Q546 271.83 546 270.5Z" fill="#1e1e1e" filter="url(#bl)"/>
<path d="M572.5 270.5Q572.5 268.79 578.05 268.79L585.45 268.79Q591 268.79 591 270.5Q591 272.21 585.45 272.21L578.05 272.21Q572.5 272.21 572.5 270.5Z" fill="#0c0c0c" filter="url(#bl)"/>
<path d="M600.7 270.5Q600.7 269.07 606.1 269.07L613.3 269.07Q618.7 269.07 618.7 270.5Q618.7 271.93 613.3 271.93L606.1 271.93Q600.7 271.93 600.7 270.5Z" fill="#1e1e1e" filter="url(#bl)"/>
<path d="M628.7 270.5Q628.7 268.88 634.7 268.88L642.7 268.88Q648.7 268.88 648.7 270.5Q648.7 272.12 642.7 272.12L634.7 272.12Q628.7 272.12 628.7 270.5Z" fill="#0c0c0c" filter="url(#bl)"/>
<path d="M437 304Q437 301.91 443 301.91L452.5 301.91Q458.5 301.91 458.5 304Q458.5 306.09 452.5 306.09L443 306.09Q437 306.09 437 304Z" fill="#0c0c0c" filter="url(#bl)"/>
<path d="M464.7 304Q464.7 301.91 470.7 301.91L478.7 301.91Q484.7 301.91 484.7 304Q484.7 306.09 478.7 306.09L470.7 306.09Q464.7 306.09 464.7 304Z" fill="#0c0c0c" filter="url(#bl)"/>
<path d="M491.7 304Q491.7 301.91 497.7 301.91L505.7 301.91Q511.7 301.91 511.7 304Q511.7 306.09 505.7 306.09L497.7 306.09Q491.7 306.09 491.7 304Z" fill="#0c0c0c" filter="url(#bl)"/>
<path d="M519.7 304Q519.7 301.91 525.49 301.91L533.21 301.91Q539 301.91 539 304Q539 306.09 533.21 306.09L525.49 306.09Q519.7 306.09 519.7 304Z" fill="#0c0c0c" filter="url(#bl)"/>
<path d="M547 304Q547 302 553 302L561 302Q567 302 567 304Q567 306 561 306L553 306Q547 306 547 304Z" fill="#0c0c0c" filter="url(#bl)"/>
<path d="M574.5 304Q574.5 302 580.5 302L589.5 302Q595.5 302 595.5 304Q595.5 306 589.5 306L580.5 306Q574.5 306 574.5 304Z" fill="#0c0c0c" filter="url(#bl)"/>
<path d="M603 304Q603 302 609 302L618.5 302Q624.5 302 624.5 304Q624.5 306 618.5 306L609 306Q603 306 603 304Z" fill="#0c0c0c" filter="url(#bl)"/>
<path d="M631 304Q631 301.91 637 301.91L645.7 301.91Q651.7 301.91 651.7 304Q651.7 306.09 645.7 306.09L637 306.09Q631 306.09 631 304Z" fill="#0c0c0c" filter="url(#bl)"/>
<text x="405.85" y="276.47" font-family='"Liberation Serif", serif' font-size="12" font-weight="bold" text-anchor="middle" fill="#000" textLength="26.9" lengthAdjust="spacingAndGlyphs" stroke="#000" stroke-width="0.3">RhoA</text>
<text x="407" y="304.97" font-family='"Liberation Serif", serif' font-size="12" font-weight="bold" text-anchor="middle" fill="#000" textLength="32.2" lengthAdjust="spacingAndGlyphs" stroke="#000" stroke-width="0.3">β-actin</text>
<text x="686.5" y="272.67" font-family='"Liberation Serif", serif' font-size="12" font-weight="bold" text-anchor="middle" fill="#000" textLength="32.2" lengthAdjust="spacingAndGlyphs" stroke="#000" stroke-width="0.3">22 kDa</text>
<text x="686.5" y="305.97" font-family='"Liberation Serif", serif' font-size="12" font-weight="bold" text-anchor="middle" fill="#000" textLength="32.2" lengthAdjust="spacingAndGlyphs" stroke="#000" stroke-width="0.3">43 kDa</text>
<rect x="80.3" y="786.8" width="226.5" height="1.2" fill="#9aa8c2"/>
<rect x="80.9" y="756.4" width="225.3" height="29.8" fill="#e6e6e6" stroke="#61759b" stroke-width="1.1"/>
<line x1="80.9" y1="755.8" x2="80.9" y2="786.8" stroke="#4d6690" stroke-width="1.3"/>
<line x1="306.2" y1="755.8" x2="306.2" y2="786.8" stroke="#4d6690" stroke-width="1.3"/>
<line x1="193.7" y1="757" x2="193.7" y2="785.6" stroke="#8a8a8a" stroke-width="0.8"/>
<rect x="80.9" y="788.6" width="225.3" height="30.4" fill="#e6e6e6" stroke="#61759b" stroke-width="1.1"/>
<line x1="80.9" y1="788" x2="80.9" y2="819.6" stroke="#4d6690" stroke-width="1.3"/>
<line x1="306.2" y1="788" x2="306.2" y2="819.6" stroke="#4d6690" stroke-width="1.3"/>
<line x1="193.7" y1="789.2" x2="193.7" y2="818.4" stroke="#8a8a8a" stroke-width="0.8"/>
<path d="M88.7 772.8Q88.7 771.78 93.89 771.78L100.81 771.78Q106 771.78 106 772.8Q106 773.82 100.81 773.82L93.89 773.82Q88.7 773.82 88.7 772.8Z" fill="#3a3a3a" filter="url(#bl)"/>
<path d="M117 772.8Q117 771.52 122.4 771.52L129.6 771.52Q135 771.52 135 772.8Q135 774.07 129.6 774.07L122.4 774.07Q117 774.07 117 772.8Z" fill="#1e1e1e" filter="url(#bl)"/>
<path d="M145 772.8Q145 771.61 150.1 771.61L156.9 771.61Q162 771.61 162 772.8Q162 773.99 156.9 773.99L150.1 773.99Q145 773.99 145 772.8Z" fill="#1e1e1e" filter="url(#bl)"/>
<path d="M172.5 772.8Q172.5 771.69 177.36 771.69L183.84 771.69Q188.7 771.69 188.7 772.8Q188.7 773.9 183.84 773.9L177.36 773.9Q172.5 773.9 172.5 772.8Z" fill="#3a3a3a" filter="url(#bl)"/>
<path d="M197 772.8Q197 771.69 202.7 771.69L210.3 771.69Q216 771.69 216 772.8Q216 773.9 210.3 773.9L202.7 773.9Q197 773.9 197 772.8Z" fill="#5a5a5a" filter="url(#bl)"/>
<path d="M225 772.8Q225 771.35 230.25 771.35L237.25 771.35Q242.5 771.35 242.5 772.8Q242.5 774.25 237.25 774.25L230.25 774.25Q225 774.25 225 772.8Z" fill="#0c0c0c" filter="url(#bl)"/>
<path d="M252.5 772.8Q252.5 771.52 258.05 771.52L265.45 771.52Q271 771.52 271 772.8Q271 774.07 265.45 774.07L258.05 774.07Q252.5 774.07 252.5 772.8Z" fill="#1e1e1e" filter="url(#bl)"/>
<path d="M280 772.8Q280 771.35 285.85 771.35L293.65 771.35Q299.5 771.35 299.5 772.8Q299.5 774.25 293.65 774.25L285.85 774.25Q280 774.25 280 772.8Z" fill="#0c0c0c" filter="url(#bl)"/>
<path d="M88.7 806Q88.7 803.9 94.7 803.9L102.7 803.9Q108.7 803.9 108.7 806Q108.7 808.1 102.7 808.1L94.7 808.1Q88.7 808.1 88.7 806Z" fill="#0c0c0c" filter="url(#bl)"/>
<path d="M117 806Q117 804 122.7 804L130.3 804Q136 804 136 806Q136 808 130.3 808L122.7 808Q117 808 117 806Z" fill="#0c0c0c" filter="url(#bl)"/>
<path d="M143.7 806Q143.7 804 149.34 804L156.86 804Q162.5 804 162.5 806Q162.5 808 156.86 808L149.34 808Q143.7 808 143.7 806Z" fill="#0c0c0c" filter="url(#bl)"/>
<path d="M170.7 806Q170.7 804 175.89 804L182.81 804Q188 804 188 806Q188 808 182.81 808L175.89 808Q170.7 808 170.7 806Z" fill="#0c0c0c" filter="url(#bl)"/>
<path d="M195 806Q195 803.9 201 803.9L211 803.9Q217 803.9 217 806Q217 808.1 211 808.1L201 808.1Q195 808.1 195 806Z" fill="#0c0c0c" filter="url(#bl)"/>
<path d="M223 806Q223 803.9 229 803.9L237.7 803.9Q243.7 803.9 243.7 806Q243.7 808.1 237.7 808.1L229 808.1Q223 808.1 223 806Z" fill="#0c0c0c" filter="url(#bl)"/>
<path d="M251 806Q251 804 257 804L266.5 804Q272.5 804 272.5 806Q272.5 808 266.5 808L257 808Q251 808 251 806Z" fill="#0c0c0c" filter="url(#bl)"/>
<path d="M279.5 806Q279.5 803.8 285.5 803.8L294 803.8Q300 803.8 300 806Q300 808.2 294 808.2L285.5 808.2Q279.5 808.2 279.5 806Z" fill="#0c0c0c" filter="url(#bl)"/>
<text x="56.85" y="780.47" font-family='"Liberation Serif", serif' font-size="12" font-weight="bold" text-anchor="middle" fill="#000" textLength="35.5" lengthAdjust="spacingAndGlyphs" stroke="#000" stroke-width="0.3">ROCK<tspan font-size="70%" dy="0.28em">2</tspan></text>
<text x="58" y="811.47" font-family='"Liberation Serif", serif' font-size="12" font-weight="bold" text-anchor="middle" fill="#000" textLength="31.2" lengthAdjust="spacingAndGlyphs" stroke="#000" stroke-width="0.3">β-actin</text>
<text x="331" y="776.47" font-family='"Liberation Serif", serif' font-size="12" font-weight="bold" text-anchor="middle" fill="#000" textLength="36.2" lengthAdjust="spacingAndGlyphs" stroke="#000" stroke-width="0.3">161 kDa</text>
<text x="329" y="807.47" font-family='"Liberation Serif", serif' font-size="12" font-weight="bold" text-anchor="middle" fill="#000" textLength="31.2" lengthAdjust="spacingAndGlyphs" stroke="#000" stroke-width="0.3">43 kDa</text>
<rect x="426" y="789.5" width="227.8" height="1.3" fill="#9aa8c2"/>
<rect x="426.6" y="759.2" width="226.6" height="29.7" fill="#e6e6e6" stroke="#61759b" stroke-width="1.1"/>
<line x1="426.6" y1="758.6" x2="426.6" y2="789.5" stroke="#4d6690" stroke-width="1.3"/>
<line x1="653.2" y1="758.6" x2="653.2" y2="789.5" stroke="#4d6690" stroke-width="1.3"/>
<line x1="538.7" y1="759.8" x2="538.7" y2="788.3" stroke="#8a8a8a" stroke-width="0.8"/>
<rect x="426.6" y="791.4" width="226.6" height="30.6" fill="#e6e6e6" stroke="#61759b" stroke-width="1.1"/>
<line x1="426.6" y1="790.8" x2="426.6" y2="822.6" stroke="#4d6690" stroke-width="1.3"/>
<line x1="653.2" y1="790.8" x2="653.2" y2="822.6" stroke="#4d6690" stroke-width="1.3"/>
<line x1="538.7" y1="792" x2="538.7" y2="821.4" stroke="#8a8a8a" stroke-width="0.8"/>
<path d="M438 774.8Q438 773.44 443.55 773.44L450.95 773.44Q456.5 773.44 456.5 774.8Q456.5 776.16 450.95 776.16L443.55 776.16Q438 776.16 438 774.8Z" fill="#0c0c0c" filter="url(#bl)"/>
<path d="M464 774.8Q464 773.44 470 773.44L478.7 773.44Q484.7 773.44 484.7 774.8Q484.7 776.16 478.7 776.16L470 776.16Q464 776.16 464 774.8Z" fill="#0c0c0c" filter="url(#bl)"/>
<path d="M492 774.8Q492 773.52 497.7 773.52L505.3 773.52Q511 773.52 511 774.8Q511 776.07 505.3 776.07L497.7 776.07Q492 776.07 492 774.8Z" fill="#0c0c0c" filter="url(#bl)"/>
<path d="M517 774.8Q517 773.61 522.55 773.61L529.95 773.61Q535.5 773.61 535.5 774.8Q535.5 775.99 529.95 775.99L522.55 775.99Q517 775.99 517 774.8Z" fill="#1e1e1e" filter="url(#bl)"/>
<path d="M542.5 774.8Q542.5 773.52 548.35 773.52L556.15 773.52Q562 773.52 562 774.8Q562 776.07 556.15 776.07L548.35 776.07Q542.5 776.07 542.5 774.8Z" fill="#0c0c0c" filter="url(#bl)"/>
<path d="M570.5 774.8Q570.5 773.44 576.5 773.44L584.5 773.44Q590.5 773.44 590.5 774.8Q590.5 776.16 584.5 776.16L576.5 776.16Q570.5 776.16 570.5 774.8Z" fill="#0c0c0c" filter="url(#bl)"/>
<path d="M597.5 774.8Q597.5 773.52 602.9 773.52L610.1 773.52Q615.5 773.52 615.5 774.8Q615.5 776.07 610.1 776.07L602.9 776.07Q597.5 776.07 597.5 774.8Z" fill="#0c0c0c" filter="url(#bl)"/>
<path d="M623 774.8Q623 773.52 628.4 773.52L635.6 773.52Q641 773.52 641 774.8Q641 776.07 635.6 776.07L628.4 776.07Q623 776.07 623 774.8Z" fill="#0c0c0c" filter="url(#bl)"/>
<path d="M433.5 808.7Q433.5 806.6 439.5 806.6L448.7 806.6Q454.7 806.6 454.7 808.7Q454.7 810.8 448.7 810.8L439.5 810.8Q433.5 810.8 433.5 808.7Z" fill="#0c0c0c" filter="url(#bl)"/>
<path d="M462 808.7Q462 806.6 468 806.6L477.5 806.6Q483.5 806.6 483.5 808.7Q483.5 810.8 477.5 810.8L468 810.8Q462 810.8 462 808.7Z" fill="#0c0c0c" filter="url(#bl)"/>
<path d="M490.5 808.7Q490.5 806.7 496.26 806.7L503.94 806.7Q509.7 806.7 509.7 808.7Q509.7 810.7 503.94 810.7L496.26 810.7Q490.5 810.7 490.5 808.7Z" fill="#0c0c0c" filter="url(#bl)"/>
<path d="M516.7 808.7Q516.7 806.6 522.7 806.6L531 806.6Q537 806.6 537 808.7Q537 810.8 531 810.8L522.7 810.8Q516.7 810.8 516.7 808.7Z" fill="#0c0c0c" filter="url(#bl)"/>
<path d="M541 808.7Q541 806.6 547 806.6L556.5 806.6Q562.5 806.6 562.5 808.7Q562.5 810.8 556.5 810.8L547 810.8Q541 810.8 541 808.7Z" fill="#0c0c0c" filter="url(#bl)"/>
<path d="M569.5 808.7Q569.5 806.7 575.5 806.7L585 806.7Q591 806.7 591 808.7Q591 810.7 585 810.7L575.5 810.7Q569.5 810.7 569.5 808.7Z" fill="#0c0c0c" filter="url(#bl)"/>
<path d="M596 808.7Q596 806.7 602 806.7L611.5 806.7Q617.5 806.7 617.5 808.7Q617.5 810.7 611.5 810.7L602 810.7Q596 810.7 596 808.7Z" fill="#0c0c0c" filter="url(#bl)"/>
<path d="M622.5 808.7Q622.5 806.6 628.5 806.6L637.7 806.6Q643.7 806.6 643.7 808.7Q643.7 810.8 637.7 810.8L628.5 810.8Q622.5 810.8 622.5 808.7Z" fill="#0c0c0c" filter="url(#bl)"/>
<text x="399" y="781.47" font-family='"Liberation Serif", serif' font-size="12" font-weight="bold" text-anchor="middle" fill="#000" textLength="35.2" lengthAdjust="spacingAndGlyphs" stroke="#000" stroke-width="0.3">ROCK<tspan font-size="70%" dy="0.28em">2</tspan></text>
<text x="400.85" y="813.97" font-family='"Liberation Serif", serif' font-size="12" font-weight="bold" text-anchor="middle" fill="#000" textLength="31.5" lengthAdjust="spacingAndGlyphs" stroke="#000" stroke-width="0.3">β-actin</text>
<text x="678.5" y="782.67" font-family='"Liberation Serif", serif' font-size="12" font-weight="bold" text-anchor="middle" fill="#000" textLength="37.2" lengthAdjust="spacingAndGlyphs" stroke="#000" stroke-width="0.3">161 kDa</text>
<text x="677.1" y="812.67" font-family='"Liberation Serif", serif' font-size="12" font-weight="bold" text-anchor="middle" fill="#000" textLength="32.4" lengthAdjust="spacingAndGlyphs" stroke="#000" stroke-width="0.3">43 kDa</text>
<line x1="57" y1="1289.9" x2="57" y2="1456.7" stroke="#000" stroke-width="2"/>
<line x1="50" y1="1455.7" x2="57" y2="1455.7" stroke="#000" stroke-width="1.7"/>
<text x="47" y="1460.5" font-family='"Liberation Sans", sans-serif' font-size="12.3" font-weight="bold" text-anchor="end" fill="#000" stroke="#000" stroke-width="0.15">0</text>
<line x1="50" y1="1414.45" x2="57" y2="1414.45" stroke="#000" stroke-width="1.7"/>
<text x="47" y="1419.25" font-family='"Liberation Sans", sans-serif' font-size="12.3" font-weight="bold" text-anchor="end" fill="#000" stroke="#000" stroke-width="0.15">5</text>
<line x1="50" y1="1373.2" x2="57" y2="1373.2" stroke="#000" stroke-width="1.7"/>
<text x="47" y="1378" font-family='"Liberation Sans", sans-serif' font-size="12.3" font-weight="bold" text-anchor="end" fill="#000" stroke="#000" stroke-width="0.15">10</text>
<line x1="50" y1="1331.95" x2="57" y2="1331.95" stroke="#000" stroke-width="1.7"/>
<text x="47" y="1336.75" font-family='"Liberation Sans", sans-serif' font-size="12.3" font-weight="bold" text-anchor="end" fill="#000" stroke="#000" stroke-width="0.15">15</text>
<line x1="50" y1="1290.7" x2="57" y2="1290.7" stroke="#000" stroke-width="1.7"/>
<text x="47" y="1295.5" font-family='"Liberation Sans", sans-serif' font-size="12.3" font-weight="bold" text-anchor="end" fill="#000" stroke="#000" stroke-width="0.15">20</text>
<line x1="101" y1="1344.33" x2="101" y2="1388.88" stroke="#A8452A" stroke-width="1.3"/>
<line x1="95" y1="1344.33" x2="107" y2="1344.33" stroke="#A8452A" stroke-width="1.3"/>
<line x1="95" y1="1388.88" x2="107" y2="1388.88" stroke="#A8452A" stroke-width="1.3"/>
<circle cx="101" cy="1334.42" r="3.6" fill="#C4562F" stroke="#B04A25" stroke-width="0.6"/>
<circle cx="101" cy="1344.33" r="3.6" fill="#C4562F" stroke="#B04A25" stroke-width="0.6"/>
<circle cx="91.8" cy="1368.25" r="3.6" fill="#C4562F" stroke="#B04A25" stroke-width="0.6"/>
<circle cx="110.2" cy="1372.38" r="3.6" fill="#C4562F" stroke="#B04A25" stroke-width="0.6"/>
<circle cx="91.8" cy="1388.05" r="3.6" fill="#C4562F" stroke="#B04A25" stroke-width="0.6"/>
<circle cx="110.2" cy="1388.05" r="3.6" fill="#C4562F" stroke="#B04A25" stroke-width="0.6"/>
<line x1="89.5" y1="1366.6" x2="112.5" y2="1366.6" stroke="#8B2A12" stroke-width="2"/>
<line x1="140" y1="1395.48" x2="140" y2="1430.12" stroke="#9A2A5A" stroke-width="1.3"/>
<line x1="134" y1="1395.48" x2="146" y2="1395.48" stroke="#9A2A5A" stroke-width="1.3"/>
<line x1="134" y1="1430.12" x2="146" y2="1430.12" stroke="#9A2A5A" stroke-width="1.3"/>
<rect x="126.65" y="1389.65" width="6.7" height="6.7" fill="#B8336A" stroke="#A02858" stroke-width="0.6"/>
<rect x="136.65" y="1386.35" width="6.7" height="6.7" fill="#B8336A" stroke="#A02858" stroke-width="0.6"/>
<rect x="145.65" y="1413.58" width="6.7" height="6.7" fill="#B8336A" stroke="#A02858" stroke-width="0.6"/>
<rect x="136.65" y="1419.35" width="6.7" height="6.7" fill="#B8336A" stroke="#A02858" stroke-width="0.6"/>
<rect x="145.65" y="1421.83" width="6.7" height="6.7" fill="#B8336A" stroke="#A02858" stroke-width="0.6"/>
<rect x="126.65" y="1427.6" width="6.7" height="6.7" fill="#B8336A" stroke="#A02858" stroke-width="0.6"/>
<line x1="128.5" y1="1412.8" x2="151.5" y2="1412.8" stroke="#6A1035" stroke-width="2"/>
<text x="140" y="1382.25" font-family='"Liberation Serif", serif' font-size="12.5" font-weight="bold" text-anchor="middle" fill="#111" stroke="#111" stroke-width="0.3">$$</text>
<line x1="205.5" y1="1341.85" x2="205.5" y2="1385.58" stroke="#4D7A28" stroke-width="1.3"/>
<line x1="199.5" y1="1341.85" x2="211.5" y2="1341.85" stroke="#4D7A28" stroke-width="1.3"/>
<line x1="199.5" y1="1385.58" x2="211.5" y2="1385.58" stroke="#4D7A28" stroke-width="1.3"/>
<path d="M205.5 1325.95L209.03 1332.3L201.97 1332.3Z" fill="#4D7A28" stroke="#436E20" stroke-width="0.6" stroke-linejoin="round"/>
<path d="M205.5 1348.22L209.03 1354.57L201.97 1354.57Z" fill="#4D7A28" stroke="#436E20" stroke-width="0.6" stroke-linejoin="round"/>
<path d="M195.7 1356.47L199.23 1362.82L192.17 1362.82Z" fill="#4D7A28" stroke="#436E20" stroke-width="0.6" stroke-linejoin="round"/>
<path d="M205.5 1363.9L209.03 1370.25L201.97 1370.25Z" fill="#4D7A28" stroke="#436E20" stroke-width="0.6" stroke-linejoin="round"/>
<path d="M196 1383.7L199.53 1390.05L192.47 1390.05Z" fill="#4D7A28" stroke="#436E20" stroke-width="0.6" stroke-linejoin="round"/>
<path d="M214.5 1383.7L218.03 1390.05L210.97 1390.05Z" fill="#4D7A28" stroke="#436E20" stroke-width="0.6" stroke-linejoin="round"/>
<line x1="194" y1="1363.3" x2="217" y2="1363.3" stroke="#2A4A15" stroke-width="2"/>
<line x1="243.7" y1="1386.4" x2="243.7" y2="1397.95" stroke="#168270" stroke-width="1.3"/>
<line x1="237.7" y1="1386.4" x2="249.7" y2="1386.4" stroke="#168270" stroke-width="1.3"/>
<line x1="237.7" y1="1397.95" x2="249.7" y2="1397.95" stroke="#168270" stroke-width="1.3"/>
<path d="M234.3 1387.45L237.83 1381.1L230.77 1381.1Z" fill="#14806B" stroke="#0F705E" stroke-width="0.6" stroke-linejoin="round"/>
<path d="M243.5 1388.28L247.03 1381.93L239.97 1381.93Z" fill="#14806B" stroke="#0F705E" stroke-width="0.6" stroke-linejoin="round"/>
<path d="M252.2 1389.93L255.73 1383.58L248.67 1383.58Z" fill="#14806B" stroke="#0F705E" stroke-width="0.6" stroke-linejoin="round"/>
<path d="M243.5 1397.35L247.03 1391L239.97 1391Z" fill="#14806B" stroke="#0F705E" stroke-width="0.6" stroke-linejoin="round"/>
<path d="M252.2 1398.18L255.73 1391.83L248.67 1391.83Z" fill="#14806B" stroke="#0F705E" stroke-width="0.6" stroke-linejoin="round"/>
<path d="M234.7 1403.54L238.23 1397.19L231.17 1397.19Z" fill="#14806B" stroke="#0F705E" stroke-width="0.6" stroke-linejoin="round"/>
<line x1="232.2" y1="1392.17" x2="255.2" y2="1392.17" stroke="#0E4A40" stroke-width="2"/>
<text x="243.7" y="1378.25" font-family='"Liberation Serif", serif' font-size="12.5" font-weight="bold" text-anchor="middle" fill="#111" stroke="#111" stroke-width="0.3">$</text>
<line x1="85.3" y1="1455.7" x2="110.5" y2="1455.7" stroke="#606060" stroke-width="1.5"/>
<line x1="125.5" y1="1455.7" x2="151.4" y2="1455.7" stroke="#606060" stroke-width="1.5"/>
<line x1="189.5" y1="1455.7" x2="215.5" y2="1455.7" stroke="#606060" stroke-width="1.5"/>
<line x1="229.5" y1="1455.7" x2="255.5" y2="1455.7" stroke="#606060" stroke-width="1.5"/>
<text x="99.5" y="1468" font-family='"Liberation Serif", serif' font-size="8.3" font-weight="bold" text-anchor="middle" fill="#000" textLength="14.4" lengthAdjust="spacingAndGlyphs" stroke="#000" stroke-width="0.3">WT</text>
<text x="140.5" y="1468" font-family='"Liberation Serif", serif' font-size="8.3" font-weight="bold" text-anchor="middle" fill="#000" textLength="34.4" lengthAdjust="spacingAndGlyphs" stroke="#000" stroke-width="0.3">CSE KO</text>
<text x="204.25" y="1469" font-family='"Liberation Serif", serif' font-size="8.3" font-weight="bold" text-anchor="middle" fill="#000" textLength="12.9" lengthAdjust="spacingAndGlyphs" stroke="#000" stroke-width="0.3">WT</text>
<text x="244.75" y="1469" font-family='"Liberation Serif", serif' font-size="8.3" font-weight="bold" text-anchor="middle" fill="#000" textLength="43.9" lengthAdjust="spacingAndGlyphs" stroke="#000" stroke-width="0.3">3-MST KO</text>
<line x1="72.3" y1="1473" x2="168.3" y2="1473" stroke="#111" stroke-width="1.8"/>
<line x1="177" y1="1473" x2="273" y2="1473" stroke="#111" stroke-width="1.8"/>
<text x="120.25" y="1487.5" font-family='"Liberation Serif", serif' font-size="14" font-weight="bold" text-anchor="middle" fill="#000" textLength="22.9" lengthAdjust="spacingAndGlyphs" stroke="#000" stroke-width="0.3">ECs</text>
<text x="225" y="1487.5" font-family='"Liberation Serif", serif' font-size="14" font-weight="bold" text-anchor="middle" fill="#000" textLength="23.4" lengthAdjust="spacingAndGlyphs" stroke="#000" stroke-width="0.3">ECs</text>
<text transform="translate(19,1379) rotate(-90)" x="0" y="0" font-family='"Liberation Serif", serif' font-size="13.6" font-weight="bold" text-anchor="middle" fill="#000" stroke="#000" stroke-width="0.3" textLength="199" lengthAdjust="spacingAndGlyphs">TFR-increased H<tspan font-size="70%" dy="0.28em">2</tspan><tspan dy="-0.28em">S level (μmol/L)</tspan></text>
<circle cx="74" cy="1261" r="3.4" fill="#C4562F" stroke="#B04A25" stroke-width="0.4"/>
<text x="97" y="1263.52" font-family='"Liberation Serif", serif' font-size="7.6" font-weight="bold" text-anchor="middle" fill="#000" textLength="27.5" lengthAdjust="spacingAndGlyphs" stroke="#000" stroke-width="0.3">WT ECs</text>
<rect x="70.84" y="1269.34" width="6.32" height="6.32" fill="#B8336A" stroke="#A02858" stroke-width="0.4"/>
<text x="105" y="1275.02" font-family='"Liberation Serif", serif' font-size="7.6" font-weight="bold" text-anchor="middle" fill="#000" textLength="43.5" lengthAdjust="spacingAndGlyphs" stroke="#000" stroke-width="0.3">CSE KO ECs</text>
<path d="M157.5 1257.67L160.83 1263.67L154.17 1263.67Z" fill="#4D7A28" stroke="#436E20" stroke-width="0.4" stroke-linejoin="round"/>
<text x="181" y="1263.52" font-family='"Liberation Serif", serif' font-size="7.6" font-weight="bold" text-anchor="middle" fill="#000" textLength="27.5" lengthAdjust="spacingAndGlyphs" stroke="#000" stroke-width="0.3">WT ECs</text>
<path d="M157.5 1274.83L160.83 1268.83L154.17 1268.83Z" fill="#14806B" stroke="#0F705E" stroke-width="0.4" stroke-linejoin="round"/>
<text x="192.85" y="1274.02" font-family='"Liberation Serif", serif' font-size="7.6" font-weight="bold" text-anchor="middle" fill="#000" textLength="51.2" lengthAdjust="spacingAndGlyphs" stroke="#000" stroke-width="0.3">3-MST KO ECs</text>
<line x1="400.8" y1="1304.4" x2="400.8" y2="1456.8" stroke="#000" stroke-width="2"/>
<line x1="393.8" y1="1455.8" x2="400.8" y2="1455.8" stroke="#000" stroke-width="1.7"/>
<text x="392" y="1460.6" font-family='"Liberation Sans", sans-serif' font-size="12.3" font-weight="bold" text-anchor="end" fill="#000" textLength="16.4" lengthAdjust="spacingAndGlyphs" stroke="#000" stroke-width="0.15">0.0</text>
<line x1="393.8" y1="1405.6" x2="400.8" y2="1405.6" stroke="#000" stroke-width="1.7"/>
<text x="392" y="1410.4" font-family='"Liberation Sans", sans-serif' font-size="12.3" font-weight="bold" text-anchor="end" fill="#000" textLength="16.4" lengthAdjust="spacingAndGlyphs" stroke="#000" stroke-width="0.15">0.2</text>
<line x1="393.8" y1="1355.4" x2="400.8" y2="1355.4" stroke="#000" stroke-width="1.7"/>
<text x="392" y="1360.2" font-family='"Liberation Sans", sans-serif' font-size="12.3" font-weight="bold" text-anchor="end" fill="#000" textLength="16.4" lengthAdjust="spacingAndGlyphs" stroke="#000" stroke-width="0.15">0.4</text>
<line x1="393.8" y1="1305.2" x2="400.8" y2="1305.2" stroke="#000" stroke-width="1.7"/>
<text x="392" y="1310" font-family='"Liberation Sans", sans-serif' font-size="12.3" font-weight="bold" text-anchor="end" fill="#000" textLength="16.4" lengthAdjust="spacingAndGlyphs" stroke="#000" stroke-width="0.15">0.6</text>
<line x1="441" y1="1401.84" x2="441" y2="1408.11" stroke="#A8452A" stroke-width="1.3"/>
<line x1="435" y1="1401.84" x2="447" y2="1401.84" stroke="#A8452A" stroke-width="1.3"/>
<line x1="435" y1="1408.11" x2="447" y2="1408.11" stroke="#A8452A" stroke-width="1.3"/>
<circle cx="441.2" cy="1400.08" r="3.6" fill="#C4562F" stroke="#B04A25" stroke-width="0.6"/>
<circle cx="449.5" cy="1403.09" r="3.6" fill="#C4562F" stroke="#B04A25" stroke-width="0.6"/>
<circle cx="432.5" cy="1407.61" r="3.6" fill="#C4562F" stroke="#B04A25" stroke-width="0.6"/>
<line x1="429.5" y1="1404.35" x2="452.5" y2="1404.35" stroke="#8B2A12" stroke-width="2"/>
<line x1="477.5" y1="1411.88" x2="477.5" y2="1421.91" stroke="#9A2A5A" stroke-width="1.3"/>
<line x1="471.5" y1="1411.88" x2="483.5" y2="1411.88" stroke="#9A2A5A" stroke-width="1.3"/>
<line x1="471.5" y1="1421.91" x2="483.5" y2="1421.91" stroke="#9A2A5A" stroke-width="1.3"/>
<rect x="481.15" y="1409.78" width="6.7" height="6.7" fill="#B8336A" stroke="#A02858" stroke-width="0.6"/>
<rect x="472.85" y="1413.05" width="6.7" height="6.7" fill="#B8336A" stroke="#A02858" stroke-width="0.6"/>
<rect x="472.85" y="1420.58" width="6.7" height="6.7" fill="#B8336A" stroke="#A02858" stroke-width="0.6"/>
<line x1="466" y1="1416.89" x2="489" y2="1416.89" stroke="#6A1035" stroke-width="2"/>
<text x="477.5" y="1404.25" font-family='"Liberation Serif", serif' font-size="12.5" font-weight="bold" text-anchor="middle" fill="#111" stroke="#111" stroke-width="0.3">$</text>
<line x1="510.7" y1="1322.77" x2="510.7" y2="1362.93" stroke="#4D7A28" stroke-width="1.3"/>
<line x1="504.7" y1="1322.77" x2="516.7" y2="1322.77" stroke="#4D7A28" stroke-width="1.3"/>
<line x1="504.7" y1="1362.93" x2="516.7" y2="1362.93" stroke="#4D7A28" stroke-width="1.3"/>
<path d="M510.7 1319.24L514.23 1325.59L507.17 1325.59Z" fill="#4D7A28" stroke="#436E20" stroke-width="0.6" stroke-linejoin="round"/>
<path d="M510.7 1341.83L514.23 1348.18L507.17 1348.18Z" fill="#4D7A28" stroke="#436E20" stroke-width="0.6" stroke-linejoin="round"/>
<path d="M510.7 1359.4L514.23 1365.75L507.17 1365.75Z" fill="#4D7A28" stroke="#436E20" stroke-width="0.6" stroke-linejoin="round"/>
<line x1="499.2" y1="1343.1" x2="522.2" y2="1343.1" stroke="#1d2a12" stroke-width="2"/>
<line x1="545.7" y1="1393.05" x2="545.7" y2="1433.96" stroke="#168270" stroke-width="1.3"/>
<line x1="539.7" y1="1393.05" x2="551.7" y2="1393.05" stroke="#168270" stroke-width="1.3"/>
<line x1="539.7" y1="1433.96" x2="551.7" y2="1433.96" stroke="#168270" stroke-width="1.3"/>
<path d="M545.7 1397.58L549.23 1391.23L542.17 1391.23Z" fill="#14806B" stroke="#0F705E" stroke-width="0.6" stroke-linejoin="round"/>
<path d="M545.7 1409.63L549.23 1403.28L542.17 1403.28Z" fill="#14806B" stroke="#0F705E" stroke-width="0.6" stroke-linejoin="round"/>
<path d="M545.7 1438.24L549.23 1431.89L542.17 1431.89Z" fill="#14806B" stroke="#0F705E" stroke-width="0.6" stroke-linejoin="round"/>
<line x1="534.2" y1="1413.13" x2="557.2" y2="1413.13" stroke="#0E4A40" stroke-width="2"/>
<text x="545.7" y="1388.25" font-family='"Liberation Serif", serif' font-size="12.5" font-weight="bold" text-anchor="middle" fill="#111" stroke="#111" stroke-width="0.3">$</text>
<line x1="427.5" y1="1455.8" x2="452.5" y2="1455.8" stroke="#606060" stroke-width="1.5"/>
<line x1="462.5" y1="1455.8" x2="488.7" y2="1455.8" stroke="#606060" stroke-width="1.5"/>
<line x1="497" y1="1455.8" x2="522.5" y2="1455.8" stroke="#606060" stroke-width="1.5"/>
<line x1="531" y1="1455.8" x2="557" y2="1455.8" stroke="#606060" stroke-width="1.5"/>
<text x="441.6" y="1467.5" font-family='"Liberation Serif", serif' font-size="8.3" font-weight="bold" text-anchor="middle" fill="#000" textLength="13.6" lengthAdjust="spacingAndGlyphs" stroke="#000" stroke-width="0.3">WT</text>
<text x="475.6" y="1467.5" font-family='"Liberation Serif", serif' font-size="8.3" font-weight="bold" text-anchor="middle" fill="#000" textLength="33.2" lengthAdjust="spacingAndGlyphs" stroke="#000" stroke-width="0.3">CSE KO</text>
<text x="509" y="1467.5" font-family='"Liberation Serif", serif' font-size="8.3" font-weight="bold" text-anchor="middle" fill="#000" textLength="13.4" lengthAdjust="spacingAndGlyphs" stroke="#000" stroke-width="0.3">WT</text>
<text x="545.5" y="1467.5" font-family='"Liberation Serif", serif' font-size="8.3" font-weight="bold" text-anchor="middle" fill="#000" textLength="44.4" lengthAdjust="spacingAndGlyphs" stroke="#000" stroke-width="0.3">3-MST KO</text>
<line x1="417.5" y1="1473" x2="493.7" y2="1473" stroke="#111" stroke-width="1.8"/>
<line x1="502.5" y1="1473" x2="570" y2="1473" stroke="#111" stroke-width="1.8"/>
<text x="459.85" y="1486" font-family='"Liberation Serif", serif' font-size="14" font-weight="bold" text-anchor="middle" fill="#000" textLength="21.7" lengthAdjust="spacingAndGlyphs" stroke="#000" stroke-width="0.3">ECs</text>
<text x="537.75" y="1486" font-family='"Liberation Serif", serif' font-size="14" font-weight="bold" text-anchor="middle" fill="#000" textLength="22.9" lengthAdjust="spacingAndGlyphs" stroke="#000" stroke-width="0.3">ECs</text>
<text transform="translate(349.4,1378.8) rotate(-90)" x="0" y="0" font-family='"Liberation Serif", serif' font-size="13.6" font-weight="bold" text-anchor="middle" fill="#000" stroke="#000" stroke-width="0.3" textLength="124.7" lengthAdjust="spacingAndGlyphs">TFR-decreased RhoA</text>
<text transform="translate(365.4,1379.7) rotate(-90)" x="0" y="0" font-family='"Liberation Serif", serif' font-size="13.6" font-weight="bold" text-anchor="middle" fill="#000" stroke="#000" stroke-width="0.3" textLength="165" lengthAdjust="spacingAndGlyphs">protein level (RhoA/β-actin)</text>
<circle cx="414.5" cy="1266" r="3.4" fill="#C4562F" stroke="#B04A25" stroke-width="0.4"/>
<text x="437.85" y="1268.52" font-family='"Liberation Serif", serif' font-size="7.6" font-weight="bold" text-anchor="middle" fill="#000" textLength="27.8" lengthAdjust="spacingAndGlyphs" stroke="#000" stroke-width="0.3">WT ECs</text>
<rect x="411.34" y="1273.84" width="6.32" height="6.32" fill="#B8336A" stroke="#A02858" stroke-width="0.4"/>
<text x="445.35" y="1279.52" font-family='"Liberation Serif", serif' font-size="7.6" font-weight="bold" text-anchor="middle" fill="#000" textLength="42.8" lengthAdjust="spacingAndGlyphs" stroke="#000" stroke-width="0.3">CSE KO ECs</text>
<path d="M497.5 1261.67L500.83 1267.67L494.17 1267.67Z" fill="#4D7A28" stroke="#436E20" stroke-width="0.4" stroke-linejoin="round"/>
<text x="521.25" y="1267.52" font-family='"Liberation Serif", serif' font-size="7.6" font-weight="bold" text-anchor="middle" fill="#000" textLength="28" lengthAdjust="spacingAndGlyphs" stroke="#000" stroke-width="0.3">WT ECs</text>
<path d="M497.5 1279.33L500.83 1273.33L494.17 1273.33Z" fill="#14806B" stroke="#0F705E" stroke-width="0.4" stroke-linejoin="round"/>
<text x="533.25" y="1278.52" font-family='"Liberation Serif", serif' font-size="7.6" font-weight="bold" text-anchor="middle" fill="#000" textLength="52" lengthAdjust="spacingAndGlyphs" stroke="#000" stroke-width="0.3">3-MST KO ECs</text>
<line x1="65.7" y1="1515.1" x2="65.7" y2="1668.3" stroke="#000" stroke-width="2"/>
<line x1="58.7" y1="1667.3" x2="65.7" y2="1667.3" stroke="#000" stroke-width="1.7"/>
<text x="56.4" y="1672.1" font-family='"Liberation Sans", sans-serif' font-size="12.3" font-weight="bold" text-anchor="end" fill="#000" stroke="#000" stroke-width="0.15">0</text>
<line x1="58.7" y1="1629.45" x2="65.7" y2="1629.45" stroke="#000" stroke-width="1.7"/>
<text x="56.4" y="1634.25" font-family='"Liberation Sans", sans-serif' font-size="12.3" font-weight="bold" text-anchor="end" fill="#000" stroke="#000" stroke-width="0.15">20</text>
<line x1="58.7" y1="1591.6" x2="65.7" y2="1591.6" stroke="#000" stroke-width="1.7"/>
<text x="56.4" y="1596.4" font-family='"Liberation Sans", sans-serif' font-size="12.3" font-weight="bold" text-anchor="end" fill="#000" stroke="#000" stroke-width="0.15">40</text>
<line x1="58.7" y1="1553.75" x2="65.7" y2="1553.75" stroke="#000" stroke-width="1.7"/>
<text x="56.4" y="1558.55" font-family='"Liberation Sans", sans-serif' font-size="12.3" font-weight="bold" text-anchor="end" fill="#000" stroke="#000" stroke-width="0.15">60</text>
<line x1="58.7" y1="1515.9" x2="65.7" y2="1515.9" stroke="#000" stroke-width="1.7"/>
<text x="56.4" y="1520.7" font-family='"Liberation Sans", sans-serif' font-size="12.3" font-weight="bold" text-anchor="end" fill="#000" stroke="#000" stroke-width="0.15">80</text>
<line x1="106" y1="1558.48" x2="106" y2="1627.56" stroke="#A8452A" stroke-width="1.3"/>
<line x1="100" y1="1558.48" x2="112" y2="1558.48" stroke="#A8452A" stroke-width="1.3"/>
<line x1="100" y1="1627.56" x2="112" y2="1627.56" stroke="#A8452A" stroke-width="1.3"/>
<circle cx="106" cy="1544.29" r="3.6" fill="#C4562F" stroke="#B04A25" stroke-width="0.6"/>
<circle cx="106" cy="1567" r="3.6" fill="#C4562F" stroke="#B04A25" stroke-width="0.6"/>
<circle cx="106" cy="1582.14" r="3.6" fill="#C4562F" stroke="#B04A25" stroke-width="0.6"/>
<circle cx="114.5" cy="1611.47" r="3.6" fill="#C4562F" stroke="#B04A25" stroke-width="0.6"/>
<circle cx="106" cy="1615.26" r="3.6" fill="#C4562F" stroke="#B04A25" stroke-width="0.6"/>
<circle cx="106" cy="1637.02" r="3.6" fill="#C4562F" stroke="#B04A25" stroke-width="0.6"/>
<line x1="94.5" y1="1592.55" x2="117.5" y2="1592.55" stroke="#8B2A12" stroke-width="2"/>
<line x1="140.8" y1="1609.39" x2="140.8" y2="1650.84" stroke="#9A2A5A" stroke-width="1.3"/>
<line x1="134.8" y1="1609.39" x2="146.8" y2="1609.39" stroke="#9A2A5A" stroke-width="1.3"/>
<line x1="134.8" y1="1650.84" x2="146.8" y2="1650.84" stroke="#9A2A5A" stroke-width="1.3"/>
<rect x="129.65" y="1602.45" width="6.7" height="6.7" fill="#B8336A" stroke="#A02858" stroke-width="0.6"/>
<rect x="137.45" y="1608.12" width="6.7" height="6.7" fill="#B8336A" stroke="#A02858" stroke-width="0.6"/>
<rect x="137.45" y="1619.48" width="6.7" height="6.7" fill="#B8336A" stroke="#A02858" stroke-width="0.6"/>
<rect x="137.45" y="1627.99" width="6.7" height="6.7" fill="#B8336A" stroke="#A02858" stroke-width="0.6"/>
<rect x="129.65" y="1651.46" width="6.7" height="6.7" fill="#B8336A" stroke="#A02858" stroke-width="0.6"/>
<rect x="144.65" y="1648.81" width="6.7" height="6.7" fill="#B8336A" stroke="#A02858" stroke-width="0.6"/>
<line x1="129.3" y1="1629.45" x2="152.3" y2="1629.45" stroke="#6A1035" stroke-width="2"/>
<text x="140.8" y="1598.75" font-family='"Liberation Serif", serif' font-size="12.5" font-weight="bold" text-anchor="middle" fill="#111" stroke="#111" stroke-width="0.3">$</text>
<line x1="175.2" y1="1583.08" x2="175.2" y2="1624.72" stroke="#4D7A28" stroke-width="1.3"/>
<line x1="169.2" y1="1583.08" x2="181.2" y2="1583.08" stroke="#4D7A28" stroke-width="1.3"/>
<line x1="169.2" y1="1624.72" x2="181.2" y2="1624.72" stroke="#4D7A28" stroke-width="1.3"/>
<path d="M175.2 1571.99L178.73 1578.34L171.67 1578.34Z" fill="#4D7A28" stroke="#436E20" stroke-width="0.6" stroke-linejoin="round"/>
<path d="M175.2 1587.13L178.73 1593.48L171.67 1593.48Z" fill="#4D7A28" stroke="#436E20" stroke-width="0.6" stroke-linejoin="round"/>
<path d="M175.2 1606.05L178.73 1612.4L171.67 1612.4Z" fill="#4D7A28" stroke="#436E20" stroke-width="0.6" stroke-linejoin="round"/>
<path d="M167.5 1625.92L171.03 1632.27L163.97 1632.27Z" fill="#4D7A28" stroke="#436E20" stroke-width="0.6" stroke-linejoin="round"/>
<path d="M183.6 1621.19L187.13 1627.54L180.07 1627.54Z" fill="#4D7A28" stroke="#436E20" stroke-width="0.6" stroke-linejoin="round"/>
<line x1="163.7" y1="1603.9" x2="186.7" y2="1603.9" stroke="#2A4A15" stroke-width="2"/>
<line x1="210.6" y1="1619.99" x2="210.6" y2="1628.5" stroke="#168270" stroke-width="1.3"/>
<line x1="204.6" y1="1619.99" x2="216.6" y2="1619.99" stroke="#168270" stroke-width="1.3"/>
<line x1="204.6" y1="1628.5" x2="216.6" y2="1628.5" stroke="#168270" stroke-width="1.3"/>
<path d="M202.1 1622.57L205.63 1616.22L198.57 1616.22Z" fill="#14806B" stroke="#0F705E" stroke-width="0.6" stroke-linejoin="round"/>
<path d="M210.6 1622L214.13 1615.65L207.07 1615.65Z" fill="#14806B" stroke="#0F705E" stroke-width="0.6" stroke-linejoin="round"/>
<path d="M219.1 1622.57L222.63 1616.22L215.57 1616.22Z" fill="#14806B" stroke="#0F705E" stroke-width="0.6" stroke-linejoin="round"/>
<path d="M202.1 1630.71L205.63 1624.36L198.57 1624.36Z" fill="#14806B" stroke="#0F705E" stroke-width="0.6" stroke-linejoin="round"/>
<path d="M210.6 1631.09L214.13 1624.74L207.07 1624.74Z" fill="#14806B" stroke="#0F705E" stroke-width="0.6" stroke-linejoin="round"/>
<path d="M219.1 1630.71L222.63 1624.36L215.57 1624.36Z" fill="#14806B" stroke="#0F705E" stroke-width="0.6" stroke-linejoin="round"/>
<line x1="199.1" y1="1624.34" x2="222.1" y2="1624.34" stroke="#0E4A40" stroke-width="2"/>
<text x="210.6" y="1612.25" font-family='"Liberation Serif", serif' font-size="12.5" font-weight="bold" text-anchor="middle" fill="#111" stroke="#111" stroke-width="0.3">$</text>
<line x1="96" y1="1667.3" x2="120.6" y2="1667.3" stroke="#606060" stroke-width="1.5"/>
<line x1="127.4" y1="1667.3" x2="154.3" y2="1667.3" stroke="#606060" stroke-width="1.5"/>
<line x1="161.7" y1="1667.3" x2="187" y2="1667.3" stroke="#606060" stroke-width="1.5"/>
<line x1="196.4" y1="1667.3" x2="222.4" y2="1667.3" stroke="#606060" stroke-width="1.5"/>
<text x="106.7" y="1678" font-family='"Liberation Serif", serif' font-size="8.3" font-weight="bold" text-anchor="middle" fill="#000" textLength="12" lengthAdjust="spacingAndGlyphs" stroke="#000" stroke-width="0.3">WT</text>
<text x="140.35" y="1678" font-family='"Liberation Serif", serif' font-size="8.3" font-weight="bold" text-anchor="middle" fill="#000" textLength="32.1" lengthAdjust="spacingAndGlyphs" stroke="#000" stroke-width="0.3">CSE KO</text>
<text x="175.25" y="1678" font-family='"Liberation Serif", serif' font-size="8.3" font-weight="bold" text-anchor="middle" fill="#000" textLength="12.9" lengthAdjust="spacingAndGlyphs" stroke="#000" stroke-width="0.3">WT</text>
<text x="210.6" y="1678" font-family='"Liberation Serif", serif' font-size="8.3" font-weight="bold" text-anchor="middle" fill="#000" textLength="43.2" lengthAdjust="spacingAndGlyphs" stroke="#000" stroke-width="0.3">3-MST KO</text>
<line x1="82.5" y1="1683.7" x2="157.7" y2="1683.7" stroke="#111" stroke-width="1.8"/>
<line x1="166" y1="1683.7" x2="231.8" y2="1683.7" stroke="#111" stroke-width="1.8"/>
<text x="125.45" y="1696" font-family='"Liberation Serif", serif' font-size="14" font-weight="bold" text-anchor="middle" fill="#000" textLength="24.5" lengthAdjust="spacingAndGlyphs" stroke="#000" stroke-width="0.3">ECs</text>
<text x="202.2" y="1696" font-family='"Liberation Serif", serif' font-size="14" font-weight="bold" text-anchor="middle" fill="#000" textLength="23" lengthAdjust="spacingAndGlyphs" stroke="#000" stroke-width="0.3">ECs</text>
<text transform="translate(18.8,1591) rotate(-90)" x="0" y="0" font-family='"Liberation Serif", serif' font-size="13.6" font-weight="bold" text-anchor="middle" fill="#000" stroke="#000" stroke-width="0.3" textLength="124" lengthAdjust="spacingAndGlyphs">TFR-decreased RhoA</text>
<text transform="translate(35.3,1594.7) rotate(-90)" x="0" y="0" font-family='"Liberation Serif", serif' font-size="13.6" font-weight="bold" text-anchor="middle" fill="#000" stroke="#000" stroke-width="0.3" textLength="117.6" lengthAdjust="spacingAndGlyphs">activity level (ng/L)</text>
<circle cx="80.2" cy="1504" r="3.4" fill="#C4562F" stroke="#B04A25" stroke-width="0.4"/>
<text x="103.95" y="1506.52" font-family='"Liberation Serif", serif' font-size="7.6" font-weight="bold" text-anchor="middle" fill="#000" textLength="30.8" lengthAdjust="spacingAndGlyphs" stroke="#000" stroke-width="0.3">WT ECs</text>
<rect x="77.04" y="1512.14" width="6.32" height="6.32" fill="#B8336A" stroke="#A02858" stroke-width="0.4"/>
<text x="110.65" y="1517.82" font-family='"Liberation Serif", serif' font-size="7.6" font-weight="bold" text-anchor="middle" fill="#000" textLength="44.2" lengthAdjust="spacingAndGlyphs" stroke="#000" stroke-width="0.3">CSE KO ECs</text>
<path d="M164 1500.67L167.33 1506.67L160.67 1506.67Z" fill="#4D7A28" stroke="#436E20" stroke-width="0.4" stroke-linejoin="round"/>
<text x="186.65" y="1506.52" font-family='"Liberation Serif", serif' font-size="7.6" font-weight="bold" text-anchor="middle" fill="#000" textLength="29.2" lengthAdjust="spacingAndGlyphs" stroke="#000" stroke-width="0.3">WT ECs</text>
<path d="M164 1518.33L167.33 1512.33L160.67 1512.33Z" fill="#14806B" stroke="#0F705E" stroke-width="0.4" stroke-linejoin="round"/>
<text x="198.4" y="1517.52" font-family='"Liberation Serif", serif' font-size="7.6" font-weight="bold" text-anchor="middle" fill="#000" textLength="52.7" lengthAdjust="spacingAndGlyphs" stroke="#000" stroke-width="0.3">3-MST KO ECs</text>
<line x1="314.6" y1="1516.2" x2="314.6" y2="1669.1" stroke="#000" stroke-width="2"/>
<line x1="307.6" y1="1668.1" x2="314.6" y2="1668.1" stroke="#000" stroke-width="1.7"/>
<text x="305.6" y="1672.9" font-family='"Liberation Sans", sans-serif' font-size="12.3" font-weight="bold" text-anchor="end" fill="#000" textLength="16.4" lengthAdjust="spacingAndGlyphs" stroke="#000" stroke-width="0.15">0.0</text>
<line x1="307.6" y1="1637.88" x2="314.6" y2="1637.88" stroke="#000" stroke-width="1.7"/>
<text x="305.6" y="1642.68" font-family='"Liberation Sans", sans-serif' font-size="12.3" font-weight="bold" text-anchor="end" fill="#000" textLength="16.4" lengthAdjust="spacingAndGlyphs" stroke="#000" stroke-width="0.15">0.1</text>
<line x1="307.6" y1="1607.66" x2="314.6" y2="1607.66" stroke="#000" stroke-width="1.7"/>
<text x="305.6" y="1612.46" font-family='"Liberation Sans", sans-serif' font-size="12.3" font-weight="bold" text-anchor="end" fill="#000" textLength="16.4" lengthAdjust="spacingAndGlyphs" stroke="#000" stroke-width="0.15">0.2</text>
<line x1="307.6" y1="1577.44" x2="314.6" y2="1577.44" stroke="#000" stroke-width="1.7"/>
<text x="305.6" y="1582.24" font-family='"Liberation Sans", sans-serif' font-size="12.3" font-weight="bold" text-anchor="end" fill="#000" textLength="16.4" lengthAdjust="spacingAndGlyphs" stroke="#000" stroke-width="0.15">0.3</text>
<line x1="307.6" y1="1547.22" x2="314.6" y2="1547.22" stroke="#000" stroke-width="1.7"/>
<text x="305.6" y="1552.02" font-family='"Liberation Sans", sans-serif' font-size="12.3" font-weight="bold" text-anchor="end" fill="#000" textLength="16.4" lengthAdjust="spacingAndGlyphs" stroke="#000" stroke-width="0.15">0.4</text>
<line x1="307.6" y1="1517" x2="314.6" y2="1517" stroke="#000" stroke-width="1.7"/>
<text x="305.6" y="1521.8" font-family='"Liberation Sans", sans-serif' font-size="12.3" font-weight="bold" text-anchor="end" fill="#000" textLength="16.4" lengthAdjust="spacingAndGlyphs" stroke="#000" stroke-width="0.15">0.5</text>
<line x1="354.6" y1="1558.4" x2="354.6" y2="1596.18" stroke="#A8452A" stroke-width="1.3"/>
<line x1="348.6" y1="1558.4" x2="360.6" y2="1558.4" stroke="#A8452A" stroke-width="1.3"/>
<line x1="348.6" y1="1596.18" x2="360.6" y2="1596.18" stroke="#A8452A" stroke-width="1.3"/>
<circle cx="354.6" cy="1562.33" r="3.6" fill="#C4562F" stroke="#B04A25" stroke-width="0.6"/>
<circle cx="354.6" cy="1571.4" r="3.6" fill="#C4562F" stroke="#B04A25" stroke-width="0.6"/>
<circle cx="354.6" cy="1598.59" r="3.6" fill="#C4562F" stroke="#B04A25" stroke-width="0.6"/>
<line x1="343.1" y1="1577.44" x2="366.1" y2="1577.44" stroke="#8B2A12" stroke-width="2"/>
<line x1="389.3" y1="1607.66" x2="389.3" y2="1635.46" stroke="#9A2A5A" stroke-width="1.3"/>
<line x1="383.3" y1="1607.66" x2="395.3" y2="1607.66" stroke="#9A2A5A" stroke-width="1.3"/>
<line x1="383.3" y1="1635.46" x2="395.3" y2="1635.46" stroke="#9A2A5A" stroke-width="1.3"/>
<rect x="385.95" y="1604.31" width="6.7" height="6.7" fill="#B8336A" stroke="#A02858" stroke-width="0.6"/>
<rect x="385.95" y="1619.42" width="6.7" height="6.7" fill="#B8336A" stroke="#A02858" stroke-width="0.6"/>
<rect x="385.95" y="1632.11" width="6.7" height="6.7" fill="#B8336A" stroke="#A02858" stroke-width="0.6"/>
<line x1="377.8" y1="1621.86" x2="400.8" y2="1621.86" stroke="#6A1035" stroke-width="2"/>
<text x="389.3" y="1597.05" font-family='"Liberation Serif", serif' font-size="12.5" font-weight="bold" text-anchor="middle" fill="#111" stroke="#111" stroke-width="0.3">$</text>
<line x1="423.6" y1="1547.22" x2="423.6" y2="1586.51" stroke="#4D7A28" stroke-width="1.3"/>
<line x1="417.6" y1="1547.22" x2="429.6" y2="1547.22" stroke="#4D7A28" stroke-width="1.3"/>
<line x1="417.6" y1="1586.51" x2="429.6" y2="1586.51" stroke="#4D7A28" stroke-width="1.3"/>
<path d="M423.6 1540.67L427.13 1547.02L420.07 1547.02Z" fill="#4D7A28" stroke="#436E20" stroke-width="0.6" stroke-linejoin="round"/>
<path d="M415.2 1576.93L418.73 1583.28L411.67 1583.28Z" fill="#4D7A28" stroke="#436E20" stroke-width="0.6" stroke-linejoin="round"/>
<path d="M432 1570.89L435.53 1577.24L428.47 1577.24Z" fill="#4D7A28" stroke="#436E20" stroke-width="0.6" stroke-linejoin="round"/>
<line x1="412.1" y1="1566.56" x2="435.1" y2="1566.56" stroke="#2A4A15" stroke-width="2"/>
<line x1="459" y1="1598.59" x2="459" y2="1610.68" stroke="#168270" stroke-width="1.3"/>
<line x1="453" y1="1598.59" x2="465" y2="1598.59" stroke="#168270" stroke-width="1.3"/>
<line x1="453" y1="1610.68" x2="465" y2="1610.68" stroke="#168270" stroke-width="1.3"/>
<path d="M459 1602.12L462.53 1595.77L455.47 1595.77Z" fill="#14806B" stroke="#0F705E" stroke-width="0.6" stroke-linejoin="round"/>
<path d="M450.6 1609.68L454.13 1603.33L447.07 1603.33Z" fill="#14806B" stroke="#0F705E" stroke-width="0.6" stroke-linejoin="round"/>
<path d="M467.4 1609.68L470.93 1603.33L463.87 1603.33Z" fill="#14806B" stroke="#0F705E" stroke-width="0.6" stroke-linejoin="round"/>
<line x1="447.5" y1="1606.15" x2="470.5" y2="1606.15" stroke="#0E4A40" stroke-width="2"/>
<text x="459" y="1590.25" font-family='"Liberation Serif", serif' font-size="12.5" font-weight="bold" text-anchor="middle" fill="#111" stroke="#111" stroke-width="0.3">$</text>
<line x1="343.8" y1="1668.1" x2="369" y2="1668.1" stroke="#606060" stroke-width="1.5"/>
<line x1="375.8" y1="1668.1" x2="402.4" y2="1668.1" stroke="#606060" stroke-width="1.5"/>
<line x1="410" y1="1668.1" x2="436.4" y2="1668.1" stroke="#606060" stroke-width="1.5"/>
<line x1="444.9" y1="1668.1" x2="469.8" y2="1668.1" stroke="#606060" stroke-width="1.5"/>
<text x="353.8" y="1678" font-family='"Liberation Serif", serif' font-size="8.3" font-weight="bold" text-anchor="middle" fill="#000" textLength="13" lengthAdjust="spacingAndGlyphs" stroke="#000" stroke-width="0.3">WT</text>
<text x="388.2" y="1678" font-family='"Liberation Serif", serif' font-size="8.3" font-weight="bold" text-anchor="middle" fill="#000" textLength="33" lengthAdjust="spacingAndGlyphs" stroke="#000" stroke-width="0.3">CSE KO</text>
<text x="422.3" y="1678" font-family='"Liberation Serif", serif' font-size="8.3" font-weight="bold" text-anchor="middle" fill="#000" textLength="12.2" lengthAdjust="spacingAndGlyphs" stroke="#000" stroke-width="0.3">WT</text>
<text x="458.8" y="1678" font-family='"Liberation Serif", serif' font-size="8.3" font-weight="bold" text-anchor="middle" fill="#000" textLength="45" lengthAdjust="spacingAndGlyphs" stroke="#000" stroke-width="0.3">3-MST KO</text>
<line x1="333.7" y1="1684.4" x2="406.8" y2="1684.4" stroke="#111" stroke-width="1.8"/>
<line x1="412.8" y1="1684.4" x2="482.6" y2="1684.4" stroke="#111" stroke-width="1.8"/>
<text x="371.75" y="1696" font-family='"Liberation Serif", serif' font-size="14" font-weight="bold" text-anchor="middle" fill="#000" textLength="25.7" lengthAdjust="spacingAndGlyphs" stroke="#000" stroke-width="0.3">ECs</text>
<text x="449.7" y="1696" font-family='"Liberation Serif", serif' font-size="14" font-weight="bold" text-anchor="middle" fill="#000" textLength="24.8" lengthAdjust="spacingAndGlyphs" stroke="#000" stroke-width="0.3">ECs</text>
<text transform="translate(259.7,1591.5) rotate(-90)" x="0" y="0" font-family='"Liberation Serif", serif' font-size="13.6" font-weight="bold" text-anchor="middle" fill="#000" stroke="#000" stroke-width="0.3" textLength="137" lengthAdjust="spacingAndGlyphs">TFR-decreased ROCK<tspan font-size="70%" dy="0.28em">2</tspan></text>
<text transform="translate(277.6,1591.8) rotate(-90)" x="0" y="0" font-family='"Liberation Serif", serif' font-size="13.6" font-weight="bold" text-anchor="middle" fill="#000" stroke="#000" stroke-width="0.3" textLength="177.6" lengthAdjust="spacingAndGlyphs">protein level (ROCK<tspan font-size="70%" dy="0.28em">2</tspan><tspan dy="-0.28em">/β-actin)</tspan></text>
<circle cx="328.3" cy="1505.2" r="3.4" fill="#C4562F" stroke="#B04A25" stroke-width="0.4"/>
<text x="352" y="1507.72" font-family='"Liberation Serif", serif' font-size="7.6" font-weight="bold" text-anchor="middle" fill="#000" textLength="28.1" lengthAdjust="spacingAndGlyphs" stroke="#000" stroke-width="0.3">WT ECs</text>
<rect x="325.14" y="1513.84" width="6.32" height="6.32" fill="#B8336A" stroke="#A02858" stroke-width="0.4"/>
<text x="359.6" y="1519.52" font-family='"Liberation Serif", serif' font-size="7.6" font-weight="bold" text-anchor="middle" fill="#000" textLength="43.3" lengthAdjust="spacingAndGlyphs" stroke="#000" stroke-width="0.3">CSE KO ECs</text>
<path d="M411.8 1501.67L415.13 1507.67L408.47 1507.67Z" fill="#4D7A28" stroke="#436E20" stroke-width="0.4" stroke-linejoin="round"/>
<text x="435.3" y="1507.52" font-family='"Liberation Serif", serif' font-size="7.6" font-weight="bold" text-anchor="middle" fill="#000" textLength="28.1" lengthAdjust="spacingAndGlyphs" stroke="#000" stroke-width="0.3">WT ECs</text>
<path d="M411.8 1520.33L415.13 1514.33L408.47 1514.33Z" fill="#14806B" stroke="#0F705E" stroke-width="0.4" stroke-linejoin="round"/>
<text x="447" y="1519.52" font-family='"Liberation Serif", serif' font-size="7.6" font-weight="bold" text-anchor="middle" fill="#000" textLength="51.5" lengthAdjust="spacingAndGlyphs" stroke="#000" stroke-width="0.3">3-MST KO ECs</text>
<line x1="555.6" y1="1514.6" x2="555.6" y2="1667.8" stroke="#000" stroke-width="2"/>
<line x1="548.6" y1="1666.8" x2="555.6" y2="1666.8" stroke="#000" stroke-width="1.7"/>
<text x="546.5" y="1671.6" font-family='"Liberation Sans", sans-serif' font-size="12.3" font-weight="bold" text-anchor="end" fill="#000" stroke="#000" stroke-width="0.15">0</text>
<line x1="548.6" y1="1628.95" x2="555.6" y2="1628.95" stroke="#000" stroke-width="1.7"/>
<text x="546.5" y="1633.75" font-family='"Liberation Sans", sans-serif' font-size="12.3" font-weight="bold" text-anchor="end" fill="#000" stroke="#000" stroke-width="0.15">20</text>
<line x1="548.6" y1="1591.1" x2="555.6" y2="1591.1" stroke="#000" stroke-width="1.7"/>
<text x="546.5" y="1595.9" font-family='"Liberation Sans", sans-serif' font-size="12.3" font-weight="bold" text-anchor="end" fill="#000" stroke="#000" stroke-width="0.15">40</text>
<line x1="548.6" y1="1553.25" x2="555.6" y2="1553.25" stroke="#000" stroke-width="1.7"/>
<text x="546.5" y="1558.05" font-family='"Liberation Sans", sans-serif' font-size="12.3" font-weight="bold" text-anchor="end" fill="#000" stroke="#000" stroke-width="0.15">60</text>
<line x1="548.6" y1="1515.4" x2="555.6" y2="1515.4" stroke="#000" stroke-width="1.7"/>
<text x="546.5" y="1520.2" font-family='"Liberation Sans", sans-serif' font-size="12.3" font-weight="bold" text-anchor="end" fill="#000" stroke="#000" stroke-width="0.15">80</text>
<line x1="596.3" y1="1578.8" x2="596.3" y2="1616.65" stroke="#A8452A" stroke-width="1.3"/>
<line x1="590.3" y1="1578.8" x2="602.3" y2="1578.8" stroke="#A8452A" stroke-width="1.3"/>
<line x1="590.3" y1="1616.65" x2="602.3" y2="1616.65" stroke="#A8452A" stroke-width="1.3"/>
<circle cx="596.3" cy="1570.28" r="3.6" fill="#C4562F" stroke="#B04A25" stroke-width="0.6"/>
<circle cx="596.3" cy="1581.07" r="3.6" fill="#C4562F" stroke="#B04A25" stroke-width="0.6"/>
<circle cx="596.3" cy="1592.99" r="3.6" fill="#C4562F" stroke="#B04A25" stroke-width="0.6"/>
<circle cx="596.3" cy="1609.08" r="3.6" fill="#C4562F" stroke="#B04A25" stroke-width="0.6"/>
<circle cx="587.8" cy="1616.27" r="3.6" fill="#C4562F" stroke="#B04A25" stroke-width="0.6"/>
<circle cx="604.5" cy="1615.13" r="3.6" fill="#C4562F" stroke="#B04A25" stroke-width="0.6"/>
<line x1="584.8" y1="1597.72" x2="607.8" y2="1597.72" stroke="#8B2A12" stroke-width="2"/>
<line x1="629.3" y1="1616.65" x2="629.3" y2="1624.22" stroke="#9A2A5A" stroke-width="1.3"/>
<line x1="623.3" y1="1616.65" x2="635.3" y2="1616.65" stroke="#9A2A5A" stroke-width="1.3"/>
<line x1="623.3" y1="1624.22" x2="635.3" y2="1624.22" stroke="#9A2A5A" stroke-width="1.3"/>
<rect x="619.15" y="1613.87" width="6.7" height="6.7" fill="#B8336A" stroke="#A02858" stroke-width="0.6"/>
<rect x="625.95" y="1611.79" width="6.7" height="6.7" fill="#B8336A" stroke="#A02858" stroke-width="0.6"/>
<rect x="634.45" y="1611.79" width="6.7" height="6.7" fill="#B8336A" stroke="#A02858" stroke-width="0.6"/>
<rect x="628.75" y="1620.87" width="6.7" height="6.7" fill="#B8336A" stroke="#A02858" stroke-width="0.6"/>
<rect x="624.15" y="1627.49" width="6.7" height="6.7" fill="#B8336A" stroke="#A02858" stroke-width="0.6"/>
<line x1="617.8" y1="1620.24" x2="640.8" y2="1620.24" stroke="#6A1035" stroke-width="2"/>
<text x="629.3" y="1608.05" font-family='"Liberation Serif", serif' font-size="12.5" font-weight="bold" text-anchor="middle" fill="#111" stroke="#111" stroke-width="0.3">$</text>
<line x1="665" y1="1562.33" x2="665" y2="1606.81" stroke="#4D7A28" stroke-width="1.3"/>
<line x1="659" y1="1562.33" x2="671" y2="1562.33" stroke="#4D7A28" stroke-width="1.3"/>
<line x1="659" y1="1606.81" x2="671" y2="1606.81" stroke="#4D7A28" stroke-width="1.3"/>
<path d="M665 1546.88L668.53 1553.23L661.47 1553.23Z" fill="#4D7A28" stroke="#436E20" stroke-width="0.6" stroke-linejoin="round"/>
<path d="M665 1567.7L668.53 1574.05L661.47 1574.05Z" fill="#4D7A28" stroke="#436E20" stroke-width="0.6" stroke-linejoin="round"/>
<path d="M665 1576.22L668.53 1582.57L661.47 1582.57Z" fill="#4D7A28" stroke="#436E20" stroke-width="0.6" stroke-linejoin="round"/>
<path d="M665 1588.14L668.53 1594.49L661.47 1594.49Z" fill="#4D7A28" stroke="#436E20" stroke-width="0.6" stroke-linejoin="round"/>
<path d="M656.4 1607.44L659.93 1613.79L652.87 1613.79Z" fill="#4D7A28" stroke="#436E20" stroke-width="0.6" stroke-linejoin="round"/>
<path d="M673.4 1603.28L676.93 1609.63L669.87 1609.63Z" fill="#4D7A28" stroke="#436E20" stroke-width="0.6" stroke-linejoin="round"/>
<line x1="653.5" y1="1584.85" x2="676.5" y2="1584.85" stroke="#2A4A15" stroke-width="2"/>
<line x1="701.3" y1="1600.56" x2="701.3" y2="1632.73" stroke="#168270" stroke-width="1.3"/>
<line x1="695.3" y1="1600.56" x2="707.3" y2="1600.56" stroke="#168270" stroke-width="1.3"/>
<line x1="695.3" y1="1632.73" x2="707.3" y2="1632.73" stroke="#168270" stroke-width="1.3"/>
<path d="M701.3 1593.68L704.83 1587.33L697.77 1587.33Z" fill="#14806B" stroke="#0F705E" stroke-width="0.6" stroke-linejoin="round"/>
<path d="M693.8 1616.39L697.33 1610.04L690.27 1610.04Z" fill="#14806B" stroke="#0F705E" stroke-width="0.6" stroke-linejoin="round"/>
<path d="M708.8 1616.39L712.33 1610.04L705.27 1610.04Z" fill="#14806B" stroke="#0F705E" stroke-width="0.6" stroke-linejoin="round"/>
<path d="M701.3 1631.53L704.83 1625.18L697.77 1625.18Z" fill="#14806B" stroke="#0F705E" stroke-width="0.6" stroke-linejoin="round"/>
<path d="M701.3 1642.89L704.83 1636.54L697.77 1636.54Z" fill="#14806B" stroke="#0F705E" stroke-width="0.6" stroke-linejoin="round"/>
<line x1="689.8" y1="1616.65" x2="712.8" y2="1616.65" stroke="#0E4A40" stroke-width="2"/>
<text x="701.3" y="1583.25" font-family='"Liberation Serif", serif' font-size="12.5" font-weight="bold" text-anchor="middle" fill="#111" stroke="#111" stroke-width="0.3">$</text>
<line x1="585" y1="1666.8" x2="609.6" y2="1666.8" stroke="#606060" stroke-width="1.5"/>
<line x1="617.4" y1="1666.8" x2="642.2" y2="1666.8" stroke="#606060" stroke-width="1.5"/>
<line x1="652.4" y1="1666.8" x2="677.8" y2="1666.8" stroke="#606060" stroke-width="1.5"/>
<line x1="686.3" y1="1666.8" x2="712.5" y2="1666.8" stroke="#606060" stroke-width="1.5"/>
<text x="595.75" y="1678.5" font-family='"Liberation Serif", serif' font-size="8.3" font-weight="bold" text-anchor="middle" fill="#000" textLength="13.9" lengthAdjust="spacingAndGlyphs" stroke="#000" stroke-width="0.3">WT</text>
<text x="631" y="1678.5" font-family='"Liberation Serif", serif' font-size="8.3" font-weight="bold" text-anchor="middle" fill="#000" textLength="33.4" lengthAdjust="spacingAndGlyphs" stroke="#000" stroke-width="0.3">CSE KO</text>
<text x="664.5" y="1678.5" font-family='"Liberation Serif", serif' font-size="8.3" font-weight="bold" text-anchor="middle" fill="#000" textLength="12.4" lengthAdjust="spacingAndGlyphs" stroke="#000" stroke-width="0.3">WT</text>
<text x="699.4" y="1678.5" font-family='"Liberation Serif", serif' font-size="8.3" font-weight="bold" text-anchor="middle" fill="#000" textLength="44.6" lengthAdjust="spacingAndGlyphs" stroke="#000" stroke-width="0.3">3-MST KO</text>
<line x1="571.5" y1="1684.3" x2="647" y2="1684.3" stroke="#111" stroke-width="1.8"/>
<line x1="656.4" y1="1684.3" x2="724.4" y2="1684.3" stroke="#111" stroke-width="1.8"/>
<text x="612.8" y="1696.5" font-family='"Liberation Serif", serif' font-size="14" font-weight="bold" text-anchor="middle" fill="#000" textLength="24.2" lengthAdjust="spacingAndGlyphs" stroke="#000" stroke-width="0.3">ECs</text>
<text x="692.95" y="1696.5" font-family='"Liberation Serif", serif' font-size="14" font-weight="bold" text-anchor="middle" fill="#000" textLength="24.9" lengthAdjust="spacingAndGlyphs" stroke="#000" stroke-width="0.3">ECs</text>
<text transform="translate(506.5,1590.3) rotate(-90)" x="0" y="0" font-family='"Liberation Serif", serif' font-size="13.6" font-weight="bold" text-anchor="middle" fill="#000" stroke="#000" stroke-width="0.3" textLength="135.8" lengthAdjust="spacingAndGlyphs">TFR-decreased ROCK<tspan font-size="70%" dy="0.28em">2</tspan></text>
<text transform="translate(524.7,1591.2) rotate(-90)" x="0" y="0" font-family='"Liberation Serif", serif' font-size="13.6" font-weight="bold" text-anchor="middle" fill="#000" stroke="#000" stroke-width="0.3" textLength="114" lengthAdjust="spacingAndGlyphs">activity level (IU/L)</text>
<circle cx="569.1" cy="1505.3" r="3.4" fill="#C4562F" stroke="#B04A25" stroke-width="0.4"/>
<text x="592.4" y="1507.82" font-family='"Liberation Serif", serif' font-size="7.6" font-weight="bold" text-anchor="middle" fill="#000" textLength="29.1" lengthAdjust="spacingAndGlyphs" stroke="#000" stroke-width="0.3">WT ECs</text>
<rect x="565.94" y="1514.04" width="6.32" height="6.32" fill="#B8336A" stroke="#A02858" stroke-width="0.4"/>
<text x="600.05" y="1519.72" font-family='"Liberation Serif", serif' font-size="7.6" font-weight="bold" text-anchor="middle" fill="#000" textLength="44.4" lengthAdjust="spacingAndGlyphs" stroke="#000" stroke-width="0.3">CSE KO ECs</text>
<path d="M652.4 1501.67L655.73 1507.67L649.07 1507.67Z" fill="#4D7A28" stroke="#436E20" stroke-width="0.4" stroke-linejoin="round"/>
<text x="675.95" y="1507.52" font-family='"Liberation Serif", serif' font-size="7.6" font-weight="bold" text-anchor="middle" fill="#000" textLength="28.4" lengthAdjust="spacingAndGlyphs" stroke="#000" stroke-width="0.3">WT ECs</text>
<path d="M652.4 1520.33L655.73 1514.33L649.07 1514.33Z" fill="#14806B" stroke="#0F705E" stroke-width="0.4" stroke-linejoin="round"/>
<text x="688.2" y="1519.52" font-family='"Liberation Serif", serif' font-size="7.6" font-weight="bold" text-anchor="middle" fill="#000" textLength="52.9" lengthAdjust="spacingAndGlyphs" stroke="#000" stroke-width="0.3">3-MST KO ECs</text>
</svg></body></html>
